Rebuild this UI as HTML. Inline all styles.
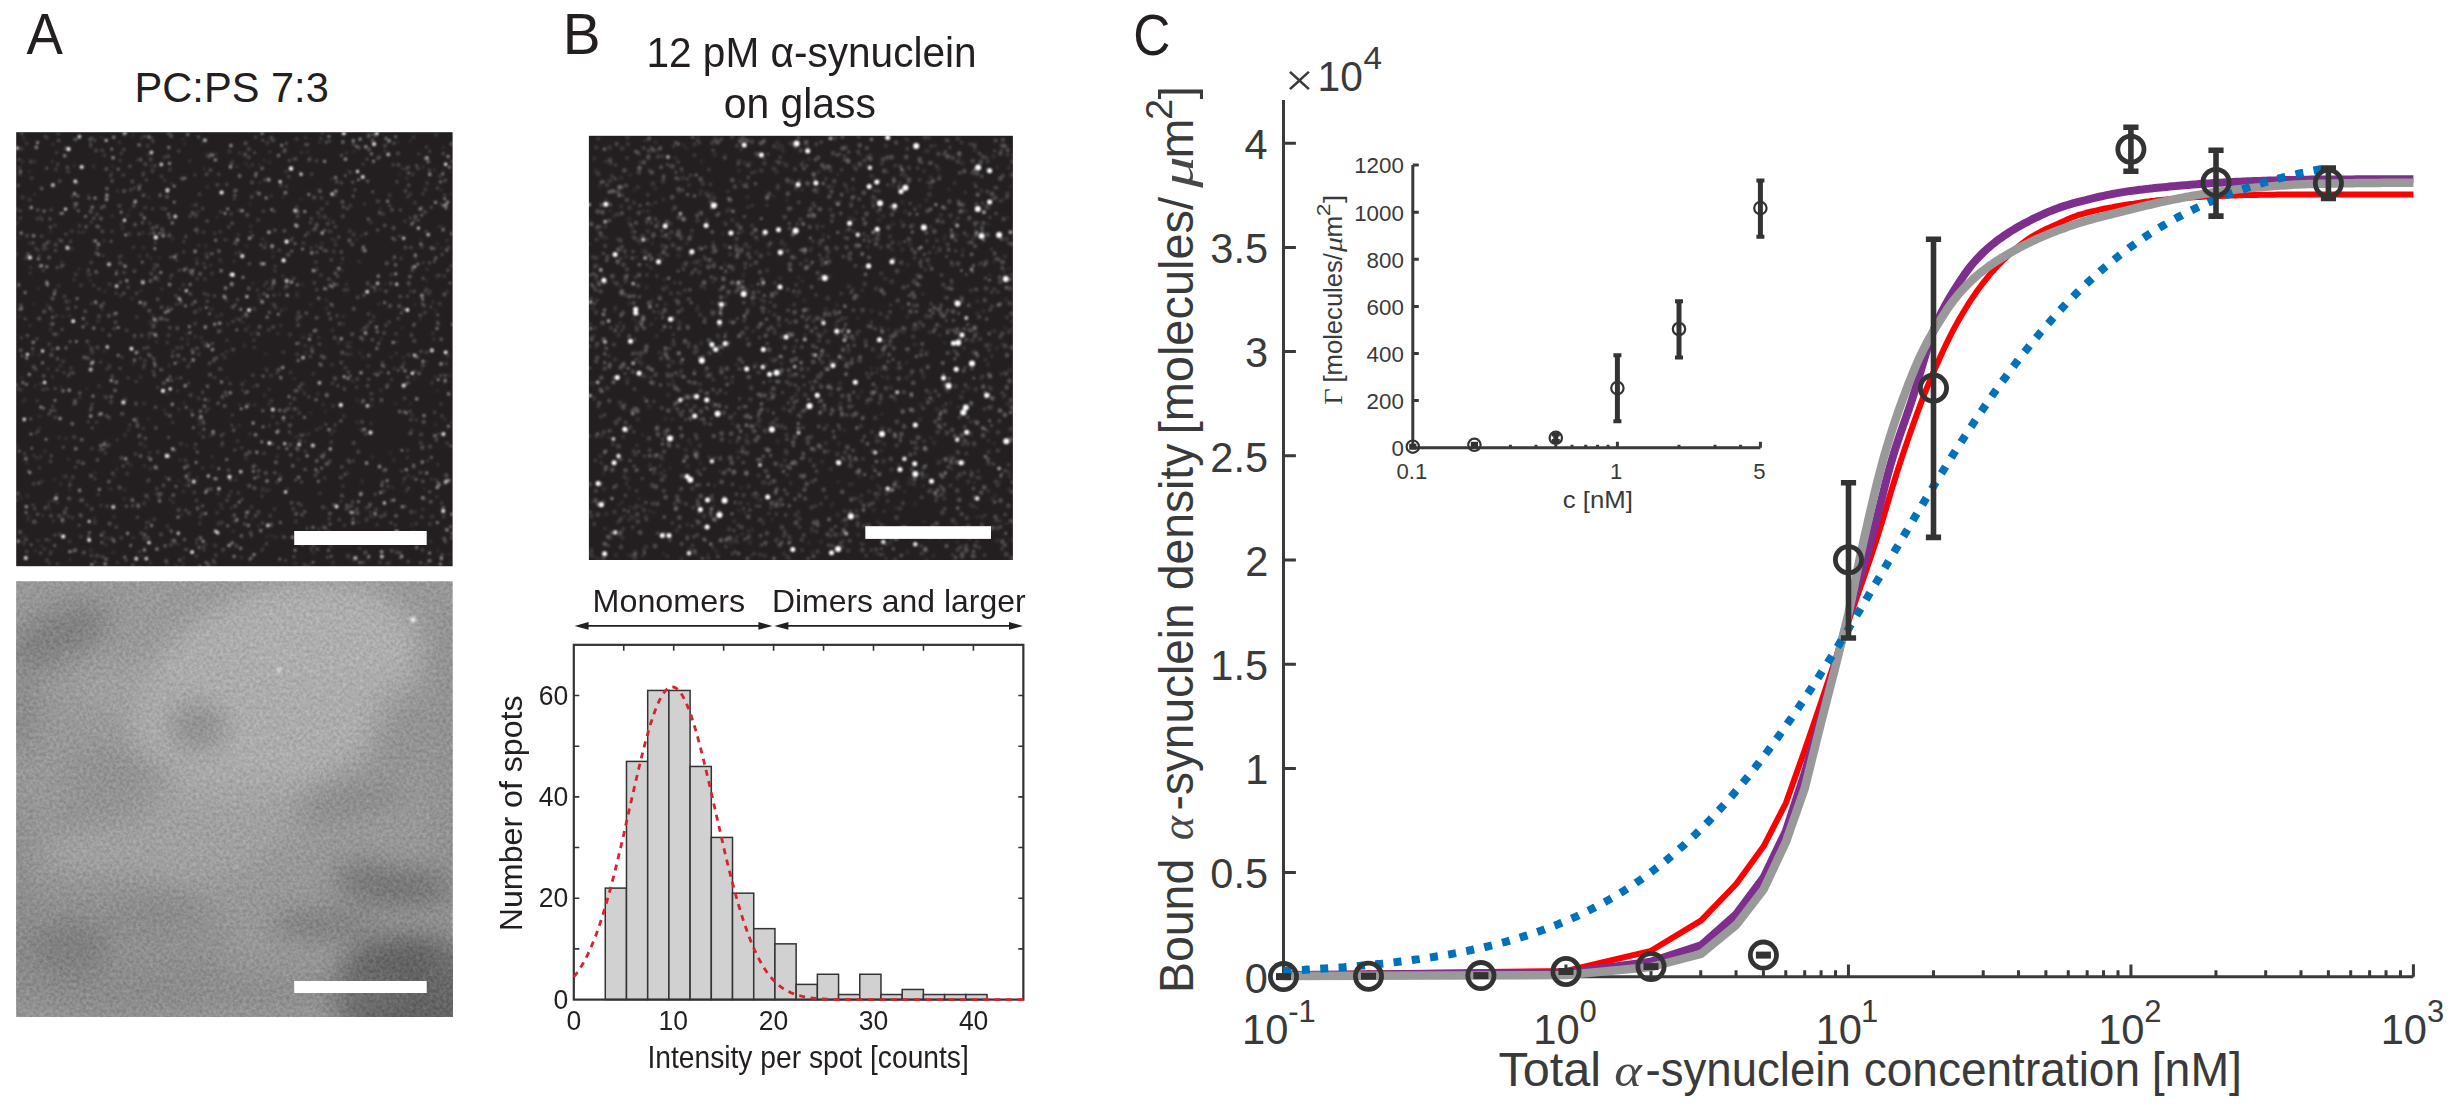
<!DOCTYPE html>
<html lang="en"><head><meta charset="utf-8"><title>Figure</title>
<style>
html,body{margin:0;padding:0;background:#fff;}
body{width:2460px;height:1113px;overflow:hidden;}
svg{display:block;}
text{white-space:pre;}
</style></head><body>
<svg width="2460" height="1113" viewBox="0 0 2460 1113">
<rect width="2460" height="1113" fill="#fff"/>
<defs>
<filter id="b1" x="-5%" y="-5%" width="110%" height="110%"><feGaussianBlur stdDeviation="1.0"/></filter>
<filter id="bb" x="-20%" y="-20%" width="140%" height="140%"><feGaussianBlur stdDeviation="13"/></filter>
<filter id="bs" x="-50%" y="-50%" width="200%" height="200%"><feGaussianBlur stdDeviation="1.6"/></filter>
<filter id="grain" x="0" y="0" width="100%" height="100%" color-interpolation-filters="sRGB">
<feTurbulence type="fractalNoise" baseFrequency="0.3" numOctaves="3" seed="7" result="n"/>
<feColorMatrix in="n" type="matrix" values="1.3 0 0 0 -0.11  1.3 0 0 0 -0.11  1.3 0 0 0 -0.11  0 0 0 0 1"/>
</filter>
<clipPath id="cA1"><rect x="16.2" y="132.2" width="436.4" height="434"/></clipPath>
<clipPath id="cA2"><rect x="16.2" y="581.3" width="436.4" height="435.7"/></clipPath>
<clipPath id="cB"><rect x="588.9" y="135.8" width="424" height="424.2"/></clipPath>
</defs>

<g id="panelA">
<text x="26.49" y="54.00" font-family='"Liberation Sans", sans-serif' font-size="58.24" fill="#231f20" textLength="36.42" lengthAdjust="spacingAndGlyphs">A</text>
<text x="134.59" y="101.60" font-family='"Liberation Sans", sans-serif' font-size="42.64" fill="#231f20" textLength="194.24" lengthAdjust="spacingAndGlyphs">PC:PS 7:3</text>
<rect x="16.2" y="132.2" width="436.4" height="434" fill="#231f20"/>
<g clip-path="url(#cA1)">
<g fill="none" stroke="#fff" stroke-linecap="round" filter="url(#b1)"><path d="M399.7 174.5h0M324.7 452.5h0M402.4 328.0h0M142.3 280.2h0M40.1 187.3h0M61.2 387.3h0M354.1 151.4h0M262.3 491.6h0M271.3 248.2h0M38.3 288.4h0M346.5 342.7h0M216.9 217.0h0M192.4 205.2h0M89.6 345.0h0M287.8 282.5h0M29.4 171.5h0M204.2 168.7h0M143.6 537.6h0M403.2 482.5h0M250.0 204.1h0M443.5 147.4h0M50.8 231.9h0M310.6 413.0h0M138.7 189.2h0M170.0 529.3h0M141.4 556.1h0M244.8 381.3h0M390.4 452.5h0M414.9 304.6h0M270.5 489.8h0M104.2 351.4h0M265.5 353.9h0M35.3 550.6h0M121.6 211.0h0M409.5 276.8h0M373.9 162.9h0M301.8 389.7h0M19.2 148.6h0M451.4 193.8h0M441.7 248.0h0M449.0 554.0h0M114.5 476.3h0M91.3 404.2h0M202.0 142.8h0M326.5 508.2h0M48.4 389.2h0M421.8 472.5h0M435.4 310.6h0M226.9 378.0h0M112.9 166.2h0M300.7 199.2h0M410.5 403.7h0M346.3 541.2h0M300.9 436.2h0M273.6 251.6h0M341.6 263.2h0M426.7 362.1h0M432.3 381.5h0M443.4 171.3h0M178.5 544.2h0M414.3 378.7h0M335.4 178.8h0M424.5 488.7h0M186.8 445.5h0M41.5 546.0h0M373.6 320.6h0M182.8 139.1h0M420.8 239.8h0M380.5 208.5h0M27.0 463.6h0M69.9 559.6h0M69.4 489.8h0M252.2 519.0h0M264.4 160.4h0M363.0 357.4h0M92.7 352.2h0M188.2 339.4h0M290.8 433.9h0M90.1 280.7h0M299.8 172.1h0M26.3 142.9h0M444.4 382.7h0M285.5 308.9h0M420.3 319.0h0M176.7 378.6h0M318.6 343.9h0M159.2 257.5h0M426.9 280.8h0M437.3 390.9h0M50.1 509.3h0M387.6 143.5h0M333.1 565.5h0M150.8 258.4h0M366.4 521.3h0M19.5 238.3h0M342.7 270.7h0M246.5 453.6h0M266.8 536.4h0M344.3 416.5h0M437.6 243.9h0M422.4 369.2h0M130.2 209.6h0M95.2 472.7h0M322.3 248.0h0M283.0 197.3h0M197.7 477.7h0M96.2 303.8h0M395.4 403.5h0M221.6 330.2h0M148.4 419.2h0M436.9 435.9h0M88.6 194.9h0M86.9 388.7h0M98.8 565.3h0M398.1 142.0h0M258.2 525.9h0M188.9 482.1h0M178.9 480.8h0M82.1 232.9h0M184.1 402.7h0M239.4 404.4h0M248.6 166.5h0M272.3 303.7h0M139.1 351.9h0M271.4 535.5h0M365.9 334.0h0M437.8 550.4h0M436.7 439.3h0M259.4 164.9h0M248.9 326.6h0M263.3 547.2h0M385.0 283.8h0M325.2 411.3h0M345.5 353.6h0M232.6 160.2h0M34.2 304.0h0M294.5 378.4h0M132.7 136.6h0M219.6 259.0h0M307.9 151.9h0M307.0 538.8h0M419.6 435.0h0" stroke-width="3.07" opacity="0.074"/><path d="M311.2 550.3h0M177.3 390.7h0M368.1 282.1h0M272.2 288.8h0M250.0 433.9h0M408.0 475.5h0M343.0 537.8h0M225.4 298.3h0M56.6 494.1h0M269.4 425.4h0M170.2 499.7h0M50.2 219.1h0M423.3 262.6h0M33.9 455.6h0M173.2 502.3h0M198.7 245.2h0M183.5 491.6h0M430.7 541.8h0M436.6 496.8h0M208.9 400.3h0M271.2 195.6h0M284.4 192.8h0M379.5 211.9h0M406.5 490.9h0M270.6 515.9h0M164.7 180.4h0M91.5 303.4h0M267.7 178.6h0M189.6 160.9h0M116.5 312.7h0M176.0 565.9h0M149.2 337.3h0M149.6 452.5h0M433.8 339.1h0M24.2 544.2h0M90.2 274.5h0M371.0 423.5h0M385.0 150.7h0M50.1 553.9h0M269.0 404.3h0M427.0 269.3h0M254.7 404.7h0M360.6 535.9h0M149.0 521.5h0M250.8 226.1h0M438.0 464.5h0M346.4 284.3h0M376.7 326.5h0M178.9 409.2h0M280.8 325.3h0M407.2 457.6h0M30.8 267.8h0M332.5 330.1h0M394.1 368.5h0M92.5 404.0h0M34.0 505.2h0M149.4 233.8h0M98.9 226.9h0M269.1 389.2h0M122.9 264.9h0M222.0 508.0h0M272.7 416.4h0M301.7 152.3h0M410.7 291.2h0M202.4 467.9h0M57.3 502.8h0M191.6 410.9h0M264.3 285.4h0M169.2 365.2h0M150.2 542.9h0M190.2 362.4h0M260.4 262.9h0M364.5 203.7h0M23.7 137.9h0M140.5 434.6h0M42.8 515.2h0M430.9 560.8h0M331.0 231.4h0M332.1 239.1h0M156.3 227.4h0M305.4 137.3h0M39.4 255.3h0M312.4 533.7h0M317.1 269.1h0M154.0 264.3h0M236.9 318.5h0M30.3 273.2h0M231.5 508.0h0M49.2 540.3h0M234.1 261.1h0M393.7 459.8h0M269.8 151.7h0M40.5 383.5h0M40.8 456.7h0M170.3 278.0h0M438.4 433.9h0M333.1 562.0h0M46.7 388.3h0M439.5 274.9h0M281.4 378.9h0M235.8 479.9h0M52.4 376.9h0M199.4 398.5h0M117.1 439.9h0M105.9 544.8h0M320.3 538.9h0M267.1 282.0h0M234.5 429.2h0M236.8 166.8h0M233.4 531.1h0M406.8 178.1h0M368.1 366.1h0M396.2 353.4h0M235.9 253.8h0M23.8 542.1h0M436.0 479.3h0M414.3 324.5h0M208.4 408.6h0M431.7 479.0h0M242.8 316.4h0M150.5 562.8h0M165.8 477.8h0M407.8 377.3h0M260.1 299.3h0M35.6 433.3h0M400.9 412.4h0M427.7 460.7h0M370.5 512.2h0M231.1 491.6h0M133.2 537.7h0M195.1 336.6h0M318.8 337.5h0M144.3 539.6h0M52.2 161.8h0M197.9 211.6h0M433.0 333.1h0M340.7 501.4h0M268.7 289.1h0M440.9 204.1h0M141.4 137.9h0M242.4 390.1h0M117.5 562.6h0M103.4 255.4h0M239.3 152.9h0M41.2 266.0h0M58.9 239.5h0M78.5 232.0h0M30.1 325.3h0M53.3 520.9h0M80.0 397.2h0M241.1 557.6h0M32.3 505.0h0M119.4 142.4h0M187.7 344.1h0M65.8 438.2h0" stroke-width="3.07" opacity="0.121"/><path d="M408.8 382.6h0M38.0 250.0h0M441.6 503.0h0M407.8 197.0h0M97.4 248.2h0M220.2 231.8h0M99.0 244.4h0M206.6 343.1h0M353.3 460.9h0M422.9 193.6h0M152.6 208.7h0M100.6 362.0h0M426.5 147.0h0M264.5 180.0h0M121.2 153.4h0M167.3 342.5h0M368.2 136.6h0M204.9 279.0h0M325.8 527.8h0M80.1 392.8h0M326.6 289.1h0M146.5 522.7h0M93.7 241.0h0M342.6 258.6h0M64.0 372.6h0M88.3 421.8h0M322.1 133.1h0M21.3 337.7h0M395.4 525.3h0M436.1 134.9h0M164.6 319.3h0M112.0 231.3h0M103.7 532.6h0M305.3 144.6h0M320.9 138.4h0M214.8 377.6h0M387.8 384.2h0M94.9 478.7h0M299.3 343.0h0M197.3 228.6h0M234.4 198.8h0M183.9 241.5h0M105.3 453.3h0M290.4 403.7h0M23.8 420.2h0M208.1 294.9h0M16.5 500.0h0M43.3 270.5h0M416.2 523.6h0M49.8 218.8h0M159.0 496.7h0M96.5 422.2h0M317.8 471.5h0M335.7 244.7h0M313.2 230.0h0M330.9 546.3h0M344.6 525.2h0M320.0 364.1h0M430.1 291.2h0M279.0 155.3h0M232.3 415.1h0M48.4 505.7h0M356.5 387.1h0M413.7 137.0h0M197.0 278.9h0M155.2 242.8h0M320.0 344.1h0M160.1 194.5h0M142.9 175.3h0M401.5 471.1h0M75.5 467.3h0M116.7 271.2h0M425.8 231.3h0M382.3 362.2h0M52.7 406.4h0M146.3 527.5h0M444.8 195.0h0M217.0 512.7h0M103.9 449.3h0M428.7 294.0h0M176.4 254.9h0M56.6 152.6h0M335.4 195.3h0M194.8 174.7h0M369.0 507.1h0M102.8 556.7h0M134.2 188.0h0M440.9 404.1h0M196.4 556.2h0M420.1 472.6h0M348.8 506.6h0M128.1 377.8h0M430.8 306.9h0M234.5 521.5h0M91.2 222.3h0M188.7 383.1h0M285.6 560.5h0M329.0 518.7h0M220.8 211.9h0M136.3 381.5h0M317.6 472.2h0M166.0 414.0h0M226.9 340.3h0M98.9 289.0h0M203.5 232.3h0M283.5 352.1h0M281.0 477.6h0M257.2 192.2h0M144.1 364.9h0M448.0 355.9h0M18.5 388.9h0M375.0 290.5h0M93.8 285.2h0M57.3 563.8h0M214.3 358.2h0M35.8 248.3h0M116.1 293.0h0M209.9 362.9h0M231.9 425.4h0M333.2 222.4h0M95.1 562.0h0M244.7 155.3h0M392.2 533.1h0M401.1 258.5h0M226.6 395.4h0M315.7 270.9h0M301.4 384.0h0M317.3 317.8h0M203.1 546.8h0M24.5 453.4h0M241.7 447.8h0M262.0 550.1h0M429.8 151.4h0M183.7 251.9h0M399.6 236.2h0M284.7 537.4h0M277.2 423.1h0M181.9 338.5h0M405.3 506.5h0M410.1 217.8h0M387.2 563.4h0M157.4 387.3h0M210.7 253.6h0" stroke-width="3.07" opacity="0.169"/><path d="M289.3 160.6h0M34.7 508.8h0M400.4 210.0h0M156.7 468.2h0M390.9 522.7h0M136.1 421.0h0M301.6 482.0h0M278.6 447.6h0M251.4 535.7h0M192.2 304.3h0M429.3 170.3h0M311.8 174.3h0M271.7 137.3h0M26.7 551.6h0M53.6 334.1h0M57.1 267.4h0M139.2 189.3h0M373.1 134.5h0M254.5 152.7h0M79.1 525.2h0M347.6 208.6h0M397.0 181.9h0M386.0 469.6h0M54.8 410.5h0M205.1 267.6h0M308.9 396.7h0M230.1 383.5h0M348.4 372.0h0M215.7 555.1h0M90.4 410.2h0M418.2 220.2h0M74.1 403.8h0M296.4 448.0h0M327.3 557.3h0M442.1 254.5h0M411.0 247.4h0M226.8 184.4h0M222.4 442.7h0M66.2 508.2h0M398.1 370.2h0M139.0 233.9h0M16.4 209.4h0M203.3 436.9h0M396.5 515.7h0M106.3 415.5h0M184.1 359.4h0M349.6 462.0h0M408.3 488.0h0M137.4 517.2h0M339.3 519.6h0M434.3 248.3h0M54.9 535.1h0M221.4 435.5h0M218.8 174.2h0M337.9 385.8h0M126.2 560.0h0M75.8 307.1h0M57.8 164.2h0M392.4 237.9h0M165.5 208.8h0M235.4 304.7h0M407.6 377.0h0M409.6 276.5h0M414.3 291.4h0M161.3 493.9h0M55.1 388.5h0M272.6 443.8h0M422.5 550.1h0M46.9 242.9h0M295.6 480.0h0M375.2 494.3h0M332.5 305.5h0M351.3 505.9h0M354.9 189.7h0M171.7 380.6h0M28.5 471.0h0M307.1 528.2h0M155.0 165.8h0M440.7 375.4h0M63.4 447.1h0M289.3 431.7h0M46.9 559.8h0M150.4 355.9h0M434.3 261.4h0M186.3 268.0h0M135.6 200.7h0M437.5 188.0h0M51.3 455.9h0M22.1 355.7h0M64.5 296.2h0M400.0 552.9h0M91.8 138.1h0M366.9 159.0h0M298.1 503.3h0M202.6 208.5h0M403.8 309.1h0M233.4 430.6h0M286.3 143.4h0M304.5 564.7h0M325.8 424.2h0M25.2 318.8h0M434.7 412.3h0M413.3 532.2h0M148.8 480.1h0M56.5 498.1h0M75.7 449.0h0M284.5 230.6h0M156.8 488.5h0M146.4 180.0h0M167.5 319.8h0M88.4 536.4h0M202.7 392.3h0M447.7 480.1h0M36.9 338.8h0M212.4 253.8h0M88.6 269.7h0M408.2 561.4h0M174.6 450.2h0M55.5 250.5h0M364.6 327.8h0M230.4 480.1h0M214.4 295.8h0M68.3 375.7h0M414.8 371.4h0M37.9 431.5h0M195.6 444.2h0M431.2 207.2h0M335.4 226.7h0M40.6 553.1h0M371.9 399.6h0M352.6 501.9h0M44.6 245.0h0M262.8 140.3h0M168.5 437.4h0M410.1 411.3h0M273.9 295.3h0M244.5 523.9h0M132.7 505.9h0M258.2 476.5h0M421.0 351.4h0M297.3 319.7h0M116.2 313.4h0M340.6 420.9h0M185.6 510.2h0M331.3 442.1h0M20.3 210.7h0M441.1 557.0h0M132.9 500.7h0M18.8 284.0h0M90.5 143.8h0M46.3 539.6h0M72.8 477.1h0M77.0 203.8h0M193.5 360.6h0M123.4 175.0h0M66.7 246.6h0M92.2 428.0h0M341.5 182.9h0M216.8 478.8h0M384.8 515.2h0M316.8 289.7h0M180.8 377.9h0M123.9 149.6h0M413.3 325.2h0M311.4 218.6h0M136.1 404.1h0M201.2 538.5h0M62.1 329.6h0M228.8 227.0h0M404.7 398.3h0M370.4 322.1h0M212.5 343.5h0M338.8 236.9h0M329.7 141.1h0M429.4 262.9h0M123.2 465.9h0M344.9 474.4h0M273.7 282.1h0M368.7 379.3h0M144.8 136.3h0M227.0 500.4h0M291.3 239.9h0M367.5 283.7h0" stroke-width="3.07" opacity="0.216"/><path d="M381.2 338.9h0M54.8 479.7h0M151.3 165.6h0M102.3 309.2h0M25.0 399.5h0M199.7 433.4h0M433.1 301.9h0M435.7 424.2h0M94.4 518.4h0M372.2 457.1h0M178.1 361.9h0M111.7 173.1h0M371.7 405.2h0M314.0 552.9h0M326.3 300.1h0M279.9 474.5h0M167.2 393.9h0M61.3 262.1h0M443.7 512.4h0M377.4 536.4h0M183.8 558.1h0M53.2 144.4h0M444.8 419.3h0M167.2 564.3h0M253.7 386.4h0M253.6 422.4h0M27.0 143.7h0M186.8 334.2h0M259.6 182.8h0M180.0 289.1h0M439.4 226.4h0M391.2 357.4h0M392.5 487.5h0M21.5 377.5h0M287.6 489.0h0M63.7 515.7h0M269.7 162.4h0M49.3 501.9h0M239.1 425.5h0M236.6 244.2h0M39.0 355.3h0M124.8 489.9h0M359.8 352.9h0M180.0 460.1h0M245.9 163.5h0M184.5 143.7h0M148.8 197.3h0M302.6 284.7h0M341.6 420.7h0M250.8 231.7h0M42.2 481.4h0M451.8 422.2h0M171.5 133.1h0M357.1 422.4h0M19.2 316.5h0M101.3 137.2h0M403.6 357.8h0M134.5 337.9h0M121.7 255.9h0M246.5 246.1h0M137.4 159.9h0M157.0 336.6h0M20.8 498.3h0M140.9 290.8h0M181.8 514.8h0M242.9 322.4h0M202.8 341.9h0M411.6 524.9h0M410.3 141.1h0M156.5 342.1h0M84.2 231.4h0M393.4 259.2h0M62.8 316.4h0M435.1 376.8h0M357.3 400.1h0M227.3 525.9h0M22.8 162.0h0M449.4 375.5h0M133.7 363.6h0M78.9 269.1h0M331.4 179.0h0M445.7 528.9h0M329.3 219.4h0M70.2 481.0h0M63.7 476.3h0M203.1 421.6h0M266.0 283.2h0M319.7 142.6h0M310.8 304.4h0M35.3 385.9h0M305.0 441.5h0M216.2 154.0h0M140.2 184.3h0M409.3 194.5h0M184.8 485.5h0M34.8 194.5h0M197.6 397.8h0M23.2 401.4h0M203.9 139.5h0M396.9 342.1h0M40.5 216.6h0M222.1 369.3h0M147.1 481.6h0M350.2 342.6h0M210.1 435.6h0M39.2 428.4h0M343.4 316.3h0M97.0 273.4h0M74.1 165.5h0M227.1 300.8h0M317.9 394.1h0M25.0 258.5h0M116.7 469.0h0M305.9 352.8h0M361.4 235.5h0M279.4 294.4h0M434.4 169.6h0M171.6 183.7h0M38.9 266.7h0M356.5 239.6h0M441.3 190.3h0M348.7 171.8h0M194.7 448.3h0M423.1 167.1h0M43.3 244.9h0M104.8 291.4h0M148.6 498.7h0M101.1 556.4h0M450.1 562.3h0M443.1 227.3h0M331.3 434.0h0M253.2 283.2h0M212.3 466.3h0M164.1 409.9h0M325.3 529.0h0M68.5 459.4h0M212.3 456.9h0M343.4 415.7h0" stroke-width="3.60" opacity="0.074"/><path d="M437.5 321.5h0M274.8 271.1h0M362.6 249.9h0M196.8 539.7h0M176.6 304.3h0M276.9 373.0h0M305.1 345.7h0M407.6 450.3h0M283.3 536.4h0M238.3 492.9h0M254.9 309.3h0M266.9 370.8h0M46.5 248.3h0M350.5 172.4h0M139.4 551.8h0M45.0 136.3h0M220.8 504.3h0M379.7 156.9h0M251.6 506.8h0M125.2 435.0h0M215.1 563.6h0M90.8 146.4h0M266.2 369.0h0M305.2 451.4h0M224.9 296.5h0M62.8 522.1h0M253.3 308.8h0M254.0 340.2h0M175.3 543.2h0M304.4 393.4h0M144.2 403.6h0M257.5 290.0h0M342.9 485.9h0M266.8 490.6h0M206.3 411.2h0M109.4 444.8h0M362.1 402.7h0M286.4 186.6h0M200.2 517.2h0M51.0 551.9h0M225.0 357.8h0M196.5 543.2h0M72.4 196.6h0M120.9 295.7h0M121.4 457.5h0M127.4 462.9h0M140.4 358.4h0M106.9 369.1h0M410.4 276.4h0M99.1 386.1h0M254.3 347.5h0M121.9 357.3h0M92.1 352.3h0M414.6 219.8h0M102.7 329.5h0M44.5 548.8h0M161.9 208.4h0M129.9 424.9h0M252.5 164.7h0M221.4 314.7h0M404.1 363.2h0M66.0 476.2h0M319.8 493.4h0M133.5 247.4h0M68.4 516.4h0M363.1 164.3h0M311.0 248.0h0M359.6 548.5h0M177.4 328.9h0M376.9 524.8h0M172.8 422.2h0M98.1 494.6h0M316.7 429.5h0M16.7 254.1h0M444.3 276.3h0M425.4 291.3h0M120.2 160.6h0M214.6 233.3h0M300.4 434.9h0M189.0 474.1h0M347.2 354.5h0M127.5 281.5h0M49.1 563.0h0M72.5 517.8h0M318.6 529.2h0M237.5 441.1h0M447.9 481.6h0M109.4 367.3h0M331.9 364.8h0M222.4 354.4h0M56.5 315.8h0M86.6 323.6h0M272.3 285.9h0M199.8 523.4h0M405.1 221.3h0M308.5 565.5h0M324.6 478.0h0M418.8 153.7h0M101.0 505.5h0M309.9 158.3h0M87.0 505.0h0M391.0 274.7h0M274.4 509.1h0M366.1 507.9h0M39.6 467.8h0M328.9 231.2h0M136.7 316.9h0M81.2 516.2h0M160.5 369.6h0M323.9 250.4h0M349.7 347.0h0M384.4 366.4h0M239.5 252.4h0M152.2 171.6h0M313.3 373.7h0M333.0 282.7h0M262.1 496.3h0M218.1 493.6h0M206.2 254.0h0M262.8 488.5h0M204.9 346.1h0M143.6 367.6h0M297.2 316.3h0M333.0 405.9h0M415.4 257.5h0M149.7 223.4h0M152.1 138.3h0M373.8 316.5h0M172.9 351.5h0M416.4 420.0h0M143.3 428.5h0M63.5 264.7h0M391.6 379.5h0M147.3 255.4h0M167.5 526.3h0M55.1 225.2h0M296.8 206.6h0M222.0 445.4h0M238.8 210.2h0M261.3 133.3h0M290.4 372.5h0M223.4 433.9h0M167.7 307.5h0M371.2 516.3h0M368.1 558.4h0M275.2 266.4h0M281.2 310.3h0M74.4 139.3h0M342.6 496.2h0M347.1 346.5h0M285.8 171.7h0M405.8 169.0h0M370.8 222.2h0M176.5 260.3h0M69.6 541.5h0M216.1 159.2h0M283.7 420.4h0M183.5 284.8h0M203.7 263.4h0M203.9 550.0h0M37.3 400.7h0" stroke-width="3.60" opacity="0.121"/><path d="M120.0 368.4h0M293.3 508.9h0M237.6 299.7h0M407.5 296.2h0M297.2 390.7h0M426.7 352.2h0M255.5 137.2h0M353.2 143.9h0M389.6 205.7h0M341.5 495.3h0M91.2 262.4h0M154.1 268.7h0M51.1 209.7h0M204.5 293.8h0M310.3 356.6h0M416.2 356.7h0M374.8 374.0h0M263.4 211.2h0M96.9 214.3h0M190.1 216.2h0M321.4 365.4h0M66.2 301.4h0M337.1 315.7h0M331.4 259.9h0M152.3 333.2h0M371.4 393.7h0M170.8 544.9h0M152.9 141.5h0M357.4 379.1h0M179.2 270.3h0M234.8 450.0h0M239.5 319.8h0M188.2 366.4h0M337.0 284.4h0M178.8 151.1h0M59.7 534.4h0M128.2 287.4h0M41.7 236.2h0M103.5 303.6h0M252.9 375.3h0M385.8 325.4h0M207.4 301.4h0M110.7 175.8h0M130.7 189.9h0M421.5 434.3h0M410.9 419.7h0M404.5 478.7h0M65.9 234.0h0M242.2 384.3h0M91.4 555.6h0M274.4 304.9h0M321.8 208.8h0M124.0 272.4h0M73.2 372.9h0M279.2 250.2h0M157.0 226.2h0M294.0 556.7h0M398.2 318.4h0M53.7 500.3h0M148.7 457.4h0M389.2 322.0h0M321.4 197.9h0M315.3 475.4h0M288.8 176.7h0M348.2 460.2h0M153.4 371.5h0M116.4 527.1h0M171.7 275.2h0M196.4 500.5h0M121.3 537.9h0M365.8 433.9h0M395.5 515.9h0M196.0 204.9h0M19.3 159.5h0M94.8 140.4h0M177.2 347.8h0M216.9 357.9h0M135.5 454.0h0M195.1 323.6h0M293.9 278.3h0M136.6 293.3h0M421.7 516.9h0M262.5 523.1h0M376.2 509.3h0M451.4 265.7h0M368.6 313.9h0M353.2 522.6h0M25.9 459.4h0M49.2 344.2h0M33.7 483.9h0M144.2 348.3h0M436.3 439.9h0M35.9 369.4h0M197.0 263.4h0M210.5 154.4h0M393.2 164.8h0M160.1 272.2h0M161.7 370.0h0M70.5 241.5h0M316.6 160.7h0M43.4 248.7h0M379.6 213.3h0M337.6 276.4h0M190.8 272.4h0M147.8 347.6h0M199.6 194.3h0M320.5 191.6h0M175.9 295.7h0M295.9 514.1h0M256.5 451.7h0M253.0 466.8h0M245.3 392.7h0M343.5 536.2h0M57.4 370.0h0M425.0 312.6h0M298.5 312.4h0M417.9 168.6h0M102.2 150.2h0M242.0 499.5h0M281.0 185.5h0M442.2 554.9h0M107.0 506.2h0M141.4 533.0h0M314.4 282.9h0M126.8 330.2h0M310.3 222.7h0M233.0 321.5h0M245.3 153.8h0M431.0 247.6h0M123.8 134.6h0M55.1 417.4h0M153.1 227.9h0M266.4 543.7h0M50.4 461.4h0M219.6 368.9h0M234.5 190.7h0M41.9 219.3h0M303.0 435.0h0M156.1 466.7h0M335.1 425.0h0M274.2 211.3h0M318.2 212.7h0" stroke-width="3.60" opacity="0.169"/><path d="M188.6 479.8h0M400.6 557.8h0M126.4 506.2h0M169.7 217.8h0M375.6 135.5h0M69.9 485.1h0M145.3 438.3h0M225.5 392.2h0M161.5 307.2h0M257.4 385.2h0M298.1 325.0h0M326.3 142.2h0M112.2 376.3h0M89.8 139.6h0M411.6 335.1h0M153.6 358.7h0M183.1 178.7h0M255.7 515.8h0M190.3 293.9h0M139.7 145.0h0M400.2 296.4h0M32.7 348.7h0M408.7 185.2h0M228.5 470.2h0M225.4 298.2h0M129.9 166.2h0M323.8 455.0h0M273.2 327.0h0M445.1 180.4h0M422.8 481.4h0M352.7 182.2h0M210.3 170.1h0M186.0 549.6h0M299.5 387.0h0M104.2 206.4h0M408.2 167.3h0M76.0 139.6h0M401.4 313.0h0M384.2 333.0h0M172.5 356.1h0M264.1 293.8h0M252.0 182.4h0M367.5 385.8h0M423.2 278.2h0M169.8 327.7h0M148.7 354.6h0M168.6 133.6h0M299.9 440.8h0M437.9 482.4h0M154.3 375.3h0M423.1 365.2h0M236.1 190.5h0M37.8 210.0h0M155.9 427.9h0M438.0 323.9h0M343.4 207.0h0M331.2 556.2h0M326.3 250.7h0M18.5 285.5h0M422.6 303.8h0M330.5 318.7h0M222.6 396.4h0M142.5 222.7h0M375.6 515.0h0M116.6 381.6h0M424.1 305.7h0M344.4 389.0h0M114.1 541.5h0M412.4 270.3h0M58.6 140.5h0M50.9 515.7h0M157.6 299.4h0M97.4 459.9h0M246.7 315.9h0M45.3 507.9h0M341.9 467.0h0M333.9 504.8h0M353.1 518.7h0M57.5 358.8h0M372.3 339.8h0M168.2 156.2h0M227.9 525.8h0M67.4 167.2h0M155.6 407.3h0M330.0 524.1h0M112.1 180.9h0M18.2 185.3h0M235.3 506.0h0M197.1 348.2h0M112.7 473.3h0M373.6 540.9h0M413.8 466.9h0M427.5 158.5h0M364.1 295.3h0M448.7 394.5h0M384.7 225.4h0M385.9 291.4h0M188.8 485.5h0M339.6 323.7h0M251.3 557.5h0M37.6 514.3h0M339.4 268.9h0M393.9 143.2h0M378.1 158.1h0M91.8 509.0h0M200.1 537.5h0M316.2 330.2h0M317.3 549.0h0M297.8 449.6h0M451.7 538.0h0M288.2 408.8h0M163.5 485.4h0M392.0 209.9h0M27.5 335.5h0M101.5 207.5h0M38.9 483.1h0M274.8 472.7h0M234.8 195.3h0M120.4 282.2h0M61.3 240.9h0M431.9 248.6h0M352.3 244.6h0M294.4 408.9h0M394.5 239.6h0M412.5 267.2h0M304.7 511.7h0M138.5 506.8h0M55.0 290.9h0M323.7 527.0h0M378.7 343.4h0M447.9 270.3h0M50.5 227.2h0M404.4 411.7h0M123.8 293.3h0M162.0 229.0h0M445.3 541.6h0M160.2 195.8h0M398.5 164.7h0M365.9 233.6h0M336.9 181.7h0M115.5 322.2h0M20.7 305.4h0M109.5 335.3h0M232.2 223.3h0M341.3 252.0h0M417.1 356.9h0M87.3 357.7h0M302.0 514.9h0M207.1 257.2h0M249.4 263.7h0M158.9 493.9h0M87.9 358.5h0M269.4 312.4h0M328.8 313.6h0M87.1 341.4h0M179.7 560.1h0M382.4 482.3h0M93.8 218.2h0M61.6 266.2h0M358.2 451.9h0M157.3 265.4h0M307.4 144.5h0M331.0 304.3h0M445.2 375.5h0M295.7 159.0h0M207.2 221.0h0M73.9 550.9h0M85.2 311.4h0" stroke-width="3.60" opacity="0.216"/><path d="M389.9 562.3h0M144.5 465.9h0M151.5 228.8h0M98.0 321.1h0M199.4 309.9h0M205.8 544.6h0M273.1 256.8h0M200.8 337.4h0M431.8 383.5h0M351.1 354.1h0M310.9 548.3h0M153.0 315.9h0M132.2 298.6h0M104.4 240.8h0M17.4 222.9h0M211.7 309.2h0M39.7 416.2h0M47.6 305.5h0M93.7 166.5h0M380.8 390.2h0M251.5 333.7h0M366.6 328.6h0M297.0 216.9h0M426.1 564.9h0M209.2 364.1h0M275.6 537.0h0M414.7 323.8h0M110.5 489.3h0M262.7 238.7h0M205.6 246.0h0M59.2 437.5h0M338.9 342.5h0M75.9 403.4h0M207.6 186.9h0M122.6 228.4h0M385.2 512.8h0M32.6 353.8h0M244.4 345.4h0M359.0 261.7h0M227.9 324.4h0M293.1 159.1h0M284.4 231.3h0M302.9 383.8h0M261.0 263.8h0M245.8 458.9h0M412.9 477.2h0M323.1 404.5h0M105.4 441.8h0M265.9 179.8h0M265.9 243.2h0M139.4 256.1h0M135.5 402.7h0M222.0 398.4h0M319.6 216.9h0M277.9 333.5h0M29.9 243.3h0M156.2 493.5h0M292.0 417.1h0M16.4 446.7h0M48.0 368.7h0M295.2 563.6h0M72.2 249.1h0M353.6 560.3h0M358.2 522.1h0M91.1 550.5h0M361.8 329.7h0M21.0 389.9h0M121.4 458.4h0M161.8 289.2h0M28.3 519.2h0M226.8 351.9h0M148.4 154.8h0M24.2 536.9h0M422.9 509.4h0M408.8 284.7h0M143.0 233.0h0M69.3 301.7h0M446.8 240.2h0M117.3 191.0h0M50.5 329.6h0M200.5 308.8h0M150.4 468.4h0M51.0 324.4h0M412.4 415.2h0M143.7 247.7h0M127.8 215.4h0M346.5 152.7h0M326.4 308.2h0M282.8 275.8h0M114.0 516.7h0M130.8 465.1h0M303.3 337.4h0M60.7 484.0h0M380.2 289.2h0M297.3 295.7h0M321.9 243.3h0M320.4 427.7h0M60.6 365.7h0M109.3 365.3h0M316.6 246.4h0M270.5 138.9h0M220.7 261.0h0M128.7 430.1h0M259.1 295.1h0M298.4 459.2h0M36.9 457.9h0M109.6 538.3h0M150.2 322.8h0M343.5 323.8h0M34.8 161.9h0M292.5 238.1h0M308.3 433.9h0M379.1 303.8h0M158.1 279.9h0M133.2 132.2h0M216.7 316.6h0M74.0 279.9h0M415.4 512.1h0M206.6 155.0h0M28.7 516.8h0M334.2 430.8h0M69.6 315.8h0M410.7 194.0h0M105.3 537.9h0M347.4 473.1h0M264.7 395.1h0M349.1 239.3h0M284.8 288.0h0M52.4 311.0h0M196.6 259.1h0M38.1 540.6h0M335.3 240.8h0M297.1 409.0h0M238.2 235.1h0M152.6 169.7h0M58.6 285.8h0M113.5 552.2h0M112.2 216.3h0M45.3 451.2h0M296.7 293.6h0M269.8 515.6h0M87.9 272.1h0M296.2 436.8h0M447.1 291.5h0M256.5 332.5h0M88.0 275.2h0M199.4 424.0h0M402.6 168.6h0M27.6 495.9h0M411.7 430.0h0M362.0 481.4h0M145.1 446.1h0M277.1 456.4h0M353.0 381.0h0M334.8 543.2h0M124.4 498.7h0M183.2 564.3h0M140.5 377.3h0M210.6 265.2h0M172.7 238.6h0M121.6 224.0h0" stroke-width="4.13" opacity="0.074"/><path d="M129.4 233.9h0M147.7 145.7h0M284.4 151.7h0M290.0 334.6h0M156.7 277.0h0M70.2 373.3h0M202.0 514.0h0M125.3 399.5h0M52.5 349.3h0M412.8 174.3h0M345.5 367.9h0M236.5 239.5h0M366.7 519.0h0M315.8 262.1h0M420.7 442.9h0M368.2 536.6h0M149.1 333.8h0M95.0 522.5h0M333.8 251.6h0M380.9 372.3h0M197.2 231.8h0M296.5 513.5h0M109.7 284.3h0M429.9 524.1h0M166.7 454.3h0M104.5 155.2h0M63.2 361.4h0M427.1 183.1h0M316.1 317.8h0M19.3 168.1h0M440.0 176.3h0M367.7 325.4h0M114.2 328.6h0M225.5 239.7h0M344.0 290.0h0M144.1 503.4h0M79.6 225.7h0M154.0 324.4h0M267.3 142.9h0M181.6 178.6h0M55.9 169.4h0M275.5 307.8h0M229.5 151.5h0M379.9 562.2h0M443.7 516.4h0M371.6 286.5h0M350.4 205.5h0M446.1 363.7h0M181.8 347.4h0M154.1 519.3h0M161.5 176.2h0M79.4 393.3h0M303.4 243.1h0M201.9 419.2h0M425.5 189.2h0M301.0 505.1h0M422.1 246.5h0M326.4 463.5h0M426.6 289.3h0M215.2 545.5h0M248.4 404.5h0M185.6 460.3h0M264.0 453.3h0M295.9 521.5h0M180.9 443.8h0M119.4 257.0h0M349.7 231.1h0M447.3 443.2h0M127.3 473.8h0M297.9 215.7h0M198.8 354.2h0M408.8 355.0h0M140.5 443.7h0M164.5 157.2h0M157.8 451.9h0M48.8 241.7h0M383.7 491.2h0M144.3 305.8h0M68.0 171.4h0M80.5 500.5h0M135.8 419.0h0M389.7 195.2h0M396.1 333.7h0M299.3 413.0h0M332.5 383.2h0M320.0 364.1h0M297.2 354.2h0M271.3 400.7h0M327.1 203.3h0M432.3 516.5h0M21.5 148.7h0M194.2 492.4h0M31.7 178.1h0M27.2 257.6h0M311.5 347.9h0M46.8 137.8h0M383.0 214.1h0M189.6 270.8h0M414.9 202.8h0M107.3 446.1h0M277.0 482.3h0M168.5 335.4h0M222.0 522.5h0M19.9 174.2h0M439.7 303.9h0M180.8 302.9h0M58.3 133.6h0M424.6 498.9h0M310.1 335.3h0M268.8 329.7h0M296.6 139.0h0M75.8 274.3h0M218.6 523.5h0M231.0 213.9h0M160.2 318.6h0M145.0 360.7h0M320.8 275.0h0M228.9 495.7h0M177.2 327.6h0M212.0 273.5h0M76.7 183.0h0M364.4 332.5h0M29.7 199.7h0M81.0 285.4h0M193.0 269.5h0M270.9 375.6h0M91.8 448.5h0M199.1 419.0h0M143.6 173.0h0M71.0 368.1h0M362.8 339.4h0M22.6 197.2h0M448.5 247.3h0M43.1 389.5h0M437.5 276.0h0M308.1 233.1h0M145.3 207.7h0M321.0 456.0h0M169.9 169.5h0M387.9 486.2h0M37.4 218.7h0M353.7 234.4h0M75.0 207.1h0M20.3 218.1h0M347.2 289.8h0M137.3 424.1h0M71.9 231.2h0M172.3 540.8h0M442.0 416.1h0M258.1 220.1h0M245.9 329.6h0M80.8 536.7h0" stroke-width="4.13" opacity="0.121"/><path d="M309.2 160.0h0M391.8 550.9h0M327.7 223.8h0M119.9 262.9h0M96.3 253.1h0M357.7 297.2h0M362.0 421.9h0M231.7 285.0h0M59.7 181.1h0M405.5 191.0h0M319.3 190.5h0M421.4 208.0h0M133.8 205.9h0M245.9 454.7h0M398.0 153.4h0M362.7 562.5h0M248.1 511.9h0M141.3 214.6h0M206.6 174.3h0M329.0 279.3h0M250.8 532.9h0M178.7 509.9h0M236.5 545.9h0M264.5 247.4h0M150.8 159.5h0M341.2 362.6h0M291.4 168.1h0M420.4 315.2h0M235.0 242.9h0M340.9 477.5h0M145.4 164.2h0M383.4 536.6h0M189.1 513.1h0M203.6 423.1h0M223.1 549.8h0M101.0 449.5h0M258.4 512.1h0M217.3 184.7h0M291.7 502.8h0M324.7 216.8h0M391.8 500.5h0M55.7 244.8h0M346.7 508.7h0M105.9 397.1h0M300.3 316.7h0M322.9 507.2h0M405.4 247.5h0M59.1 515.9h0M422.9 295.0h0M82.3 499.9h0M91.5 348.8h0M342.8 216.2h0M213.5 560.8h0M231.6 163.6h0M284.8 149.9h0M67.9 308.6h0M108.8 417.6h0M96.1 150.6h0M161.4 318.4h0M141.7 335.5h0M353.7 442.9h0M425.0 212.1h0M326.9 395.8h0M396.9 552.3h0M258.6 470.8h0M195.9 215.6h0M377.9 201.2h0M102.5 231.5h0M233.1 349.6h0M334.8 337.9h0M430.0 446.6h0M294.1 398.8h0M78.3 461.8h0M96.9 555.7h0M137.6 426.2h0M408.7 282.9h0M356.7 509.4h0M190.6 395.1h0M251.7 196.8h0M328.3 532.4h0M192.4 350.1h0M414.3 340.9h0M132.3 181.4h0M134.5 271.1h0M290.2 444.6h0M97.5 347.5h0M132.8 565.4h0M329.5 461.4h0M362.1 430.0h0M348.2 556.1h0M74.2 437.0h0M210.8 489.1h0M384.9 145.8h0M30.8 161.6h0M411.2 511.9h0M161.0 534.4h0M195.0 312.0h0M80.4 514.9h0M153.3 326.8h0M390.9 283.6h0M62.5 519.9h0M381.1 516.5h0M254.4 465.8h0M213.9 360.6h0M273.3 140.5h0M327.1 464.2h0M274.8 230.2h0M66.0 148.4h0M27.0 235.7h0M147.9 537.9h0M56.2 334.3h0M111.1 402.0h0M248.7 157.2h0M115.9 382.7h0M99.0 316.2h0M49.3 413.7h0M163.0 232.3h0M313.2 545.4h0M295.3 390.7h0M248.9 149.1h0M151.3 273.6h0M119.5 205.8h0" stroke-width="4.13" opacity="0.169"/><path d="M329.9 513.6h0M271.2 524.6h0M140.6 159.7h0M247.3 215.0h0M18.2 541.6h0M410.5 433.3h0M91.0 475.8h0M69.1 498.5h0M342.4 201.9h0M153.6 233.0h0M390.0 305.9h0M441.2 339.2h0M284.8 410.7h0M422.5 447.4h0M353.7 308.8h0M83.1 463.2h0M352.2 334.3h0M290.0 425.2h0M124.2 191.1h0M90.7 211.6h0M178.2 355.6h0M444.1 538.5h0M249.4 452.2h0M52.7 323.9h0M286.8 286.2h0M209.2 156.5h0M315.4 228.5h0M402.2 367.2h0M446.2 475.4h0M415.5 216.6h0M146.3 495.7h0M83.8 552.5h0M75.8 448.5h0M155.0 278.2h0M273.7 283.3h0M357.6 513.3h0M119.6 487.6h0M28.1 254.3h0M316.7 224.7h0M326.8 394.6h0M169.9 415.8h0M386.8 263.4h0M166.2 561.1h0M208.7 565.4h0M39.2 318.6h0M64.7 512.2h0M430.8 501.8h0M169.2 235.4h0M399.2 306.1h0M192.7 212.9h0M444.4 294.4h0M135.0 224.6h0M335.4 273.3h0M369.0 149.5h0M34.0 521.7h0M213.1 434.0h0M248.8 288.4h0M386.9 386.8h0M143.5 195.2h0M368.8 135.3h0M197.6 508.4h0M187.4 466.0h0M342.3 352.6h0M273.8 280.6h0M360.9 337.8h0M138.0 505.0h0M272.2 245.9h0M312.3 351.4h0M358.6 147.5h0M245.6 143.3h0M122.2 413.8h0M324.2 357.5h0M106.4 169.0h0M113.0 539.4h0M210.0 374.7h0M224.6 406.0h0M249.2 485.7h0M52.6 298.4h0M245.9 313.7h0M381.5 400.1h0M451.5 143.9h0M335.1 378.4h0M149.3 310.7h0M232.9 307.1h0M422.0 447.8h0M155.9 320.2h0M114.7 313.8h0M101.0 218.6h0M200.2 273.9h0M393.6 228.1h0M297.5 211.4h0M132.1 499.7h0M265.8 473.0h0M384.3 470.3h0M108.9 315.7h0M254.4 488.0h0M144.7 534.8h0M288.3 254.8h0M34.7 521.9h0M75.3 203.9h0M101.1 306.1h0M423.7 421.9h0M349.6 240.8h0M278.5 369.8h0M49.1 257.5h0M314.1 197.5h0M419.0 373.4h0M139.4 186.8h0M44.2 311.5h0M33.8 367.0h0M425.6 158.5h0M163.9 383.0h0M109.6 523.6h0M321.8 356.3h0M51.3 354.9h0M386.4 539.6h0M259.6 326.7h0M25.9 458.4h0M361.2 493.1h0M20.7 350.3h0M167.1 196.8h0M234.2 515.4h0M372.5 140.2h0M111.2 396.8h0M365.4 552.6h0M368.7 355.6h0M218.8 331.4h0M75.1 400.9h0M56.2 498.1h0M97.3 226.5h0M20.1 532.1h0M370.0 504.5h0M17.7 493.6h0" stroke-width="4.13" opacity="0.216"/></g>
<g fill="none" stroke="#fff" stroke-linecap="round" filter="url(#b1)"><path d="M260.9 244.8h0M21.8 133.7h0M305.3 235.4h0M170.8 257.2h0M171.6 308.9h0M62.4 519.7h0M202.6 506.0h0M26.3 539.6h0M70.1 341.7h0M346.6 505.2h0M429.7 492.0h0M198.6 137.0h0M195.2 229.9h0M192.3 274.3h0M413.6 465.0h0M252.4 235.9h0M134.6 335.5h0M350.2 376.0h0M91.4 407.8h0M138.5 144.8h0M377.7 230.1h0M353.2 196.2h0M416.5 165.6h0M33.1 243.1h0M451.9 161.4h0M341.5 155.4h0M51.2 410.5h0M420.7 562.8h0M30.7 418.8h0M111.1 241.4h0M372.8 191.8h0M413.2 222.7h0M16.8 384.9h0M185.8 236.6h0M246.0 516.9h0M31.2 544.9h0M46.7 168.2h0M449.9 283.1h0M316.8 252.4h0M170.1 376.7h0M450.9 446.1h0M437.7 314.9h0M320.5 247.9h0M443.1 153.6h0M374.6 287.5h0M345.3 175.7h0" stroke-width="2.80" opacity="0.295"/><path d="M359.4 562.4h0M78.3 210.8h0M366.4 291.9h0M159.5 233.3h0M280.4 522.5h0M52.6 317.4h0M218.0 403.3h0M77.9 196.1h0M399.3 411.3h0M142.2 262.2h0M236.7 329.9h0M89.5 532.7h0M41.9 188.7h0M43.6 408.4h0M60.7 213.5h0M321.7 468.2h0M334.3 284.7h0M168.9 456.2h0M247.5 391.8h0M176.0 486.4h0M161.1 272.7h0M368.3 219.2h0M199.9 566.2h0M31.8 448.3h0M324.5 230.3h0M209.5 313.8h0M66.0 348.0h0M356.1 146.2h0M255.6 176.0h0M381.8 485.5h0M333.4 535.8h0M193.4 427.7h0M416.0 479.4h0M199.0 547.5h0M431.4 457.4h0" stroke-width="2.80" opacity="0.365"/><path d="M26.1 512.6h0M190.0 332.7h0M263.0 426.8h0M332.2 286.9h0M174.2 202.2h0M443.3 205.6h0M257.0 452.6h0M280.7 377.5h0M239.2 502.2h0M55.0 400.5h0M318.4 481.4h0M452.3 324.4h0M83.3 318.6h0M262.0 264.1h0M358.4 179.8h0M449.2 480.3h0M83.3 318.3h0M286.8 448.7h0M386.0 138.5h0M388.4 373.0h0M230.3 274.8h0M124.7 557.1h0M62.6 213.3h0M406.3 413.0h0M133.9 419.8h0M116.3 273.9h0M31.0 434.1h0M315.7 469.7h0M121.1 212.3h0M85.5 216.4h0M401.9 450.3h0M254.8 478.2h0M185.4 306.0h0M111.8 149.2h0M218.8 468.7h0M442.8 174.0h0M395.6 136.8h0M428.2 161.9h0M100.7 445.7h0M262.5 133.4h0M417.9 264.2h0" stroke-width="2.80" opacity="0.435"/><path d="M302.5 249.1h0M26.7 358.2h0M175.0 363.3h0M54.4 293.9h0M227.7 208.9h0M193.1 359.7h0M174.2 186.1h0M371.5 153.9h0M444.7 198.8h0M180.4 300.2h0M376.4 327.3h0M192.4 415.0h0M373.5 161.2h0M212.1 349.9h0M196.1 462.4h0M125.7 235.0h0M422.7 299.2h0M25.1 292.6h0M295.1 550.3h0M271.7 209.6h0M437.4 522.7h0M212.9 349.3h0M289.0 396.6h0M126.7 280.5h0M368.9 556.4h0M241.2 408.8h0M189.3 326.7h0M154.9 248.7h0M302.7 544.1h0M394.0 500.1h0M225.0 213.5h0M308.8 194.5h0M261.8 441.9h0M278.3 314.3h0M375.0 513.2h0M172.3 223.0h0M240.8 309.4h0M438.2 379.7h0M118.2 355.3h0M76.4 341.6h0" stroke-width="2.80" opacity="0.505"/><path d="M263.1 376.1h0M290.7 454.8h0M139.1 436.2h0M197.4 452.0h0M43.7 375.9h0M328.3 550.4h0M171.4 531.3h0M450.7 526.6h0M278.3 155.7h0M118.2 169.2h0M18.3 540.8h0M203.9 429.3h0M19.2 451.0h0M305.1 469.5h0M279.7 559.1h0M171.2 136.2h0M306.3 313.0h0M408.5 172.9h0M448.5 393.3h0M394.7 256.9h0M262.8 410.7h0M291.7 251.0h0M249.9 559.3h0M313.0 562.3h0M96.0 271.7h0M155.1 365.7h0M186.2 407.3h0M50.1 308.2h0M421.7 215.2h0M207.2 489.7h0M322.6 457.0h0M54.8 545.5h0M101.9 542.5h0M185.1 178.0h0M258.5 334.1h0M75.7 549.9h0M89.0 198.1h0M406.4 383.6h0M295.1 243.6h0M192.5 271.1h0M86.1 226.7h0M367.6 181.1h0M184.5 539.5h0" stroke-width="3.20" opacity="0.295"/><path d="M106.9 188.6h0M397.7 537.1h0M184.6 467.7h0M279.7 410.2h0M20.1 309.3h0M253.4 471.2h0M167.2 191.3h0M46.1 439.3h0M313.0 527.4h0M226.7 459.5h0M384.6 302.6h0M22.9 382.7h0M314.3 330.8h0M20.5 171.6h0M134.5 360.1h0M330.0 285.5h0M445.1 482.9h0M246.7 512.7h0M26.5 384.3h0M83.0 326.8h0M215.7 240.2h0M440.6 181.8h0M190.2 284.4h0M205.2 399.6h0M21.7 308.3h0M42.6 362.8h0M338.5 268.3h0M169.0 479.2h0M296.8 343.5h0M77.1 298.6h0M130.7 545.3h0M304.4 417.3h0M44.1 211.1h0M452.3 533.2h0M358.4 501.6h0M292.8 465.8h0M352.9 523.1h0M267.1 317.2h0M206.3 307.5h0M446.0 208.1h0" stroke-width="3.20" opacity="0.365"/><path d="M429.6 553.0h0M437.0 328.5h0M93.0 396.0h0M243.0 277.3h0M363.4 247.2h0M237.8 240.0h0M151.6 525.4h0M168.8 147.4h0M95.6 240.9h0M420.9 244.0h0M178.1 517.0h0M184.3 269.8h0M99.3 489.4h0M387.6 201.2h0M387.1 480.6h0M63.0 390.8h0M165.3 312.3h0M364.6 429.3h0M439.2 484.7h0M348.0 378.4h0M205.6 513.5h0M321.5 540.0h0M353.1 512.6h0M187.7 134.5h0M215.2 160.0h0M240.7 548.3h0M234.1 556.4h0M118.1 327.5h0M93.8 328.1h0M46.8 282.2h0M221.5 381.9h0M221.1 270.7h0M281.6 145.3h0M212.7 155.0h0M272.1 246.2h0M405.0 370.8h0M443.1 229.8h0M380.6 492.6h0M324.7 288.6h0M144.3 217.9h0M232.1 542.9h0M328.8 136.5h0M449.5 167.1h0M266.1 197.9h0" stroke-width="3.20" opacity="0.435"/><path d="M205.8 492.2h0M29.9 472.5h0M95.0 198.0h0M213.1 431.6h0M95.6 302.1h0M167.8 379.9h0M254.1 554.5h0M353.3 140.7h0M295.6 224.9h0M21.2 233.0h0M401.8 556.2h0M421.6 295.6h0M360.1 139.2h0M91.8 564.5h0M452.0 514.2h0M92.9 361.9h0M447.0 529.9h0M253.1 423.1h0M37.5 142.6h0M267.4 296.1h0M309.4 339.4h0M378.3 276.1h0M415.3 255.0h0M324.6 161.3h0M69.9 551.6h0M127.6 533.3h0M169.5 163.4h0M395.7 273.8h0M203.1 541.3h0M424.0 415.6h0M423.0 361.3h0M448.1 156.4h0M125.2 266.2h0M307.1 455.8h0M174.6 256.9h0M40.9 407.0h0M447.6 202.2h0M105.1 563.9h0M304.8 211.6h0M441.4 558.6h0M365.7 332.9h0M29.3 374.4h0M435.5 202.3h0M393.2 342.4h0M335.8 191.2h0" stroke-width="3.20" opacity="0.505"/><path d="M195.0 301.9h0M298.2 360.6h0M98.6 254.6h0M416.6 547.4h0M446.8 250.1h0M395.6 264.9h0M165.1 545.8h0M150.4 280.9h0M256.1 173.5h0M218.9 251.1h0M451.7 233.6h0M115.0 390.4h0M206.4 562.8h0M382.6 365.6h0M99.4 414.6h0M173.3 495.1h0M145.1 303.2h0M101.3 535.3h0M108.9 481.6h0M241.4 535.9h0M318.7 298.2h0M443.2 507.8h0M278.1 430.9h0M376.8 348.4h0M84.2 357.3h0M435.8 258.0h0M200.4 411.3h0M276.0 462.4h0M377.5 374.8h0M207.5 386.2h0M204.5 406.3h0M316.7 460.9h0M81.7 439.8h0M411.7 224.2h0M154.5 363.1h0M168.5 214.3h0M262.2 168.4h0M297.4 284.7h0M155.1 467.2h0M316.0 399.8h0M140.6 456.1h0M363.3 400.8h0M377.2 331.7h0M174.4 540.5h0M106.0 559.1h0M192.9 352.8h0" stroke-width="3.60" opacity="0.295"/><path d="M420.1 209.1h0M46.7 266.7h0M440.4 564.1h0M72.3 423.7h0M323.1 539.0h0M285.6 192.7h0M150.6 459.4h0M98.2 244.3h0M186.2 476.4h0M259.2 193.8h0M239.6 175.9h0M224.1 296.4h0M342.9 142.1h0M429.1 560.7h0M248.3 525.4h0M426.7 473.0h0M448.4 426.3h0M159.6 500.9h0M335.6 177.5h0M434.8 435.7h0M260.7 530.6h0M298.6 477.3h0M38.5 258.8h0M92.2 207.3h0" stroke-width="3.60" opacity="0.365"/><path d="M225.6 288.0h0M33.6 235.7h0M195.1 251.4h0M279.6 479.8h0M292.5 537.3h0M422.3 462.1h0M55.9 498.3h0M156.9 549.0h0M287.3 295.2h0M236.8 519.9h0M360.6 494.5h0M104.2 444.3h0M33.3 342.2h0M406.3 469.7h0M36.3 147.4h0M230.3 392.8h0M422.6 497.7h0M47.4 284.6h0M64.7 155.7h0M255.6 434.8h0M101.2 413.7h0M364.9 250.8h0M168.3 311.0h0M154.2 319.2h0M144.4 549.9h0M267.0 481.1h0M215.1 478.8h0M416.7 398.9h0M231.8 283.7h0M214.7 324.2h0M169.6 284.6h0M445.2 380.6h0M79.6 490.4h0M172.3 404.4h0M277.0 432.3h0M311.8 252.9h0M149.0 137.0h0M329.0 429.8h0M402.4 506.7h0M426.9 157.7h0M113.7 137.3h0" stroke-width="3.60" opacity="0.435"/><path d="M366.6 463.1h0M345.5 159.2h0M113.1 157.7h0M429.8 174.4h0M379.5 466.6h0M246.6 406.7h0M341.3 338.8h0M140.3 302.5h0M106.9 195.4h0M90.7 416.1h0M365.8 146.8h0M361.0 372.8h0M414.7 266.8h0M208.3 345.7h0M282.7 367.5h0M91.7 363.5h0M283.5 417.7h0M230.9 145.6h0M232.9 275.3h0M205.3 327.1h0M106.6 199.5h0M74.6 193.7h0M41.2 265.8h0M441.0 363.9h0M229.1 545.4h0M155.3 334.9h0M26.3 506.8h0M389.1 140.8h0M135.1 201.9h0M179.1 298.5h0M351.1 512.4h0M163.2 235.8h0M69.2 390.2h0M249.6 238.2h0M344.2 376.8h0M185.2 385.8h0M262.2 301.9h0M381.7 551.9h0M437.3 487.4h0M296.9 226.1h0M230.5 166.9h0M31.2 207.6h0M136.3 352.6h0M125.6 458.8h0M57.8 348.2h0M268.8 179.9h0M263.9 263.8h0M445.8 205.1h0M200.9 416.8h0M291.5 282.1h0M111.3 380.5h0M313.4 270.6h0M60.1 418.6h0M219.7 323.3h0M242.1 210.7h0" stroke-width="3.60" opacity="0.505"/></g>
<g fill="none" stroke="#fff" stroke-linecap="round" filter="url(#b1)"><path d="M322.2 233.0h0M268.9 232.3h0M400.7 535.8h0M208.3 476.0h0M106.2 140.4h0M330.3 448.9h0M172.7 448.9h0" stroke-width="3.40" opacity="0.650"/><path d="M178.3 533.2h0M403.7 238.2h0M414.5 355.2h0M418.4 228.1h0M215.6 531.2h0M89.2 521.4h0M284.7 443.6h0M186.3 290.7h0M384.4 503.0h0M396.7 284.3h0M218.9 488.7h0M246.9 296.6h0" stroke-width="3.40" opacity="0.750"/><path d="M217.7 532.8h0M124.5 220.3h0M65.5 209.1h0M42.6 351.0h0M280.2 181.7h0M17.1 148.1h0M27.4 354.4h0M285.6 492.0h0M107.3 347.0h0M357.5 171.5h0M24.3 419.2h0M367.4 291.7h0M301.1 174.2h0" stroke-width="3.40" opacity="0.850"/><path d="M170.2 388.9h0M44.6 382.5h0M445.7 164.2h0M148.9 542.6h0M412.4 373.3h0" stroke-width="3.40" opacity="0.950"/><path d="M205.0 140.3h0M446.1 481.3h0M124.9 132.9h0M388.3 154.4h0M377.6 283.3h0M319.5 382.8h0M240.7 471.7h0M428.2 234.6h0M303.1 357.6h0" stroke-width="3.80" opacity="0.650"/><path d="M299.1 444.5h0M267.9 525.4h0M161.3 164.4h0M381.9 556.6h0M116.6 286.1h0M151.4 152.5h0M146.3 558.6h0M318.3 534.4h0M175.3 216.5h0M79.4 136.7h0M367.5 405.8h0M332.2 194.1h0" stroke-width="3.80" opacity="0.750"/><path d="M25.8 558.0h0M136.2 558.7h0M75.3 181.3h0M376.8 133.2h0M336.5 506.5h0M362.8 177.0h0" stroke-width="3.80" opacity="0.850"/><path d="M407.4 309.9h0M443.2 510.9h0M73.2 321.2h0M131.5 348.7h0M89.1 540.0h0M445.7 352.3h0M249.0 310.1h0M192.1 552.1h0M269.4 443.1h0" stroke-width="3.80" opacity="0.950"/><path d="M142.9 282.4h0M109.0 264.3h0M396.7 531.8h0M90.7 369.6h0M52.9 185.2h0M286.7 280.9h0M355.4 558.0h0M295.2 210.7h0" stroke-width="4.20" opacity="0.650"/><path d="M67.6 248.0h0M431.9 350.4h0M167.5 190.1h0M193.8 481.7h0M113.3 507.0h0M312.9 445.5h0M272.8 409.6h0" stroke-width="4.20" opacity="0.750"/><path d="M123.4 402.4h0M81.7 167.0h0M30.0 257.6h0M374.1 144.1h0M370.5 432.6h0M343.8 133.3h0M242.3 256.2h0M229.5 476.9h0M443.4 434.1h0M403.7 385.6h0" stroke-width="4.20" opacity="0.850"/><path d="M63.2 536.5h0M283.6 260.4h0M68.5 149.1h0M291.0 168.7h0M155.8 237.4h0M340.8 405.1h0M221.6 192.5h0M163.0 390.8h0M286.6 241.7h0M166.9 456.0h0M232.4 274.5h0M347.1 535.1h0" stroke-width="4.20" opacity="0.950"/></g>
</g>
<rect x="294.2" y="531" width="132.5" height="14" fill="#fff"/>
<rect x="16.2" y="581.3" width="436.4" height="435.7" fill="#9b9b9b"/>
<g clip-path="url(#cA2)">
<g filter="url(#bb)">
<ellipse cx="275" cy="690" rx="150" ry="100" fill="#b6b6b6" opacity="0.85" transform="rotate(-25 275 690)"/>
<ellipse cx="330" cy="640" rx="90" ry="45" fill="#b6b6b6" opacity="0.6" transform="rotate(0 330 640)"/>
<ellipse cx="180" cy="830" rx="130" ry="55" fill="#ababab" opacity="0.65" transform="rotate(-15 180 830)"/>
<ellipse cx="130" cy="690" rx="60" ry="30" fill="#ababab" opacity="0.5" transform="rotate(0 130 690)"/>
<ellipse cx="58" cy="636" rx="55" ry="25" fill="#787878" opacity="0.8" transform="rotate(-25 58 636)"/>
<ellipse cx="198" cy="727" rx="30" ry="25" fill="#848484" opacity="0.7" transform="rotate(0 198 727)"/>
<ellipse cx="20" cy="712" rx="16" ry="45" fill="#828282" opacity="0.7" transform="rotate(0 20 712)"/>
<ellipse cx="70" cy="948" rx="40" ry="28" fill="#707070" opacity="0.8" transform="rotate(0 70 948)"/>
<ellipse cx="412" cy="992" rx="80" ry="58" fill="#585858" opacity="0.92" transform="rotate(0 412 992)"/>
<ellipse cx="405" cy="888" rx="52" ry="20" fill="#686868" opacity="0.8" transform="rotate(0 405 888)"/>
<ellipse cx="325" cy="925" rx="55" ry="14" fill="#6e6e6e" opacity="0.7" transform="rotate(0 325 925)"/>
<ellipse cx="362" cy="880" rx="30" ry="20" fill="#707070" opacity="0.7" transform="rotate(0 362 880)"/>
<ellipse cx="351" cy="801" rx="60" ry="13" fill="#828282" opacity="0.65" transform="rotate(-10 351 801)"/>
<ellipse cx="400" cy="730" rx="30" ry="45" fill="#8c8c8c" opacity="0.45" transform="rotate(0 400 730)"/>
<ellipse cx="200" cy="992" rx="200" ry="24" fill="#868686" opacity="0.5" transform="rotate(0 200 992)"/>
<ellipse cx="448" cy="800" rx="12" ry="200" fill="#868686" opacity="0.5" transform="rotate(0 448 800)"/>
<ellipse cx="120" cy="772" rx="60" ry="20" fill="#8c8c8c" opacity="0.5" transform="rotate(0 120 772)"/>
<ellipse cx="16" cy="900" rx="12" ry="110" fill="#808080" opacity="0.55" transform="rotate(0 16 900)"/>
<ellipse cx="110" cy="945" rx="120" ry="75" fill="#858585" opacity="0.4" transform="rotate(0 110 945)"/>
<ellipse cx="105" cy="812" rx="55" ry="16" fill="#888888" opacity="0.5" transform="rotate(-10 105 812)"/>
<ellipse cx="150" cy="915" rx="45" ry="18" fill="#848484" opacity="0.5" transform="rotate(-10 150 915)"/>
</g>
<rect x="16.2" y="581.3" width="436.4" height="435.7" filter="url(#grain)" opacity="0.14"/>
<g fill="#fff" filter="url(#bs)"><circle cx="413" cy="619.6" r="2.6" opacity="0.95"/><circle cx="279" cy="670.5" r="2" opacity="0.8"/><circle cx="66" cy="654" r="1.5" opacity="0.5"/><circle cx="170" cy="667" r="1.4" opacity="0.4"/><circle cx="236" cy="866" r="1.5" opacity="0.4"/></g>
</g>
<rect x="294.2" y="981" width="132.5" height="12" fill="#fff"/>
</g>
<g id="panelB">
<text x="562.65" y="54.00" font-family='"Liberation Sans", sans-serif' font-size="58.24" fill="#231f20" textLength="37.86" lengthAdjust="spacingAndGlyphs">B</text>
<text x="646.42" y="66.80" font-family='"Liberation Sans", sans-serif' font-size="42.64" fill="#231f20" textLength="330.23" lengthAdjust="spacingAndGlyphs">12 pM α-synuclein</text>
<text x="723.68" y="117.80" font-family='"Liberation Sans", sans-serif' font-size="42.64" fill="#231f20" textLength="152.27" lengthAdjust="spacingAndGlyphs">on glass</text>
<rect x="588.9" y="135.8" width="424" height="424.2" fill="#231f20"/>
<g clip-path="url(#cB)">
<g fill="none" stroke="#fff" stroke-linecap="round" filter="url(#b1)"><path d="M722.6 233.2h0M995.1 495.2h0M638.9 240.3h0M916.5 275.3h0M832.5 503.4h0M974.1 482.7h0M663.3 441.4h0M890.5 538.8h0M1005.3 327.7h0M719.9 471.6h0M730.9 470.0h0M641.0 352.3h0M690.4 444.0h0M759.7 426.5h0M669.0 165.7h0M902.4 307.7h0M697.7 306.1h0M714.4 141.7h0M904.7 491.5h0M630.0 507.1h0M604.3 181.9h0M939.5 174.9h0M943.8 387.2h0M854.8 219.7h0M772.2 519.4h0M718.8 303.6h0M692.3 262.7h0M831.7 506.1h0M882.0 289.7h0M712.7 282.1h0M728.0 346.7h0M1003.1 199.4h0M906.5 362.3h0M872.7 233.8h0M1010.2 186.8h0M795.9 186.9h0M896.3 210.4h0M720.3 353.9h0M877.3 211.0h0M844.6 430.6h0M883.1 333.7h0M641.7 376.7h0M871.4 368.3h0M809.1 542.8h0M957.4 541.8h0M910.0 478.5h0M622.2 459.7h0M990.5 170.4h0M802.2 281.1h0M751.9 285.7h0M691.2 274.7h0M608.6 437.2h0M958.9 531.8h0M819.2 383.2h0M683.9 145.2h0M926.6 399.0h0M603.4 474.3h0M622.0 502.6h0M651.5 204.7h0M960.7 297.4h0M636.6 257.4h0M673.9 407.4h0M824.9 279.8h0M686.1 148.4h0M744.9 512.6h0M964.5 340.7h0M970.8 471.2h0M694.4 369.9h0M859.7 476.2h0M923.4 485.9h0M944.7 297.7h0M733.3 232.3h0M797.3 296.0h0M714.6 262.2h0M777.0 358.8h0M719.1 510.5h0M973.6 487.4h0M1009.4 268.3h0M877.5 368.3h0M757.6 239.7h0M671.8 361.0h0M618.6 419.6h0M994.1 261.4h0M988.2 224.3h0M637.5 408.3h0M783.3 162.5h0M988.9 386.6h0M863.2 267.5h0M664.5 470.6h0M707.1 222.0h0M795.6 258.0h0M628.1 554.9h0M935.9 252.7h0M798.9 493.7h0M838.0 174.6h0M624.9 409.6h0M881.5 370.1h0M652.2 243.2h0M610.2 211.0h0M712.1 302.3h0M770.4 359.0h0M805.5 310.5h0M702.1 214.8h0M950.4 402.9h0M714.8 485.3h0M810.6 265.0h0M732.4 423.4h0M782.3 543.7h0M820.8 407.3h0M823.4 235.0h0M994.4 443.6h0M672.9 380.3h0M636.6 322.3h0M700.4 463.6h0M857.9 318.2h0M763.0 520.3h0M1006.5 523.4h0M949.7 456.9h0M928.8 150.9h0M939.7 424.6h0M702.9 526.7h0M847.8 352.6h0M751.2 556.0h0M738.9 510.4h0M847.8 286.8h0M741.3 487.8h0M803.4 161.3h0M643.2 210.4h0M878.4 475.1h0M801.3 149.5h0M851.7 201.2h0M942.9 406.7h0M858.9 498.8h0M810.3 250.9h0M881.9 414.3h0M663.8 553.6h0M670.1 468.0h0M819.6 245.2h0M634.7 190.3h0M700.4 265.6h0M852.0 484.0h0M984.6 488.2h0M817.5 229.1h0M715.5 311.7h0M599.5 186.4h0M692.5 135.9h0M708.0 554.1h0M1006.2 146.7h0M934.8 420.6h0M977.3 516.8h0M962.8 438.4h0M923.9 521.8h0M725.1 264.6h0M819.4 244.2h0M748.5 291.6h0M775.6 161.4h0M737.6 542.5h0M944.2 240.2h0M1009.4 491.1h0M1007.8 218.0h0M613.4 216.8h0M798.6 277.6h0M896.2 507.9h0M836.0 322.7h0M737.5 451.8h0M791.8 207.9h0M887.6 172.1h0M645.4 253.5h0M638.7 498.9h0M973.9 147.4h0M649.7 510.8h0M743.2 248.6h0M867.9 528.7h0M877.0 341.8h0M861.8 391.6h0M944.8 343.0h0M656.3 318.2h0M674.0 439.3h0M792.1 235.9h0M989.9 274.7h0M781.8 240.6h0M910.1 239.6h0M958.4 475.2h0M882.5 376.7h0M694.0 449.6h0M905.6 138.3h0M897.3 481.0h0M664.1 279.4h0M609.8 364.0h0M1009.2 488.4h0M868.6 525.5h0M618.9 505.1h0M592.1 501.7h0M713.8 505.7h0M620.4 286.1h0M930.8 438.0h0M701.9 410.0h0M713.8 406.8h0M798.2 391.0h0M806.7 182.5h0M671.2 361.0h0M620.1 322.5h0M672.5 210.4h0M682.2 310.8h0M719.8 340.9h0M613.0 281.8h0M615.6 214.1h0M728.9 537.6h0M705.7 371.3h0M740.2 181.0h0M712.3 193.9h0M786.9 200.2h0M915.1 503.9h0M687.6 299.3h0M653.9 512.4h0M990.2 376.6h0M642.7 435.0h0M845.5 231.0h0M949.0 189.3h0M624.6 516.2h0M744.4 367.5h0M600.7 377.2h0M758.3 494.9h0M623.8 325.7h0M774.1 196.4h0M901.2 220.9h0M701.4 161.3h0M626.7 270.3h0M812.2 552.0h0M789.9 559.2h0M644.6 140.5h0M997.2 167.3h0M997.2 188.2h0M779.8 162.1h0M734.8 283.4h0M940.6 325.8h0M791.0 412.7h0M838.0 482.1h0M603.2 275.2h0M939.9 251.3h0M976.5 507.5h0" stroke-width="3.53" opacity="0.071"/><path d="M856.0 472.2h0M669.5 238.4h0M638.3 314.3h0M631.4 555.5h0M977.9 222.3h0M777.9 161.4h0M780.0 252.5h0M951.8 283.6h0M994.6 527.5h0M784.8 460.2h0M886.1 493.9h0M656.7 335.9h0M605.7 161.6h0M747.1 338.8h0M929.4 265.1h0M985.2 515.3h0M748.1 206.9h0M712.7 547.2h0M867.7 236.6h0M655.6 202.4h0M720.9 267.6h0M940.7 413.2h0M876.2 436.3h0M673.5 334.3h0M650.9 267.7h0M626.4 483.9h0M1004.9 394.9h0M658.4 222.2h0M973.5 144.5h0M770.2 302.3h0M615.6 307.3h0M837.3 334.7h0M699.9 419.2h0M646.5 350.9h0M941.2 475.7h0M928.3 491.6h0M972.7 272.2h0M631.1 516.1h0M886.1 559.0h0M677.7 292.7h0M898.8 465.0h0M764.4 158.8h0M861.6 495.4h0M611.4 175.2h0M778.7 321.1h0M674.6 282.7h0M713.1 243.1h0M1001.3 374.0h0M663.4 199.4h0M667.1 234.3h0M790.7 482.9h0M595.3 264.9h0M856.8 331.9h0M883.3 354.6h0M764.6 308.4h0M789.7 142.9h0M738.4 457.7h0M747.7 414.6h0M977.0 423.0h0M739.8 288.5h0M839.9 382.9h0M970.6 421.8h0M616.8 214.9h0M885.5 528.1h0M725.8 393.2h0M952.4 554.4h0M613.6 177.5h0M857.2 334.5h0M1008.9 472.1h0M876.3 199.7h0M738.5 336.6h0M974.7 336.8h0M829.2 197.3h0M741.2 149.6h0M988.4 491.1h0M924.2 171.2h0M914.9 448.4h0M930.1 187.2h0M955.8 352.1h0M842.6 521.1h0M985.3 359.7h0M929.2 331.9h0M716.8 515.7h0M700.2 484.7h0M647.1 264.8h0M650.7 377.3h0M956.5 370.6h0M649.1 456.0h0M859.3 330.9h0M594.3 158.5h0M974.9 421.4h0M624.6 365.9h0M921.2 369.6h0M846.3 317.9h0M884.3 511.5h0M743.3 140.3h0M711.5 418.5h0M734.5 413.6h0M852.6 405.9h0M899.7 183.0h0M907.2 140.0h0M871.6 321.8h0M922.3 162.6h0M617.4 239.1h0M992.8 199.0h0M976.6 541.2h0M813.8 175.4h0M781.4 243.1h0M965.3 192.2h0M756.1 497.4h0M770.0 381.1h0M856.7 510.7h0M925.6 269.5h0M787.2 474.8h0M948.4 141.1h0M974.7 184.1h0M935.0 145.7h0M876.3 387.2h0M636.9 445.6h0M863.6 206.7h0M706.7 219.9h0M629.2 519.8h0M605.4 226.8h0M763.4 523.6h0M853.8 231.3h0M985.5 206.1h0M816.6 192.2h0M831.0 170.9h0M881.8 291.6h0M608.8 355.9h0M665.5 348.4h0M902.9 412.5h0M726.5 224.5h0M785.8 450.3h0M766.8 205.2h0M879.3 180.6h0M827.6 165.5h0M1011.7 321.6h0M677.6 143.9h0M653.0 237.1h0M621.6 330.8h0M769.2 311.7h0M937.8 463.3h0M734.1 521.0h0M822.8 226.5h0M601.1 463.1h0M975.4 144.9h0M667.5 556.5h0M602.9 391.4h0M727.9 191.5h0M687.1 404.8h0M690.5 235.7h0M794.8 461.2h0M755.1 229.6h0M724.1 501.7h0M938.0 310.1h0M846.5 186.9h0M737.0 536.8h0M981.8 517.1h0M946.2 389.9h0M687.4 524.5h0M813.1 241.5h0M976.6 477.5h0M827.8 355.4h0M858.3 534.8h0M696.5 520.5h0M922.7 477.4h0M933.7 247.0h0M709.2 456.9h0M777.9 185.2h0M622.6 538.1h0M942.4 487.3h0M650.9 382.8h0M743.5 286.6h0M869.1 491.5h0M959.6 205.3h0M909.9 178.6h0M831.5 408.8h0M768.9 513.4h0M651.3 324.3h0M973.3 506.3h0M887.5 157.0h0M991.8 356.3h0M981.2 262.9h0M978.2 471.2h0M895.6 330.6h0M839.9 201.9h0M879.1 493.9h0M783.5 536.4h0M987.9 430.7h0M770.7 507.7h0M762.6 285.0h0M749.3 417.1h0M696.8 451.4h0M948.8 156.2h0M662.2 236.1h0M810.0 382.3h0M597.8 558.8h0M632.4 228.1h0M632.3 232.3h0M638.9 362.1h0M963.9 348.1h0M860.3 356.6h0M672.7 436.7h0M798.5 512.1h0M594.6 524.5h0M828.7 451.3h0M955.9 369.1h0M605.2 528.6h0M861.2 543.8h0M991.4 249.2h0M1005.1 256.3h0M765.3 449.1h0M752.2 205.6h0M588.9 243.9h0M954.6 183.0h0M755.4 171.5h0M841.6 534.6h0M890.6 304.9h0M876.1 391.3h0" stroke-width="3.53" opacity="0.114"/><path d="M804.2 385.0h0M669.8 446.3h0M627.1 383.0h0M605.3 544.2h0M886.1 544.2h0M697.4 140.6h0M776.3 514.1h0M682.8 359.2h0M790.9 270.4h0M739.6 398.7h0M813.3 203.6h0M866.7 373.6h0M866.1 555.4h0M917.7 168.1h0M962.4 255.2h0M624.8 404.8h0M711.3 516.3h0M767.6 477.4h0M688.9 343.3h0M852.3 358.7h0M680.2 283.2h0M651.3 222.7h0M759.5 337.4h0M877.3 235.3h0M997.6 485.5h0M615.7 164.9h0M984.7 555.3h0M639.1 153.8h0M931.1 303.8h0M737.4 318.5h0M707.5 408.9h0M720.5 309.0h0M775.8 540.7h0M969.6 538.6h0M903.4 171.2h0M636.1 470.6h0M900.3 438.1h0M633.5 450.7h0M704.5 256.7h0M921.2 277.0h0M733.9 530.6h0M989.8 217.5h0M719.1 213.4h0M610.9 204.9h0M589.6 346.4h0M692.4 525.9h0M984.3 409.1h0M904.6 241.8h0M652.6 369.7h0M672.3 523.0h0M897.0 538.9h0M812.9 345.9h0M936.1 500.4h0M684.9 290.3h0M615.5 179.0h0M725.6 334.1h0M699.5 142.7h0M828.5 237.1h0M816.0 295.1h0M920.8 545.9h0M966.4 453.6h0M991.2 398.0h0M972.0 473.0h0M1002.1 392.7h0M642.3 478.5h0M745.2 267.8h0M595.3 460.5h0M936.4 166.0h0M748.1 538.1h0M641.5 324.8h0M944.1 154.3h0M718.4 303.4h0M1008.4 464.7h0M717.2 393.3h0M696.2 485.3h0M814.7 179.4h0M673.3 340.2h0M754.1 553.4h0M963.1 527.6h0M958.3 201.0h0M785.6 427.9h0M752.0 172.7h0M871.7 373.4h0M775.9 504.8h0M821.0 503.7h0M803.2 427.5h0M914.1 325.1h0M919.7 179.8h0M997.9 291.9h0M667.3 164.6h0M938.2 489.4h0M959.3 212.1h0M945.9 404.0h0M987.7 169.6h0M710.5 184.3h0M910.2 203.5h0M925.8 354.6h0M994.6 150.9h0M780.2 157.2h0M845.2 365.8h0M706.0 393.4h0M632.7 527.3h0M806.9 165.4h0M845.1 237.4h0M662.3 313.6h0M669.5 348.4h0M858.6 136.7h0M881.3 548.8h0M987.7 161.8h0M857.8 525.7h0M625.1 373.5h0M714.4 458.0h0M852.9 179.2h0M848.1 332.5h0M955.8 251.1h0M687.3 179.1h0M627.4 275.5h0M705.4 259.3h0M961.6 142.4h0M985.0 456.6h0M895.7 538.7h0M879.2 403.0h0M814.8 206.2h0M1000.5 201.0h0M633.8 431.7h0M678.3 500.9h0M621.5 290.7h0M940.4 486.0h0M1008.6 243.3h0M776.9 539.2h0M982.5 376.2h0M946.3 320.6h0M653.7 311.4h0M653.9 401.6h0M681.6 488.7h0M644.4 456.1h0M608.3 545.4h0M694.5 155.3h0M716.1 204.5h0M819.2 401.4h0M646.6 222.7h0M740.7 431.9h0M754.5 297.2h0M930.9 145.9h0M758.8 291.8h0M979.4 547.4h0M1003.4 219.3h0M683.2 411.0h0M607.5 256.1h0M788.4 402.7h0M949.8 147.2h0M689.2 298.9h0M620.5 258.6h0M681.1 371.0h0M627.1 157.9h0M797.5 400.4h0M704.3 468.7h0M819.6 254.9h0M668.0 376.7h0M871.9 431.9h0M994.2 289.1h0M739.4 335.2h0M796.2 284.8h0M839.7 428.8h0M708.9 169.7h0M1000.6 410.8h0M771.0 393.0h0M821.8 275.8h0M815.0 215.5h0M678.1 162.0h0M704.9 318.6h0M991.8 292.2h0M598.3 406.4h0M676.7 235.0h0M705.3 540.2h0M722.7 287.8h0M636.0 359.5h0M838.5 320.8h0M684.6 377.1h0M688.5 346.4h0M712.1 495.5h0M795.9 373.8h0M735.7 292.1h0M623.2 528.8h0M691.9 230.4h0M732.5 553.8h0M816.6 531.4h0M637.3 353.5h0M786.5 434.8h0M617.4 326.2h0M594.7 266.9h0M670.5 327.3h0M880.5 554.7h0M926.9 240.9h0M844.3 159.9h0M725.9 546.5h0M755.0 431.2h0M685.7 419.4h0M841.6 169.7h0M744.8 416.3h0M735.2 551.8h0M977.9 194.9h0M647.4 239.7h0M921.2 266.6h0M683.5 269.4h0M907.9 285.9h0M890.4 206.7h0M644.0 549.9h0M663.5 253.0h0M732.6 377.0h0M610.8 328.1h0M842.5 546.9h0M931.1 183.1h0M887.7 184.8h0M598.3 138.8h0M767.9 154.1h0M746.1 289.6h0M596.6 239.6h0M970.3 144.1h0M957.9 218.2h0M950.5 485.4h0M646.9 275.0h0M600.6 416.8h0M971.7 330.7h0M597.1 300.3h0M929.4 252.6h0M756.4 506.0h0M673.8 146.0h0" stroke-width="3.53" opacity="0.156"/><path d="M1000.6 476.6h0M902.4 534.7h0M648.4 150.7h0M793.4 445.7h0M775.7 491.4h0M854.2 345.3h0M816.6 471.3h0M971.6 269.8h0M981.9 176.2h0M748.2 177.6h0M842.3 457.9h0M943.5 374.5h0M864.1 239.9h0M667.3 255.0h0M812.6 354.6h0M701.9 362.6h0M819.3 358.8h0M938.8 395.2h0M892.2 490.2h0M833.3 431.5h0M742.0 332.2h0M935.5 391.0h0M829.2 519.0h0M837.2 155.3h0M789.3 223.4h0M674.6 404.1h0M706.3 407.3h0M843.2 256.5h0M707.2 368.3h0M700.4 474.5h0M624.2 510.1h0M763.1 312.1h0M867.4 400.1h0M675.7 509.3h0M803.0 376.6h0M957.8 437.7h0M922.6 344.0h0M850.5 518.3h0M688.6 381.5h0M759.0 414.1h0M853.1 450.6h0M764.2 140.3h0M601.0 182.6h0M622.1 246.4h0M771.4 327.0h0M710.1 424.2h0M941.5 275.0h0M923.1 408.3h0M900.4 166.1h0M908.2 179.2h0M687.3 538.7h0M731.2 282.9h0M875.1 328.8h0M699.2 357.6h0M746.8 186.8h0M947.6 333.1h0M678.6 144.1h0M940.4 474.3h0M796.6 340.4h0M795.2 385.1h0M639.7 264.8h0M853.4 310.2h0M773.4 413.0h0M967.7 417.2h0M683.3 398.7h0M608.9 430.9h0M911.6 442.2h0M950.5 460.5h0M589.7 275.0h0M876.0 549.3h0M985.6 278.0h0M844.7 335.3h0M677.3 408.7h0M695.4 269.6h0M696.9 457.8h0M589.4 368.1h0M640.0 205.6h0M944.7 424.6h0M726.4 407.0h0M853.6 392.3h0M893.0 359.4h0M894.6 433.4h0M744.4 216.5h0M744.9 539.3h0M617.3 261.1h0M675.7 142.5h0M707.6 393.1h0M847.7 238.4h0M900.4 440.9h0M808.1 558.6h0M697.4 500.7h0M667.2 373.9h0M682.8 189.9h0M924.3 254.4h0M989.3 334.1h0M846.9 415.1h0M736.4 494.3h0M657.0 305.6h0M779.3 251.1h0M606.7 260.5h0M941.1 412.0h0M862.6 418.5h0M638.5 451.5h0M912.1 249.5h0M724.8 158.0h0M789.6 410.4h0M613.3 382.3h0M815.6 479.7h0M702.8 356.4h0M591.6 284.4h0M678.1 271.0h0M1012.2 482.3h0M848.6 152.0h0M697.3 454.0h0M681.4 168.7h0M867.8 400.1h0M973.5 489.1h0M742.5 281.4h0M776.4 381.2h0M902.7 328.0h0M728.9 266.5h0M979.5 153.5h0M909.3 181.3h0M594.5 303.6h0M965.1 440.4h0M789.6 228.4h0M749.8 510.0h0M784.6 489.9h0M976.4 204.0h0M604.4 414.9h0M935.3 422.0h0M873.5 206.3h0M663.4 177.4h0M940.9 495.0h0M862.4 440.8h0M774.0 146.3h0M738.4 233.1h0M784.9 348.0h0M728.9 469.5h0M631.0 225.1h0M644.4 553.1h0M847.9 345.8h0M967.7 324.5h0M639.4 296.8h0M904.8 528.7h0M758.2 416.1h0M822.8 240.1h0M1005.2 514.4h0M917.4 305.4h0M845.5 324.4h0M935.3 493.4h0M817.9 272.5h0M736.8 145.9h0M786.7 382.0h0M724.3 497.8h0M953.4 320.6h0M625.5 495.5h0M720.4 289.7h0M947.8 310.3h0M921.7 497.2h0M947.0 297.8h0M817.1 273.1h0M763.7 382.6h0M945.4 151.8h0M675.7 372.8h0M909.2 295.4h0M981.9 524.7h0M649.4 137.7h0M628.3 511.5h0M864.4 436.5h0M732.2 137.1h0M604.1 341.2h0M675.8 172.3h0M670.0 540.3h0M679.0 353.0h0M685.9 504.0h0M898.9 362.9h0M803.0 411.1h0M679.7 526.6h0M761.4 544.9h0M831.2 388.6h0M961.8 301.6h0M798.7 202.2h0M743.4 462.6h0M944.8 508.7h0M996.0 213.4h0M798.5 137.4h0M952.1 288.9h0M961.1 210.8h0M926.4 390.4h0M632.5 353.7h0M739.0 407.9h0M951.4 280.6h0M678.7 401.5h0M944.1 316.2h0M661.8 230.7h0M890.8 396.3h0M801.5 458.5h0M990.1 309.9h0M770.6 243.1h0M873.6 392.5h0M983.0 527.9h0M855.5 265.7h0M692.5 272.3h0M964.4 473.1h0M945.0 208.3h0M888.0 361.7h0M682.3 359.4h0M771.9 293.4h0M1000.6 526.7h0M645.9 502.6h0M785.6 515.0h0M956.1 333.0h0M1002.0 267.8h0M971.0 402.7h0M821.3 142.0h0M694.6 453.4h0M915.0 209.3h0M964.3 233.0h0M662.7 317.6h0" stroke-width="3.53" opacity="0.199"/><path d="M655.7 142.2h0M962.9 391.8h0M601.5 390.9h0M879.1 220.4h0M989.3 332.5h0M822.2 461.7h0M822.8 354.2h0M807.4 318.2h0M675.3 157.9h0M853.2 179.3h0M688.7 440.1h0M821.0 541.8h0M655.5 188.4h0M941.1 214.5h0M829.7 276.7h0M907.7 265.1h0M610.9 430.6h0M884.0 533.6h0M775.6 359.9h0M752.0 530.0h0M919.5 205.9h0M614.8 310.0h0M755.5 262.2h0M686.4 243.2h0M954.7 222.6h0M892.1 249.7h0M809.1 159.1h0M606.2 199.8h0M721.3 315.7h0M957.1 235.3h0M726.7 211.2h0M974.6 145.8h0M858.0 296.2h0M642.6 555.8h0M926.7 200.2h0M672.5 419.3h0M987.9 394.6h0M873.9 239.6h0M641.2 506.4h0M974.6 329.1h0M673.4 362.7h0M958.7 161.9h0M951.6 468.7h0M975.2 556.0h0M619.3 214.2h0M800.6 412.7h0M888.2 329.5h0M704.9 287.8h0M651.8 301.0h0M596.5 229.1h0M804.3 300.4h0M849.7 217.8h0M649.8 307.0h0M657.6 150.8h0M746.7 183.7h0M1012.7 155.5h0M679.6 325.0h0M884.2 444.4h0M862.2 290.4h0M979.5 264.2h0M630.1 175.1h0M871.7 311.0h0M849.1 286.1h0M933.4 555.8h0M811.1 248.7h0M907.6 552.3h0M738.8 170.7h0M772.6 397.1h0M626.9 430.2h0M930.6 227.4h0M950.8 329.8h0M923.5 377.5h0M726.2 296.7h0M876.4 372.4h0M659.4 352.7h0M1011.4 328.9h0M914.8 344.6h0M591.7 340.1h0M899.3 243.4h0M902.2 202.0h0M983.4 311.0h0M743.4 274.9h0M633.8 319.1h0M666.1 351.4h0M1000.3 521.2h0M741.0 248.9h0M920.7 404.8h0M836.9 305.1h0M852.2 219.4h0M662.2 259.2h0M975.7 229.6h0M756.9 424.2h0M923.4 375.0h0M892.6 185.6h0M1003.3 545.3h0M926.3 449.9h0M724.9 155.8h0M999.6 482.6h0M633.5 518.2h0M805.3 143.2h0M831.9 530.2h0M802.2 189.6h0M644.1 397.6h0M939.7 335.3h0M847.2 191.2h0M699.7 261.0h0M716.3 551.1h0M867.9 246.8h0M677.7 446.2h0M748.5 531.2h0M921.3 259.6h0M629.2 488.0h0M822.9 334.0h0M665.5 419.0h0M706.0 368.1h0M911.3 374.2h0M997.2 540.5h0M988.4 440.6h0M658.7 312.4h0M863.3 544.6h0M807.3 146.4h0M977.4 301.4h0M695.9 554.0h0M701.2 191.3h0M926.7 559.6h0M712.3 207.1h0M1011.1 402.2h0M965.2 548.5h0M736.5 364.5h0M893.1 223.8h0M880.0 441.2h0M923.0 225.1h0M784.6 346.1h0M999.8 410.0h0M859.9 154.5h0M699.9 194.5h0M880.9 450.8h0M665.6 304.1h0M629.4 303.5h0M678.9 189.3h0M919.8 264.1h0M730.2 441.7h0M905.3 211.4h0M940.6 215.8h0M648.2 211.3h0M753.4 331.3h0M839.0 443.7h0M980.8 378.6h0M821.5 448.3h0M680.1 293.8h0M846.2 525.0h0M662.3 330.1h0M907.6 316.5h0M832.8 187.0h0M873.0 466.8h0M679.1 191.9h0M762.7 323.9h0M977.2 313.3h0M1006.3 299.7h0M639.8 162.6h0M1007.3 403.9h0M963.0 250.2h0M742.3 231.7h0M629.2 218.5h0M660.1 466.2h0M1002.5 344.0h0M913.9 225.0h0M854.7 196.2h0M1003.5 396.8h0M921.2 344.0h0M873.9 509.9h0M768.1 399.4h0M927.1 535.7h0M922.8 294.0h0M996.5 348.4h0M812.3 530.9h0M646.7 287.4h0M682.1 171.4h0M680.8 501.9h0M849.6 484.5h0M895.4 399.7h0M733.4 267.3h0M698.4 136.9h0M877.9 485.7h0M968.2 527.2h0M805.1 335.2h0M595.8 279.4h0M649.1 219.0h0M830.4 195.5h0M701.3 213.5h0M944.8 236.7h0M910.7 374.7h0M742.3 533.9h0M958.5 406.9h0M746.0 439.9h0M747.4 197.2h0M856.0 212.1h0M597.8 266.2h0M907.5 183.3h0M777.6 441.4h0M593.7 523.4h0M748.3 504.0h0" stroke-width="4.20" opacity="0.071"/><path d="M800.8 416.8h0M926.8 211.2h0M697.9 485.2h0M826.1 497.4h0M962.1 298.9h0M648.6 155.7h0M758.7 475.6h0M881.9 163.8h0M813.8 321.1h0M887.7 500.9h0M895.3 165.7h0M687.3 536.5h0M868.6 377.4h0M812.2 389.4h0M620.1 519.9h0M844.8 184.6h0M776.7 419.1h0M905.2 526.4h0M743.9 289.9h0M810.0 460.2h0M889.9 236.5h0M914.0 484.1h0M830.4 209.5h0M944.3 498.5h0M641.7 325.4h0M968.4 481.7h0M596.4 346.2h0M784.6 531.3h0M690.6 175.3h0M885.8 145.6h0M796.9 375.0h0M880.4 313.7h0M818.9 340.7h0M828.9 196.7h0M685.4 340.3h0M674.6 503.7h0M743.5 406.5h0M881.4 328.1h0M807.4 149.5h0M732.9 269.6h0M769.0 483.7h0M779.0 163.0h0M968.5 242.6h0M787.8 289.3h0M744.9 317.9h0M615.1 359.7h0M683.3 177.9h0M946.0 287.8h0M699.7 445.6h0M694.6 144.4h0M989.0 350.3h0M812.3 214.1h0M700.1 384.2h0M764.6 555.7h0M656.9 276.0h0M765.7 364.9h0M799.7 527.2h0M830.2 536.0h0M730.2 254.3h0M603.9 501.7h0M744.0 321.1h0M767.0 197.4h0M764.1 301.2h0M825.8 178.8h0M919.9 162.2h0M767.4 270.6h0M794.1 304.6h0M844.2 459.7h0M635.2 151.6h0M904.2 457.9h0M595.3 328.1h0M872.7 202.8h0M775.0 333.2h0M774.2 329.6h0M921.9 371.9h0M635.5 277.3h0M783.8 408.7h0M834.3 311.2h0M651.3 147.9h0M624.3 476.7h0M735.5 540.6h0M713.2 379.6h0M853.8 339.6h0M914.6 258.1h0M726.0 540.8h0M774.4 314.8h0M689.5 550.2h0M779.1 325.3h0M855.3 498.3h0M752.3 296.4h0M908.7 167.4h0M622.6 195.2h0M921.7 350.5h0M819.7 446.7h0M868.6 530.2h0M802.1 550.1h0M742.7 447.5h0M663.9 175.9h0M979.6 477.9h0M649.5 170.4h0M817.0 226.1h0M591.3 298.4h0M662.3 245.7h0M917.2 448.1h0M627.3 269.2h0M596.3 147.4h0M924.1 441.3h0M901.5 174.4h0M988.5 407.6h0M884.1 341.0h0M637.9 187.0h0M618.7 335.1h0M807.6 309.6h0M1001.3 145.3h0M928.1 366.3h0M871.8 176.2h0M863.0 458.9h0M995.7 258.5h0M750.7 265.1h0M638.9 264.6h0M636.9 330.4h0M800.8 264.1h0M963.5 462.1h0M809.7 317.1h0M965.2 367.5h0M988.4 374.5h0M782.9 250.4h0M880.8 247.6h0M878.9 191.2h0M822.0 264.3h0M915.1 281.2h0M737.2 441.3h0M666.0 435.2h0M625.6 294.9h0M687.6 326.4h0M738.0 525.0h0M646.1 546.7h0M618.2 522.2h0M607.3 258.1h0M713.2 252.2h0M701.4 286.2h0M868.4 265.4h0M619.7 535.0h0M790.1 322.5h0M775.7 506.3h0M863.8 234.2h0M871.3 550.0h0M957.2 161.7h0M592.9 257.1h0M798.6 388.4h0M928.4 182.5h0M970.9 290.6h0M793.6 257.3h0M899.2 330.8h0M732.7 322.4h0M708.2 558.1h0M700.2 314.8h0M808.1 369.1h0M671.1 293.4h0M753.4 426.6h0M1002.1 548.8h0M723.7 279.7h0M852.7 289.6h0M678.8 179.1h0M942.5 316.4h0M983.1 387.2h0M725.9 377.6h0M891.5 469.7h0M899.1 487.2h0M795.8 188.4h0M619.5 419.2h0M668.8 384.6h0M930.3 537.4h0M986.8 157.9h0M988.6 451.9h0M909.1 168.3h0M799.8 518.7h0M913.9 329.1h0M694.2 352.7h0M775.0 283.0h0M677.6 300.8h0M594.2 398.4h0M654.0 472.9h0M625.1 251.8h0M868.0 326.2h0M627.9 144.1h0M691.2 382.7h0M740.4 503.2h0M840.3 357.7h0M634.8 339.6h0M692.5 545.7h0M841.1 293.5h0M622.2 365.1h0M636.7 505.9h0M913.7 280.7h0M647.9 194.7h0M797.2 224.0h0M928.9 137.6h0M848.9 349.5h0M776.7 502.2h0M1006.8 317.3h0M815.7 506.0h0M732.4 220.0h0M860.9 426.0h0M759.9 554.6h0M844.7 510.9h0M881.2 273.6h0M634.0 202.7h0M878.8 233.8h0M645.7 349.1h0M1007.6 154.7h0M831.1 530.1h0M813.3 173.5h0M875.0 190.6h0M905.4 175.8h0M946.0 313.3h0M662.5 156.3h0M631.2 296.0h0M650.8 382.2h0M719.4 512.1h0M937.0 240.7h0M752.0 225.7h0M751.4 388.7h0M844.3 156.1h0M908.5 238.6h0M848.4 256.8h0M1001.3 150.7h0M647.8 231.4h0M683.7 220.1h0M748.6 486.3h0M827.3 256.9h0M613.1 444.2h0M677.3 500.2h0M627.5 137.3h0" stroke-width="4.20" opacity="0.114"/><path d="M1005.4 545.1h0M775.7 493.2h0M853.9 298.0h0M895.0 482.9h0M831.8 221.1h0M803.3 457.4h0M593.4 286.7h0M1004.5 145.5h0M625.6 422.7h0M708.9 196.4h0M999.4 421.0h0M787.0 439.2h0M850.1 259.0h0M715.3 278.9h0M979.2 316.9h0M763.6 142.3h0M1005.2 470.8h0M596.8 276.2h0M971.8 368.4h0M646.4 519.3h0M788.1 310.3h0M828.9 519.8h0M824.6 409.4h0M800.5 150.8h0M1007.0 197.1h0M864.4 160.6h0M849.8 540.8h0M988.5 463.1h0M755.9 237.3h0M752.0 233.4h0M803.7 535.2h0M936.8 496.5h0M599.2 284.7h0M840.5 543.4h0M745.3 263.6h0M839.7 356.4h0M616.1 485.7h0M603.8 432.1h0M687.9 327.9h0M794.9 169.2h0M597.5 343.5h0M940.7 427.9h0M749.8 257.6h0M925.0 548.4h0M851.3 292.5h0M630.0 427.4h0M995.5 187.5h0M643.1 316.3h0M895.9 538.7h0M817.5 551.5h0M937.1 491.0h0M695.6 435.0h0M904.6 328.7h0M819.4 278.7h0M613.9 344.5h0M787.2 493.8h0M965.3 385.1h0M987.4 191.8h0M902.9 503.1h0M700.6 391.0h0M613.8 191.6h0M960.5 547.1h0M747.6 310.0h0M875.6 493.7h0M647.2 219.6h0M763.7 367.5h0M650.1 455.6h0M804.9 250.9h0M597.7 503.8h0M658.1 156.7h0M924.9 137.3h0M944.9 383.9h0M844.8 532.5h0M820.8 355.5h0M810.9 208.7h0M837.1 549.3h0M903.5 392.0h0M696.8 438.2h0M774.8 305.9h0M1010.7 399.7h0M804.4 475.3h0M841.6 331.1h0M869.2 241.1h0M940.6 313.0h0M613.7 382.2h0M788.4 333.6h0M736.6 238.8h0M661.8 408.1h0M773.9 395.0h0M787.6 251.0h0M793.8 291.4h0M720.3 390.3h0M881.7 525.5h0M849.0 395.7h0M1003.0 175.6h0M743.6 495.1h0M774.6 480.9h0M880.7 395.4h0M824.4 428.8h0M998.0 432.3h0M801.7 539.8h0M997.9 450.6h0M966.5 339.5h0M846.7 363.4h0M605.1 245.9h0M666.5 355.6h0M952.9 458.1h0M858.1 151.8h0M822.2 350.5h0M804.4 252.4h0M947.7 244.5h0M813.9 465.7h0M873.1 503.1h0M915.4 442.9h0M995.8 481.5h0M801.8 347.0h0M816.4 144.1h0M953.8 330.5h0M809.8 210.4h0M758.6 372.5h0M870.9 399.2h0M793.1 375.1h0M964.7 427.0h0M966.1 545.7h0M927.5 367.6h0M890.1 312.0h0M890.3 531.1h0M915.5 324.4h0M874.3 452.5h0M940.9 305.3h0M904.3 392.2h0M763.3 142.2h0M920.5 262.3h0M957.7 549.8h0M752.2 298.7h0M856.0 169.1h0M697.1 535.1h0M923.3 325.6h0M668.7 365.8h0M948.6 383.3h0M590.1 512.1h0M986.3 345.4h0M678.0 248.7h0M713.1 389.7h0M717.9 556.5h0M595.9 289.9h0M811.6 507.4h0M1005.3 415.4h0M648.4 139.3h0M880.9 398.8h0M1000.2 337.0h0M993.4 464.0h0M902.5 527.0h0M661.0 358.5h0M777.5 425.7h0M742.1 286.7h0M856.2 459.6h0M943.1 284.6h0M930.4 316.3h0M959.5 153.6h0M948.3 466.9h0M955.4 301.3h0M896.6 445.5h0M942.7 222.0h0M610.0 364.3h0M935.1 328.9h0M807.6 406.4h0M801.7 164.6h0M863.9 526.1h0M946.5 140.1h0M937.7 432.2h0M803.5 310.6h0M971.3 475.7h0M652.7 503.6h0M872.7 451.1h0M637.0 469.8h0M966.7 517.9h0M721.2 139.3h0M649.7 450.1h0M859.2 199.2h0M663.9 490.9h0M815.9 328.1h0M711.3 277.0h0M739.5 369.1h0M805.2 409.8h0M602.6 181.5h0M832.4 545.8h0M643.7 148.0h0M760.0 519.9h0M950.4 215.5h0M945.3 459.2h0M743.9 302.6h0" stroke-width="4.20" opacity="0.156"/><path d="M831.5 191.6h0M885.0 346.7h0M849.4 456.6h0M644.0 328.2h0M655.3 455.9h0M1001.5 239.2h0M929.9 163.0h0M615.3 330.4h0M957.5 354.7h0M633.7 303.0h0M634.0 296.0h0M910.3 454.7h0M975.3 545.8h0M665.7 235.7h0M1007.7 150.1h0M920.9 355.0h0M1000.4 153.7h0M755.5 493.4h0M666.1 247.1h0M599.3 403.2h0M680.6 428.2h0M821.3 400.7h0M999.7 277.3h0M622.1 213.2h0M955.5 557.6h0M639.3 167.5h0M995.6 140.5h0M924.8 447.8h0M753.6 292.5h0M759.9 272.2h0M634.8 554.7h0M901.3 555.5h0M951.4 462.8h0M638.7 212.9h0M728.3 343.2h0M990.2 376.7h0M722.5 346.9h0M609.2 400.8h0M720.4 540.4h0M678.4 311.8h0M798.2 428.3h0M772.4 397.8h0M611.9 533.1h0M923.7 467.7h0M962.9 204.8h0M802.6 316.6h0M734.4 471.7h0M926.3 232.8h0M912.2 371.3h0M971.6 242.3h0M804.6 309.9h0M849.0 229.5h0M813.5 556.2h0M789.8 268.9h0M733.6 322.5h0M738.6 553.5h0M827.4 534.3h0M619.8 459.0h0M601.6 205.2h0M892.1 214.4h0M728.8 198.7h0M665.4 348.0h0M995.4 516.7h0M1012.5 491.8h0M938.5 425.9h0M814.3 190.1h0M963.7 370.9h0M803.3 476.9h0M603.7 314.4h0M910.3 409.7h0M932.5 526.1h0M815.1 381.4h0M593.7 274.0h0M768.2 476.0h0M710.7 512.9h0M818.3 157.6h0M815.5 159.6h0M609.3 220.5h0M600.7 291.5h0M811.6 287.0h0M778.8 317.9h0M629.0 296.5h0M811.6 448.7h0M738.9 437.9h0M688.6 397.6h0M600.6 484.0h0M892.3 206.3h0M859.1 470.2h0M601.0 390.9h0M883.9 293.6h0M621.1 315.4h0M800.7 475.9h0M1008.4 505.7h0M998.4 259.4h0M661.1 167.2h0M678.7 217.3h0M609.5 366.8h0M824.9 451.7h0M895.3 435.8h0M623.6 363.6h0M962.8 463.0h0M948.6 249.7h0M676.2 178.1h0M866.8 148.1h0M626.1 185.5h0M704.0 539.3h0M758.5 327.1h0M694.9 382.9h0M832.7 410.7h0M776.7 489.2h0M883.1 349.9h0M726.7 539.2h0M616.6 143.8h0M710.9 201.9h0M597.3 357.6h0M817.8 525.3h0M949.6 288.3h0M928.0 402.4h0M636.0 222.9h0M597.5 226.8h0M971.7 268.8h0M704.5 321.8h0M681.9 435.6h0M976.1 289.5h0M909.7 214.0h0M884.6 366.9h0M821.2 386.7h0M803.9 168.5h0M605.6 451.0h0M930.6 209.2h0M697.1 215.7h0M834.3 437.1h0M961.7 514.0h0M1002.9 139.8h0M827.8 386.9h0M703.3 419.2h0M681.6 544.0h0M823.7 489.7h0M994.6 253.4h0M1000.4 304.1h0M983.4 223.2h0M803.3 453.5h0M629.2 336.1h0M732.7 282.3h0M977.5 194.5h0M911.0 226.4h0M983.3 386.3h0M849.5 400.1h0M988.0 459.4h0M632.9 371.8h0M600.3 232.9h0M838.4 389.2h0M863.9 505.5h0M632.2 411.2h0M842.5 136.9h0M740.0 141.7h0M682.8 376.4h0M933.5 331.6h0M981.8 227.6h0M654.5 468.8h0M893.9 348.2h0M977.4 355.9h0M943.5 489.7h0M982.2 231.1h0M765.1 395.3h0M632.3 258.1h0M898.9 187.1h0M805.2 498.6h0M939.2 178.5h0M952.2 429.9h0M911.5 395.7h0M649.4 255.2h0M893.8 179.1h0M762.1 279.4h0M889.1 354.6h0M667.9 358.4h0M637.0 152.1h0M809.8 226.9h0M651.4 369.7h0M811.7 331.0h0M778.7 381.9h0M931.7 268.9h0M957.2 329.1h0M975.1 246.2h0M606.2 348.3h0M846.5 247.3h0M717.2 215.0h0M758.3 394.3h0M720.4 312.9h0M934.9 493.0h0M975.3 327.9h0M678.9 328.5h0M1011.6 313.7h0M968.8 305.3h0M896.1 142.7h0M866.0 345.4h0M600.3 389.4h0M947.7 353.0h0M748.0 165.5h0M914.9 252.7h0M845.7 519.7h0M918.9 249.0h0M723.8 473.2h0" stroke-width="4.20" opacity="0.199"/><path d="M627.3 479.3h0M781.7 146.3h0M593.5 336.1h0M932.0 163.0h0M989.9 344.8h0M981.2 190.7h0M681.4 559.3h0M941.7 314.7h0M878.2 522.4h0M1010.8 406.4h0M1011.9 539.9h0M839.8 404.4h0M932.0 400.4h0M637.6 410.7h0M623.8 250.3h0M977.6 174.4h0M593.3 556.4h0M750.7 386.9h0M641.4 363.8h0M970.6 504.7h0M683.6 266.1h0M625.9 256.8h0M879.0 356.6h0M830.1 366.2h0M605.5 237.9h0M760.8 299.8h0M961.9 297.8h0M657.8 503.3h0M837.2 535.0h0M883.2 367.4h0M939.8 461.5h0M682.0 309.0h0M666.7 287.3h0M840.5 388.0h0M927.1 352.8h0M781.4 363.3h0M806.1 260.5h0M825.5 330.7h0M592.7 308.3h0M877.1 553.1h0M1004.7 274.9h0M930.5 177.2h0M867.5 166.3h0M848.7 395.9h0M750.2 163.4h0M711.3 208.3h0M776.6 171.7h0M853.0 188.9h0M812.7 216.1h0M790.2 540.8h0M701.0 343.3h0M885.4 278.8h0M830.6 394.3h0M1008.8 167.8h0M934.2 443.0h0M725.1 245.8h0M858.2 396.8h0M947.8 391.0h0M746.7 435.6h0M883.1 216.3h0M859.3 163.5h0M903.4 332.2h0M649.2 406.5h0M768.9 253.8h0M784.9 244.9h0M656.2 486.1h0M909.5 482.8h0M986.6 208.4h0M623.2 436.7h0M677.7 445.8h0M756.3 252.3h0M620.9 177.9h0M778.1 147.6h0M812.0 528.3h0M959.6 157.1h0M880.2 489.2h0M892.0 537.9h0M825.8 309.3h0M861.1 502.3h0M965.6 211.0h0M886.9 491.4h0M869.9 155.1h0M687.7 466.1h0M843.0 541.1h0M878.5 211.5h0M798.9 429.0h0M987.9 364.6h0M753.3 303.6h0M954.0 350.8h0M943.7 493.2h0M825.6 443.0h0M917.4 328.0h0M993.5 156.5h0M957.1 477.8h0M871.9 477.4h0M837.7 514.8h0M673.4 384.2h0M739.6 139.1h0M697.2 309.4h0M617.8 377.6h0M729.9 321.7h0M866.8 402.9h0M920.2 419.5h0M876.9 497.8h0M601.6 435.7h0M680.3 489.3h0M975.2 150.4h0M752.8 494.9h0M770.5 424.3h0M962.4 163.4h0M623.5 327.8h0M989.3 345.5h0M967.2 235.5h0M678.6 374.8h0M634.5 508.2h0M638.0 240.0h0M889.9 336.7h0M639.9 357.6h0M992.7 499.1h0M724.7 223.3h0M645.8 251.3h0M827.2 425.8h0M933.8 181.2h0M1009.7 370.3h0M883.3 554.4h0M637.9 419.3h0M741.5 141.1h0M1003.8 219.0h0M887.5 377.7h0M685.7 450.0h0M898.5 367.7h0M729.3 209.7h0M668.3 395.2h0M629.2 223.4h0M835.8 361.6h0M854.1 166.3h0M744.7 162.8h0M908.6 240.2h0M649.7 307.0h0M846.7 159.0h0M595.9 171.3h0M968.3 387.9h0M639.7 242.6h0M926.3 476.0h0M767.8 410.3h0M643.4 251.4h0M789.3 376.1h0M725.7 471.3h0M919.4 437.2h0M714.8 154.7h0M676.7 530.7h0M896.3 530.0h0M760.6 500.3h0M659.4 255.6h0M906.6 378.0h0M830.7 469.0h0M670.8 223.9h0M678.5 255.4h0M681.4 437.1h0M592.0 383.5h0M929.2 392.8h0M890.9 387.8h0M817.3 189.2h0M936.8 409.3h0M750.1 542.8h0M615.9 555.0h0M660.7 473.5h0M743.8 333.7h0M956.8 451.8h0M621.2 206.4h0M600.3 456.3h0M813.1 345.7h0M634.7 352.9h0M679.0 411.9h0M910.4 244.8h0M679.1 322.0h0M913.5 283.1h0M606.3 513.7h0M938.4 169.3h0M731.1 542.4h0M675.6 300.0h0M755.8 364.8h0M973.6 238.0h0M777.3 142.8h0M645.6 516.4h0M621.1 518.5h0M731.8 382.0h0M1009.7 476.3h0M890.1 542.7h0M902.2 249.5h0M780.1 278.1h0M783.1 150.7h0M840.4 403.5h0M956.1 523.9h0M976.4 333.4h0M627.4 379.5h0M818.6 171.9h0M784.0 553.7h0M749.1 247.5h0M662.4 459.2h0M649.7 465.1h0M795.6 395.2h0M604.2 488.7h0M926.3 151.0h0M836.2 326.5h0M794.8 347.1h0M843.4 358.8h0M712.0 311.4h0M994.4 331.2h0M1003.6 269.7h0M712.6 403.1h0M689.0 185.2h0" stroke-width="4.87" opacity="0.071"/><path d="M780.7 373.3h0M913.8 305.6h0M974.9 335.2h0M619.9 402.8h0M746.5 328.1h0M671.2 232.2h0M883.5 461.3h0M848.0 160.6h0M768.8 245.3h0M828.1 341.5h0M978.4 534.5h0M894.6 436.2h0M811.0 437.0h0M721.1 368.4h0M699.3 512.2h0M610.0 537.7h0M952.4 264.6h0M697.6 220.6h0M989.6 374.5h0M969.1 218.7h0M610.1 180.8h0M955.4 386.4h0M636.7 327.4h0M696.6 351.1h0M892.5 242.6h0M850.8 460.5h0M663.1 181.2h0M610.6 163.1h0M991.9 306.4h0M704.8 423.1h0M787.6 557.0h0M1010.7 429.2h0M710.4 498.3h0M747.7 442.5h0M756.1 262.8h0M794.1 233.5h0M926.3 316.3h0M834.7 138.2h0M920.2 322.7h0M712.2 499.6h0M868.7 525.8h0M828.6 186.6h0M800.5 219.6h0M925.6 549.6h0M963.1 444.0h0M1003.5 146.2h0M836.4 202.7h0M793.2 407.8h0M928.6 210.6h0M635.3 552.4h0M729.1 529.1h0M619.0 250.1h0M698.0 471.5h0M781.9 336.7h0M759.1 420.5h0M596.0 312.3h0M1007.4 193.7h0M882.3 428.6h0M702.8 183.7h0M827.7 298.2h0M855.1 298.3h0M609.6 147.6h0M629.5 207.7h0M608.9 203.9h0M590.2 554.5h0M781.9 426.5h0M739.5 335.9h0M712.2 142.9h0M792.7 144.1h0M967.9 443.7h0M899.9 508.6h0M795.8 514.9h0M875.3 417.9h0M1009.0 331.9h0M805.3 249.8h0M614.6 511.9h0M913.0 336.6h0M893.6 397.0h0M887.3 317.3h0M591.4 550.4h0M792.3 182.4h0M673.8 344.3h0M837.4 454.3h0M772.6 481.8h0M868.1 526.8h0M842.2 318.5h0M696.2 262.2h0M786.4 452.7h0M704.0 516.1h0M715.3 139.3h0M886.8 158.0h0M918.7 285.1h0M822.1 362.3h0M641.2 353.7h0M819.8 413.2h0M737.3 224.6h0M1010.6 438.8h0M644.0 510.1h0M891.8 281.5h0M997.8 528.4h0M912.0 469.5h0M778.6 505.3h0M957.7 138.6h0M886.1 369.0h0M763.6 234.7h0M764.4 163.5h0M745.7 244.5h0M876.0 288.6h0M601.3 235.9h0M753.7 431.2h0M831.1 361.8h0M975.7 389.3h0M972.4 340.5h0M821.9 259.5h0M864.6 284.0h0M777.8 187.9h0M845.0 452.6h0M876.8 441.1h0M883.9 348.6h0M664.6 533.9h0M988.4 206.8h0M785.0 534.1h0M939.4 248.9h0M663.3 289.0h0M596.3 257.9h0M607.2 388.1h0M798.9 291.9h0M656.9 504.3h0M980.1 339.1h0M789.3 537.1h0M681.1 362.2h0M848.1 550.6h0M717.9 336.0h0M930.4 490.7h0M622.9 293.7h0M761.3 170.4h0M990.9 407.3h0M961.5 211.5h0M622.4 291.1h0M817.9 334.1h0M773.4 422.5h0M872.8 349.5h0M738.9 161.5h0M622.1 148.5h0M660.8 456.5h0M865.6 340.9h0M773.9 168.8h0M862.9 417.5h0M960.1 474.5h0M635.2 454.2h0M589.1 323.9h0M721.5 540.1h0M707.9 399.6h0M990.6 388.7h0M857.7 522.7h0M889.6 344.8h0M748.9 536.3h0M706.6 193.8h0M645.0 351.8h0M895.2 559.6h0M786.2 165.3h0M818.0 396.5h0M921.7 553.6h0M665.0 431.8h0M692.2 488.6h0M693.4 507.6h0M867.8 157.6h0M588.9 436.2h0M805.3 395.0h0M710.3 374.8h0M714.1 198.3h0M773.8 360.6h0M958.9 332.5h0M694.7 406.6h0M947.6 330.8h0M900.1 367.6h0M699.2 272.5h0M598.4 174.0h0M731.0 266.7h0M970.4 433.5h0M1012.1 274.6h0M790.0 384.2h0M820.1 241.8h0M680.6 248.5h0M703.7 282.8h0M644.5 375.9h0M657.7 427.3h0M1006.5 239.1h0M961.1 397.1h0M812.4 481.6h0M929.4 194.5h0M684.4 219.0h0M781.4 465.6h0M736.2 246.0h0M591.2 516.3h0M763.6 482.5h0M634.7 558.1h0M590.8 223.3h0M812.6 387.3h0M973.7 352.5h0M664.6 476.3h0M750.6 399.4h0M996.6 520.2h0M607.1 185.0h0M834.6 534.5h0M596.3 435.9h0M826.3 263.3h0M652.7 183.6h0M968.3 525.8h0M699.7 248.3h0M828.3 251.7h0M625.6 281.0h0" stroke-width="4.87" opacity="0.114"/><path d="M1011.9 558.2h0M678.2 303.1h0M1004.6 414.5h0M765.8 471.1h0M897.7 300.6h0M674.8 207.7h0M959.0 153.4h0M704.4 282.5h0M973.1 172.8h0M807.9 442.7h0M859.8 357.6h0M677.2 496.7h0M845.5 147.6h0M859.6 360.5h0M822.1 351.2h0M835.8 313.8h0M637.2 514.5h0M741.2 251.0h0M623.5 264.7h0M744.3 185.6h0M671.6 375.0h0M819.6 376.5h0M942.4 512.8h0M746.4 473.8h0M792.5 334.6h0M649.0 438.4h0M868.1 266.3h0M873.4 197.2h0M896.5 517.6h0M746.8 416.6h0M686.0 263.5h0M603.4 558.4h0M719.7 325.5h0M986.0 288.4h0M888.5 246.3h0M652.8 383.0h0M598.9 283.0h0M721.8 439.5h0M829.5 314.2h0M903.4 225.4h0M850.2 512.3h0M676.6 402.7h0M984.8 300.2h0M1009.8 303.4h0M949.3 201.5h0M881.2 290.2h0M847.3 366.5h0M601.5 378.0h0M896.9 421.8h0M818.0 376.6h0M720.1 458.5h0M723.4 287.1h0M739.6 359.3h0M897.1 271.2h0M759.8 411.4h0M890.8 458.9h0M638.8 172.2h0M663.7 251.5h0M852.9 415.5h0M957.2 490.5h0M620.4 240.5h0M807.2 267.2h0M690.6 254.1h0M947.0 433.0h0M734.9 186.8h0M842.4 395.9h0M639.7 168.6h0M741.4 527.1h0M807.5 438.3h0M618.3 249.2h0M712.9 313.5h0M952.7 157.9h0M860.1 164.6h0M765.2 430.7h0M849.4 406.6h0M743.0 137.8h0M886.0 388.2h0M615.9 422.8h0M622.9 312.9h0M769.1 194.0h0M693.4 396.5h0M1005.3 346.0h0M788.8 370.3h0M821.2 373.6h0M999.6 410.8h0M862.6 310.2h0M617.9 262.3h0M766.9 533.2h0M792.0 257.2h0M604.5 543.8h0M768.4 329.4h0M618.5 446.4h0M813.9 174.5h0M995.5 197.9h0M695.6 346.9h0M974.2 443.7h0M684.9 341.7h0M700.7 212.6h0M986.1 262.2h0M597.8 514.8h0M974.9 497.6h0M927.6 260.1h0M748.0 254.0h0M681.2 414.8h0M813.8 449.5h0M903.6 287.4h0M836.5 248.1h0M775.8 292.9h0M707.8 375.7h0M850.4 465.6h0M822.1 319.8h0M634.2 237.8h0M971.2 403.8h0M762.0 308.0h0M813.5 215.8h0M700.8 411.8h0M974.1 327.4h0M1012.0 174.7h0M737.8 289.9h0M1010.7 440.3h0M638.0 521.6h0M618.1 191.8h0M664.0 451.6h0M832.6 215.8h0M652.2 485.3h0M862.4 550.0h0M682.0 476.3h0M591.5 338.8h0M665.0 354.0h0M801.5 369.0h0M983.1 156.9h0M1005.7 373.5h0M781.9 527.3h0M977.0 172.9h0M889.5 490.5h0M681.0 237.9h0M882.9 159.5h0M662.0 479.9h0M824.9 168.1h0M969.3 330.1h0M1000.2 281.9h0M1002.2 333.7h0M604.7 368.6h0M834.2 181.2h0M626.9 200.0h0M655.6 374.8h0M616.4 283.5h0M829.6 386.4h0M938.5 154.0h0M794.8 436.9h0M1012.4 161.7h0M925.5 550.3h0M917.7 437.8h0M746.8 453.0h0M655.7 487.1h0M648.2 157.7h0M843.7 530.0h0M643.6 318.8h0M678.6 189.3h0M784.6 216.9h0M945.9 459.5h0M829.1 261.6h0M787.6 466.5h0M723.7 412.8h0M851.1 205.2h0M733.4 472.7h0M780.8 499.7h0M850.2 253.4h0M730.6 417.2h0M768.8 450.6h0M725.1 304.1h0M620.9 547.0h0M952.9 520.5h0M901.3 262.6h0M794.5 402.2h0M877.5 239.1h0M870.7 326.4h0M869.4 504.7h0M958.1 263.8h0M1006.3 554.2h0M751.9 141.7h0M642.7 236.7h0M638.0 285.6h0M678.4 390.1h0M952.6 237.4h0M893.7 259.4h0M760.8 256.0h0M795.4 146.2h0M760.3 459.9h0M1010.1 288.5h0M672.9 245.1h0M709.7 353.1h0M939.7 309.2h0M609.9 159.9h0M972.8 160.9h0M889.3 430.5h0M833.2 153.3h0" stroke-width="4.87" opacity="0.156"/><path d="M625.8 276.9h0M620.8 367.5h0M901.4 434.3h0M738.1 426.4h0M622.9 407.0h0M673.1 318.6h0M646.6 346.4h0M856.0 413.7h0M748.7 377.1h0M679.3 517.6h0M721.1 297.5h0M642.7 319.8h0M952.2 234.5h0M667.1 222.3h0M806.2 142.3h0M843.1 349.7h0M698.4 522.4h0M934.3 307.9h0M1012.9 408.2h0M906.2 157.1h0M895.3 334.5h0M694.5 551.4h0M624.5 170.4h0M939.2 418.6h0M767.2 197.8h0M589.5 484.2h0M826.5 247.9h0M602.5 212.2h0M719.4 347.2h0M789.2 208.7h0M775.6 463.7h0M656.7 428.8h0M1002.6 262.3h0M730.4 457.9h0M945.2 411.2h0M604.5 282.5h0M873.3 392.7h0M595.6 500.5h0M761.2 395.5h0M859.7 145.3h0M772.0 295.9h0M730.1 200.1h0M913.2 382.9h0M959.4 203.7h0M731.2 433.6h0M991.7 528.3h0M676.1 508.3h0M976.3 234.8h0M942.6 476.6h0M879.4 474.1h0M667.7 430.3h0M956.8 461.9h0M668.3 410.6h0M992.6 398.5h0M787.6 180.6h0M748.3 516.7h0M888.4 227.5h0M805.9 268.1h0M813.2 361.9h0M962.2 556.3h0M709.5 260.0h0M793.1 442.3h0M898.7 378.6h0M648.2 367.6h0M738.4 285.1h0M1009.5 381.0h0M919.1 276.5h0M691.1 410.8h0M907.4 349.2h0M732.3 180.1h0M773.4 388.6h0M689.4 238.6h0M700.6 179.2h0M892.7 336.3h0M678.5 231.8h0M981.2 492.6h0M829.2 167.3h0M870.5 158.7h0M872.1 393.0h0M1006.7 387.5h0M737.0 256.5h0M612.3 191.1h0M972.8 556.1h0M655.1 546.1h0M640.1 532.5h0M840.7 408.8h0M600.9 503.8h0M796.0 522.7h0M771.7 503.3h0M698.4 504.6h0M984.3 487.3h0M641.3 322.3h0M851.8 336.6h0M962.2 554.0h0M914.4 479.0h0M992.2 194.0h0M961.8 435.1h0M620.4 532.6h0M847.4 447.2h0M902.7 411.3h0M612.3 469.8h0M675.4 387.9h0M814.0 522.7h0M625.6 470.4h0M793.1 234.1h0M678.9 234.3h0M713.5 265.8h0M651.9 172.6h0M804.5 489.6h0M795.9 359.0h0M819.9 209.3h0M721.6 481.9h0M712.8 347.2h0M899.9 533.1h0M925.1 448.9h0M779.7 545.0h0M817.0 522.0h0M865.1 223.5h0M818.9 445.6h0M807.8 183.6h0M769.0 349.7h0M863.8 192.8h0M959.5 339.5h0M894.5 485.3h0M848.2 161.4h0M728.6 292.0h0M708.4 267.0h0M730.0 538.1h0M826.5 369.0h0M686.9 396.8h0M966.4 550.2h0M856.4 245.5h0M715.4 250.6h0M822.3 165.2h0M736.8 249.9h0M621.2 187.3h0M690.4 418.5h0M884.3 171.0h0M781.6 370.1h0M791.8 360.8h0M817.3 318.1h0M934.4 231.5h0M1012.0 347.8h0M717.7 142.3h0M653.5 234.8h0M657.9 434.4h0M651.5 258.9h0M765.7 335.6h0M842.5 148.4h0M659.9 298.2h0M937.7 220.7h0M953.1 311.5h0M637.2 411.2h0M795.3 463.3h0M912.4 410.2h0M1007.0 355.2h0M858.4 472.2h0M621.3 293.1h0M715.1 519.7h0M959.2 499.9h0M678.7 353.5h0M686.4 457.0h0M606.0 467.2h0M856.8 516.3h0M987.5 234.8h0M910.4 311.6h0M672.2 197.2h0M639.1 275.1h0M721.5 433.5h0M975.1 223.7h0M721.5 372.2h0M653.2 150.0h0M787.8 193.7h0M964.2 171.2h0M977.1 422.7h0M597.7 211.5h0M983.1 435.5h0M643.8 162.4h0M904.2 426.5h0M804.4 249.7h0M731.8 462.7h0M713.6 246.9h0M760.7 143.2h0M755.5 230.3h0M806.6 484.0h0M726.9 368.6h0M713.8 436.1h0M756.9 154.1h0M665.6 497.3h0M891.5 157.2h0M747.0 140.6h0M700.6 496.2h0M1011.2 521.1h0M758.1 437.2h0M842.2 491.9h0M851.3 499.6h0M912.6 293.5h0M876.1 244.1h0M794.6 312.3h0M851.5 362.8h0M668.6 444.3h0M846.3 337.3h0M634.9 409.0h0M723.3 278.6h0M825.0 314.2h0M842.1 414.8h0M980.6 162.2h0M866.5 213.9h0M751.3 426.2h0M936.6 523.6h0M719.1 405.7h0M746.3 472.8h0M672.4 166.4h0M767.5 449.8h0M612.4 276.2h0M914.2 296.7h0M649.1 303.1h0M1002.4 541.6h0M603.7 339.1h0M787.3 180.2h0M602.6 322.9h0M682.9 218.7h0M740.3 227.8h0M664.7 310.3h0M1000.4 178.5h0M748.7 344.4h0M656.4 226.1h0M765.4 543.1h0M947.4 156.5h0M795.7 321.6h0M755.7 440.2h0M742.5 451.6h0M921.9 473.7h0M790.9 335.0h0M789.8 264.4h0M708.9 340.4h0M919.6 159.3h0M806.9 326.8h0M1000.5 500.5h0" stroke-width="4.87" opacity="0.199"/></g>
<g fill="none" stroke="#fff" stroke-linecap="round" filter="url(#b1)"><path d="M946.5 256.6h0M600.2 226.5h0M969.4 217.2h0M982.4 202.9h0M738.0 164.0h0M844.0 530.9h0M636.5 490.7h0M842.0 412.7h0M806.5 320.0h0M958.4 452.5h0M786.4 320.0h0M782.7 392.5h0M951.2 262.0h0M743.6 508.6h0M839.6 154.0h0M966.2 274.6h0M613.8 377.4h0M662.7 438.9h0" stroke-width="3.00" opacity="0.201"/><path d="M915.1 453.3h0M798.4 415.3h0M816.5 347.4h0M791.6 463.9h0M735.2 502.4h0M740.3 430.6h0M991.6 425.4h0M828.6 544.9h0M955.8 240.2h0M635.0 231.8h0M721.6 267.9h0M939.4 537.3h0M799.4 180.4h0M657.5 533.0h0M692.8 137.4h0M634.4 389.0h0M835.6 526.6h0M958.8 313.4h0" stroke-width="3.00" opacity="0.244"/><path d="M691.1 302.8h0M603.2 314.3h0M986.7 319.1h0M793.7 351.4h0M973.8 378.1h0M613.9 487.3h0M770.8 455.4h0M945.4 534.2h0M713.7 519.4h0M831.0 414.1h0" stroke-width="3.00" opacity="0.286"/><path d="M929.9 310.3h0M880.1 209.1h0M810.4 237.9h0M989.7 420.7h0M701.8 248.7h0M940.0 414.5h0M808.4 399.2h0M917.1 283.9h0M628.1 368.3h0M925.5 465.7h0M720.4 312.7h0M732.0 513.7h0M864.7 474.5h0M949.1 378.6h0M789.3 505.7h0M930.4 397.9h0M973.5 265.4h0M604.7 362.5h0M724.9 336.7h0M872.9 232.2h0M951.3 230.1h0M886.7 529.9h0M973.5 551.5h0M961.4 270.6h0M820.3 411.9h0M1005.7 533.2h0M758.2 283.9h0M1010.3 279.5h0M875.0 470.6h0M662.3 444.3h0M917.0 214.3h0M761.3 218.6h0M893.4 548.8h0M801.1 250.1h0M989.4 280.1h0M597.6 433.7h0" stroke-width="3.00" opacity="0.329"/><path d="M767.3 343.6h0M907.3 148.7h0M791.8 398.3h0M633.0 251.5h0M713.0 150.2h0M855.4 458.0h0M976.0 186.4h0M959.3 417.2h0M705.6 247.0h0M971.6 269.9h0M603.4 253.4h0M844.4 328.7h0M841.8 331.2h0M605.3 469.9h0M693.8 536.8h0M655.5 219.0h0M759.8 506.1h0M742.7 288.0h0M985.1 392.3h0M634.2 466.2h0M732.5 484.3h0M781.7 542.0h0M742.5 361.9h0" stroke-width="3.40" opacity="0.201"/><path d="M591.6 224.6h0M647.7 203.8h0M1001.4 474.4h0M657.1 454.7h0M951.9 236.4h0M738.0 253.9h0M932.7 180.7h0M708.2 484.5h0M781.7 356.9h0M855.7 295.2h0M954.8 359.0h0M933.0 312.9h0M959.7 172.9h0M873.8 231.8h0M890.2 340.9h0M630.0 460.6h0M755.5 183.8h0M660.6 385.0h0M747.0 312.9h0" stroke-width="3.40" opacity="0.244"/><path d="M766.5 319.1h0M687.6 194.6h0M828.1 369.4h0M694.4 196.0h0M839.3 356.6h0M825.7 262.5h0M912.3 232.0h0M782.5 504.6h0M873.4 384.3h0M604.7 452.4h0M783.5 471.5h0M936.9 324.8h0M696.1 174.9h0M664.2 517.0h0M916.3 356.5h0M715.5 404.8h0M650.7 469.5h0M812.3 262.2h0M994.8 502.1h0M764.3 295.6h0M626.4 430.8h0M986.2 396.4h0" stroke-width="3.40" opacity="0.286"/><path d="M893.9 209.5h0M839.6 312.1h0M824.3 405.4h0M604.6 309.9h0M780.1 356.3h0M876.4 461.5h0M721.2 308.6h0M650.0 306.7h0M1010.7 412.5h0M823.2 183.4h0M983.7 240.1h0M668.6 278.3h0M974.8 169.6h0M798.2 423.6h0M789.1 542.9h0M609.1 192.0h0M837.3 461.8h0" stroke-width="3.40" opacity="0.329"/><path d="M754.4 366.8h0M689.8 289.8h0M916.2 311.7h0M757.8 459.6h0M750.8 417.5h0M745.9 406.6h0M989.0 395.1h0M760.6 535.7h0M790.2 468.2h0M838.3 425.3h0M596.1 361.5h0M595.9 490.8h0M964.1 329.0h0M702.4 558.3h0M799.8 496.0h0M818.7 426.4h0M840.8 213.3h0M984.7 264.9h0M763.3 456.3h0M820.0 336.3h0M795.0 499.0h0M725.8 271.5h0M985.6 456.6h0M863.5 218.8h0" stroke-width="3.80" opacity="0.201"/><path d="M747.4 558.6h0M984.9 429.1h0M727.1 384.5h0M598.8 504.8h0M604.8 353.8h0M649.4 218.1h0M744.3 315.7h0M837.8 232.3h0M954.6 435.8h0M607.8 536.7h0M869.0 257.4h0M892.6 489.7h0M761.8 409.1h0M841.6 194.7h0M712.2 231.9h0M1011.7 244.0h0M894.0 181.6h0M792.4 462.3h0" stroke-width="3.80" opacity="0.244"/><path d="M1006.4 287.6h0M865.5 274.3h0M646.6 401.0h0M664.6 326.6h0M774.0 558.4h0M957.7 508.1h0M908.6 304.0h0M998.3 304.9h0M859.3 245.6h0M856.9 427.9h0M761.5 403.8h0M982.6 427.9h0M694.3 373.5h0M911.4 393.9h0M942.8 362.9h0M760.5 323.9h0M808.8 215.7h0M852.5 197.4h0M660.2 148.2h0M946.5 545.9h0M867.5 443.8h0M976.3 353.2h0M604.5 149.2h0M863.5 510.0h0M971.6 254.3h0" stroke-width="3.80" opacity="0.286"/><path d="M846.0 374.2h0M871.5 139.4h0M619.2 195.3h0M695.7 455.6h0M711.4 509.0h0M801.1 362.6h0M733.0 211.3h0M684.0 461.0h0M942.9 207.2h0M862.2 254.0h0M710.8 544.1h0M976.6 232.6h0M945.2 473.0h0M882.1 331.3h0M590.7 328.6h0M803.2 223.9h0M844.9 306.2h0M746.5 425.2h0M901.7 169.1h0M619.1 187.1h0" stroke-width="3.80" opacity="0.329"/></g>
<g fill="#fff" filter="url(#b1)"><circle cx="744.2" cy="145.1" r="2.5" opacity="1.0"/><circle cx="796.6" cy="143.6" r="3.0" opacity="1.0"/><circle cx="761.4" cy="155.0" r="2.5" opacity="1.0"/><circle cx="668.0" cy="157.0" r="1.9" opacity="0.6"/><circle cx="798.1" cy="184.6" r="2.5" opacity="1.0"/><circle cx="605.8" cy="204.2" r="2.5" opacity="1.0"/><circle cx="713.8" cy="205.5" r="3.0" opacity="1.0"/><circle cx="680.4" cy="213.7" r="1.9" opacity="0.6"/><circle cx="605.2" cy="221.7" r="1.9" opacity="0.6"/><circle cx="665.2" cy="225.9" r="2.5" opacity="1.0"/><circle cx="706.1" cy="225.5" r="2.5" opacity="1.0"/><circle cx="730.9" cy="233.1" r="2.5" opacity="1.0"/><circle cx="765.2" cy="232.2" r="2.5" opacity="1.0"/><circle cx="778.5" cy="229.7" r="2.5" opacity="1.0"/><circle cx="795.7" cy="230.7" r="3.0" opacity="1.0"/><circle cx="643.3" cy="239.8" r="2.0" opacity="0.75"/><circle cx="691.9" cy="251.8" r="2.5" opacity="1.0"/><circle cx="730.0" cy="247.4" r="1.7" opacity="0.45"/><circle cx="780.4" cy="252.6" r="2.5" opacity="1.0"/><circle cx="615.1" cy="254.5" r="2.5" opacity="1.0"/><circle cx="658.5" cy="261.7" r="2.5" opacity="1.0"/><circle cx="645.2" cy="257.9" r="1.9" opacity="0.6"/><circle cx="600.8" cy="269.9" r="1.9" opacity="0.6"/><circle cx="603.9" cy="280.2" r="2.5" opacity="1.0"/><circle cx="633.2" cy="283.6" r="1.9" opacity="0.6"/><circle cx="738.5" cy="282.3" r="1.9" opacity="0.6"/><circle cx="763.3" cy="282.7" r="1.9" opacity="0.6"/><circle cx="780.0" cy="287.0" r="2.5" opacity="1.0"/><circle cx="743.7" cy="294.1" r="3.0" opacity="1.0"/><circle cx="721.4" cy="304.6" r="2.5" opacity="1.0"/><circle cx="635.7" cy="309.3" r="2.5" opacity="1.0"/><circle cx="635.7" cy="313.1" r="2.5" opacity="1.0"/><circle cx="590.5" cy="302.1" r="1.9" opacity="0.6"/><circle cx="670.5" cy="319.2" r="2.5" opacity="1.0"/><circle cx="608.6" cy="320.8" r="1.9" opacity="0.6"/><circle cx="719.5" cy="322.3" r="2.5" opacity="1.0"/><circle cx="786.1" cy="337.0" r="2.5" opacity="1.0"/><circle cx="630.5" cy="341.3" r="2.5" opacity="1.0"/><circle cx="605.2" cy="342.1" r="1.9" opacity="0.6"/><circle cx="725.2" cy="343.6" r="2.5" opacity="1.0"/><circle cx="711.9" cy="344.6" r="2.5" opacity="1.0"/><circle cx="589.0" cy="204.6" r="1.9" opacity="0.6"/><circle cx="807.7" cy="150.9" r="2.5" opacity="1.0"/><circle cx="887.7" cy="137.5" r="2.5" opacity="1.0"/><circle cx="830.5" cy="138.3" r="1.9" opacity="0.6"/><circle cx="916.2" cy="145.9" r="3.0" opacity="1.0"/><circle cx="870.0" cy="167.8" r="2.2" opacity="0.9"/><circle cx="978.1" cy="167.4" r="3.0" opacity="1.0"/><circle cx="989.6" cy="170.7" r="2.5" opacity="1.0"/><circle cx="815.9" cy="183.0" r="2.5" opacity="1.0"/><circle cx="876.8" cy="182.1" r="2.5" opacity="1.0"/><circle cx="869.2" cy="186.5" r="2.5" opacity="1.0"/><circle cx="905.4" cy="187.8" r="3.0" opacity="1.0"/><circle cx="901.0" cy="191.6" r="2.5" opacity="1.0"/><circle cx="880.0" cy="203.2" r="3.0" opacity="1.0"/><circle cx="894.7" cy="206.1" r="2.5" opacity="1.0"/><circle cx="989.6" cy="202.1" r="2.5" opacity="1.0"/><circle cx="977.8" cy="209.0" r="3.0" opacity="1.0"/><circle cx="983.9" cy="212.2" r="1.9" opacity="0.6"/><circle cx="935.9" cy="204.6" r="1.7" opacity="0.45"/><circle cx="838.1" cy="204.2" r="1.7" opacity="0.45"/><circle cx="849.6" cy="223.2" r="2.5" opacity="1.0"/><circle cx="877.2" cy="229.3" r="2.5" opacity="1.0"/><circle cx="857.8" cy="234.7" r="2.2" opacity="0.9"/><circle cx="923.9" cy="227.4" r="3.0" opacity="1.0"/><circle cx="957.2" cy="225.5" r="1.9" opacity="0.6"/><circle cx="981.6" cy="236.0" r="3.0" opacity="1.0"/><circle cx="999.1" cy="235.0" r="3.0" opacity="1.0"/><circle cx="1010.5" cy="232.2" r="1.9" opacity="0.6"/><circle cx="921.0" cy="247.4" r="1.7" opacity="0.45"/><circle cx="892.0" cy="261.7" r="2.5" opacity="1.0"/><circle cx="868.6" cy="265.9" r="2.5" opacity="1.0"/><circle cx="824.8" cy="277.9" r="3.0" opacity="1.0"/><circle cx="1005.8" cy="278.9" r="3.0" opacity="1.0"/><circle cx="957.6" cy="303.6" r="3.0" opacity="1.0"/><circle cx="966.3" cy="317.9" r="2.0" opacity="0.75"/><circle cx="823.5" cy="323.0" r="2.2" opacity="0.9"/><circle cx="836.8" cy="331.2" r="2.5" opacity="1.0"/><circle cx="848.6" cy="331.2" r="1.9" opacity="0.6"/><circle cx="962.0" cy="335.0" r="2.5" opacity="1.0"/><circle cx="879.5" cy="339.8" r="2.5" opacity="1.0"/><circle cx="844.4" cy="340.2" r="1.9" opacity="0.6"/><circle cx="958.1" cy="342.7" r="3.0" opacity="1.0"/><circle cx="953.4" cy="343.2" r="2.5" opacity="1.0"/><circle cx="804.8" cy="339.4" r="1.9" opacity="0.6"/><circle cx="715.7" cy="349.5" r="2.5" opacity="1.0"/><circle cx="763.3" cy="349.5" r="2.5" opacity="1.0"/><circle cx="701.8" cy="360.4" r="3.0" opacity="1.0"/><circle cx="633.2" cy="363.2" r="1.9" opacity="0.6"/><circle cx="746.7" cy="369.0" r="2.5" opacity="1.0"/><circle cx="762.7" cy="367.0" r="2.2" opacity="0.9"/><circle cx="794.7" cy="366.7" r="1.9" opacity="0.6"/><circle cx="639.1" cy="373.3" r="2.5" opacity="1.0"/><circle cx="617.2" cy="377.5" r="2.5" opacity="1.0"/><circle cx="769.6" cy="374.3" r="2.5" opacity="1.0"/><circle cx="776.6" cy="372.8" r="3.0" opacity="1.0"/><circle cx="597.6" cy="382.3" r="1.9" opacity="0.6"/><circle cx="696.6" cy="396.6" r="2.5" opacity="1.0"/><circle cx="680.4" cy="400.0" r="2.2" opacity="0.9"/><circle cx="706.7" cy="400.0" r="2.5" opacity="1.0"/><circle cx="590.0" cy="395.6" r="1.9" opacity="0.6"/><circle cx="632.8" cy="413.7" r="1.7" opacity="0.45"/><circle cx="717.6" cy="413.7" r="3.0" opacity="1.0"/><circle cx="694.7" cy="416.0" r="2.5" opacity="1.0"/><circle cx="624.8" cy="429.3" r="2.5" opacity="1.0"/><circle cx="771.9" cy="429.5" r="3.0" opacity="1.0"/><circle cx="798.5" cy="432.8" r="2.0" opacity="0.75"/><circle cx="613.4" cy="439.0" r="2.0" opacity="0.75"/><circle cx="670.0" cy="438.5" r="3.0" opacity="1.0"/><circle cx="618.5" cy="456.0" r="2.2" opacity="0.9"/><circle cx="614.1" cy="462.7" r="2.5" opacity="1.0"/><circle cx="711.9" cy="461.3" r="2.2" opacity="0.9"/><circle cx="760.0" cy="465.1" r="2.0" opacity="0.75"/><circle cx="687.1" cy="476.6" r="2.5" opacity="1.0"/><circle cx="690.3" cy="479.8" r="3.0" opacity="1.0"/><circle cx="598.1" cy="483.6" r="2.5" opacity="1.0"/><circle cx="767.7" cy="497.0" r="2.5" opacity="1.0"/><circle cx="707.5" cy="500.0" r="2.5" opacity="1.0"/><circle cx="724.6" cy="500.4" r="3.0" opacity="1.0"/><circle cx="601.4" cy="504.8" r="2.5" opacity="1.0"/><circle cx="700.4" cy="509.5" r="2.5" opacity="1.0"/><circle cx="719.5" cy="515.0" r="3.0" opacity="1.0"/><circle cx="707.1" cy="527.0" r="2.5" opacity="1.0"/><circle cx="615.3" cy="532.4" r="2.2" opacity="0.9"/><circle cx="662.3" cy="535.6" r="2.5" opacity="1.0"/><circle cx="669.0" cy="535.6" r="2.5" opacity="1.0"/><circle cx="792.8" cy="549.5" r="2.5" opacity="1.0"/><circle cx="604.6" cy="553.7" r="2.5" opacity="1.0"/><circle cx="689.0" cy="553.3" r="2.2" opacity="0.9"/><circle cx="611.9" cy="498.5" r="1.7" opacity="0.45"/><circle cx="815.3" cy="355.2" r="1.9" opacity="0.6"/><circle cx="833.0" cy="365.5" r="2.5" opacity="1.0"/><circle cx="972.0" cy="363.6" r="3.0" opacity="1.0"/><circle cx="956.2" cy="369.3" r="2.5" opacity="1.0"/><circle cx="943.5" cy="378.1" r="2.5" opacity="1.0"/><circle cx="855.3" cy="382.3" r="2.5" opacity="1.0"/><circle cx="948.6" cy="386.1" r="3.0" opacity="1.0"/><circle cx="897.2" cy="392.2" r="2.0" opacity="0.75"/><circle cx="817.2" cy="395.2" r="2.5" opacity="1.0"/><circle cx="986.7" cy="395.2" r="2.5" opacity="1.0"/><circle cx="809.6" cy="406.1" r="3.0" opacity="1.0"/><circle cx="965.8" cy="407.4" r="3.0" opacity="1.0"/><circle cx="963.3" cy="412.4" r="3.0" opacity="1.0"/><circle cx="915.3" cy="425.1" r="2.5" opacity="1.0"/><circle cx="882.0" cy="434.1" r="3.0" opacity="1.0"/><circle cx="966.7" cy="432.2" r="2.5" opacity="1.0"/><circle cx="957.2" cy="439.8" r="2.2" opacity="0.9"/><circle cx="1006.3" cy="441.3" r="3.0" opacity="1.0"/><circle cx="875.3" cy="452.4" r="2.0" opacity="0.75"/><circle cx="904.4" cy="458.9" r="2.2" opacity="0.9"/><circle cx="838.7" cy="462.7" r="2.5" opacity="1.0"/><circle cx="914.7" cy="463.8" r="2.5" opacity="1.0"/><circle cx="961.0" cy="462.7" r="2.5" opacity="1.0"/><circle cx="900.0" cy="469.5" r="2.5" opacity="1.0"/><circle cx="999.1" cy="468.4" r="1.9" opacity="0.6"/><circle cx="915.3" cy="474.1" r="3.0" opacity="1.0"/><circle cx="931.5" cy="481.3" r="2.5" opacity="1.0"/><circle cx="887.7" cy="488.6" r="2.2" opacity="0.9"/><circle cx="977.2" cy="498.5" r="2.2" opacity="0.9"/><circle cx="850.9" cy="516.2" r="3.0" opacity="1.0"/><circle cx="846.3" cy="533.7" r="1.9" opacity="0.6"/><circle cx="883.3" cy="541.9" r="2.2" opacity="0.9"/><circle cx="915.3" cy="544.2" r="2.2" opacity="0.9"/><circle cx="838.1" cy="549.0" r="3.0" opacity="1.0"/><circle cx="831.5" cy="552.8" r="2.5" opacity="1.0"/></g>
</g>
<rect x="865.3" y="526.2" width="125.7" height="12.7" fill="#fff"/>
<text x="592.55" y="612.10" font-family='"Liberation Sans", sans-serif' font-size="31.72" fill="#231f20" textLength="152.50" lengthAdjust="spacingAndGlyphs">Monomers</text>
<text x="771.98" y="612.10" font-family='"Liberation Sans", sans-serif' font-size="31.72" fill="#231f20" textLength="253.54" lengthAdjust="spacingAndGlyphs">Dimers and larger</text>
<line x1="582.6" y1="625.9" x2="764.4" y2="625.9" stroke="#231f20" stroke-width="1.6"/>
<path d="M574.6 625.9 l14 -3.8 v7.6 z M772.4 625.9 l-14 -3.8 v7.6 z" fill="#231f20"/>
<line x1="782.4" y1="625.9" x2="1015.0" y2="625.9" stroke="#231f20" stroke-width="1.6"/>
<path d="M774.4 625.9 l14 -3.8 v7.6 z M1023.0 625.9 l-14 -3.8 v7.6 z" fill="#231f20"/>
<g fill="#d1d1d1" stroke="#333" stroke-width="1.5"><rect x="605.27" y="888.10" width="21.21" height="111.50"/><rect x="626.48" y="761.40" width="21.21" height="238.20"/><rect x="647.69" y="690.45" width="21.21" height="309.15"/><rect x="668.89" y="690.45" width="21.21" height="309.15"/><rect x="690.10" y="766.47" width="21.21" height="233.13"/><rect x="711.31" y="837.42" width="21.21" height="162.18"/><rect x="732.52" y="893.17" width="21.21" height="106.43"/><rect x="753.73" y="928.65" width="21.21" height="70.95"/><rect x="774.94" y="943.85" width="21.21" height="55.75"/><rect x="796.15" y="984.40" width="21.21" height="15.20"/><rect x="817.36" y="974.26" width="21.21" height="25.34"/><rect x="838.56" y="994.53" width="21.21" height="5.07"/><rect x="859.77" y="974.26" width="21.21" height="25.34"/><rect x="880.98" y="994.53" width="21.21" height="5.07"/><rect x="902.19" y="989.46" width="21.21" height="10.14"/><rect x="923.40" y="994.53" width="21.21" height="5.07"/><rect x="944.61" y="994.53" width="21.21" height="5.07"/><rect x="965.82" y="994.53" width="21.21" height="5.07"/></g>
<rect x="573.8" y="644.84" width="449.55" height="354.76" fill="none" stroke="#333" stroke-width="2.2"/>
<path d="M573.8 948.92 h5.5 M1023.35 948.92 h-5 M573.8 898.24 h5.5 M1023.35 898.24 h-5 M573.8 847.56 h5.5 M1023.35 847.56 h-5 M573.8 796.88 h5.5 M1023.35 796.88 h-5 M573.8 746.20 h5.5 M1023.35 746.20 h-5 M573.8 695.52 h5.5 M1023.35 695.52 h-5 M623.75 644.84 v6 M673.70 644.84 v6 M723.65 644.84 v6 M773.60 644.84 v6 M823.55 644.84 v6 M873.50 644.84 v6 M923.45 644.84 v6 M973.40 644.84 v6" stroke="#333" stroke-width="1.6" fill="none"/>
<polyline points="573.8,976.9 574.8,975.7 575.8,974.4 576.8,973.1 577.8,971.7 578.8,970.2 579.8,968.7 580.8,967.1 581.8,965.5 582.8,963.8 583.8,962.0 584.8,960.2 585.8,958.3 586.8,956.3 587.8,954.3 588.8,952.1 589.8,950.0 590.8,947.7 591.8,945.4 592.8,943.0 593.8,940.5 594.8,938.0 595.8,935.4 596.8,932.7 597.8,929.9 598.8,927.0 599.8,924.1 600.8,921.1 601.8,918.1 602.8,914.9 603.8,911.7 604.8,908.4 605.8,905.0 606.8,901.6 607.8,898.1 608.8,894.5 609.8,890.9 610.8,887.2 611.8,883.4 612.8,879.6 613.8,875.7 614.8,871.7 615.8,867.7 616.8,863.7 617.8,859.5 618.8,855.4 619.8,851.2 620.8,847.0 621.8,842.7 622.8,838.4 623.8,834.1 624.7,829.7 625.7,825.3 626.7,821.0 627.7,816.6 628.7,812.1 629.7,807.7 630.7,803.3 631.7,798.9 632.7,794.5 633.7,790.2 634.7,785.8 635.7,781.5 636.7,777.2 637.7,773.0 638.7,768.8 639.7,764.6 640.7,760.5 641.7,756.5 642.7,752.5 643.7,748.6 644.7,744.7 645.7,741.0 646.7,737.3 647.7,733.8 648.7,730.3 649.7,726.9 650.7,723.6 651.7,720.5 652.7,717.5 653.7,714.5 654.7,711.8 655.7,709.1 656.7,706.6 657.7,704.2 658.7,701.9 659.7,699.8 660.7,697.9 661.7,696.1 662.7,694.4 663.7,693.0 664.7,691.6 665.7,690.5 666.7,689.5 667.7,688.6 668.7,687.9 669.7,687.4 670.7,687.1 671.7,686.9 672.7,686.9 673.7,687.1 674.7,687.4 675.7,687.9 676.7,688.6 677.7,689.5 678.7,690.5 679.7,691.6 680.7,693.0 681.7,694.4 682.7,696.1 683.7,697.9 684.7,699.8 685.7,701.9 686.7,704.2 687.7,706.6 688.7,709.1 689.7,711.8 690.7,714.5 691.7,717.5 692.7,720.5 693.7,723.6 694.7,726.9 695.7,730.3 696.7,733.8 697.7,737.3 698.7,741.0 699.7,744.7 700.7,748.6 701.7,752.5 702.7,756.5 703.7,760.5 704.7,764.6 705.7,768.8 706.7,773.0 707.7,777.2 708.7,781.5 709.7,785.8 710.7,790.2 711.7,794.5 712.7,798.9 713.7,803.3 714.7,807.7 715.7,812.1 716.7,816.6 717.7,821.0 718.7,825.3 719.7,829.7 720.7,834.1 721.7,838.4 722.7,842.7 723.6,847.0 724.6,851.2 725.6,855.4 726.6,859.5 727.6,863.7 728.6,867.7 729.6,871.7 730.6,875.7 731.6,879.6 732.6,883.4 733.6,887.2 734.6,890.9 735.6,894.5 736.6,898.1 737.6,901.6 738.6,905.0 739.6,908.4 740.6,911.7 741.6,914.9 742.6,918.1 743.6,921.1 744.6,924.1 745.6,927.0 746.6,929.9 747.6,932.7 748.6,935.4 749.6,938.0 750.6,940.5 751.6,943.0 752.6,945.4 753.6,947.7 754.6,950.0 755.6,952.1 756.6,954.3 757.6,956.3 758.6,958.3 759.6,960.2 760.6,962.0 761.6,963.8 762.6,965.5 763.6,967.1 764.6,968.7 765.6,970.2 766.6,971.7 767.6,973.1 768.6,974.4 769.6,975.7 770.6,976.9 771.6,978.1 772.6,979.2 773.6,980.3 774.6,981.3 775.6,982.3 776.6,983.3 777.6,984.2 778.6,985.0 779.6,985.9 780.6,986.6 781.6,987.4 782.6,988.1 783.6,988.8 784.6,989.4 785.6,990.0 786.6,990.6 787.6,991.1 788.6,991.6 789.6,992.1 790.6,992.6 791.6,993.0 792.6,993.4 793.6,993.8 794.6,994.2 795.6,994.5 796.6,994.9 797.6,995.2 798.6,995.5 799.6,995.7 800.6,996.0 801.6,996.2 802.6,996.5 803.6,996.7 804.6,996.9 805.6,997.1 806.6,997.3 807.6,997.4 808.6,997.6 809.6,997.7 810.6,997.9 811.6,998.0 812.6,998.1 813.6,998.2 814.6,998.3 815.6,998.4 816.6,998.5 817.6,998.6 818.6,998.7 819.6,998.7 820.6,998.8 821.6,998.9 822.6,998.9 823.5,999.0 824.5,999.0 825.5,999.1 826.5,999.1 827.5,999.1 828.5,999.2 829.5,999.2 830.5,999.2 831.5,999.3 832.5,999.3 833.5,999.3 834.5,999.4 835.5,999.4 836.5,999.4 837.5,999.4 838.5,999.4 839.5,999.4 840.5,999.5 841.5,999.5 842.5,999.5 843.5,999.5 844.5,999.5 845.5,999.5 846.5,999.5 847.5,999.5 848.5,999.5 849.5,999.5 850.5,999.5 851.5,999.5 852.5,999.6 853.5,999.6 854.5,999.6 855.5,999.6 856.5,999.6 857.5,999.6 858.5,999.6 859.5,999.6 860.5,999.6 861.5,999.6 862.5,999.6 863.5,999.6 864.5,999.6 865.5,999.6 866.5,999.6 867.5,999.6 868.5,999.6 869.5,999.6 870.5,999.6 871.5,999.6 872.5,999.6 873.5,999.6 874.5,999.6 875.5,999.6 876.5,999.6 877.5,999.6 878.5,999.6 879.5,999.6 880.5,999.6 881.5,999.6 882.5,999.6 883.5,999.6 884.5,999.6 885.5,999.6 886.5,999.6 887.5,999.6 888.5,999.6 889.5,999.6 890.5,999.6 891.5,999.6 892.5,999.6 893.5,999.6 894.5,999.6 895.5,999.6 896.5,999.6 897.5,999.6 898.5,999.6 899.5,999.6 900.5,999.6 901.5,999.6 902.5,999.6 903.5,999.6 904.5,999.6 905.5,999.6 906.5,999.6 907.5,999.6 908.5,999.6 909.5,999.6 910.5,999.6 911.5,999.6 912.5,999.6 913.5,999.6 914.5,999.6 915.5,999.6 916.5,999.6 917.5,999.6 918.5,999.6 919.5,999.6 920.5,999.6 921.5,999.6 922.5,999.6 923.5,999.6 924.4,999.6 925.4,999.6 926.4,999.6 927.4,999.6 928.4,999.6 929.4,999.6 930.4,999.6 931.4,999.6 932.4,999.6 933.4,999.6 934.4,999.6 935.4,999.6 936.4,999.6 937.4,999.6 938.4,999.6 939.4,999.6 940.4,999.6 941.4,999.6 942.4,999.6 943.4,999.6 944.4,999.6 945.4,999.6 946.4,999.6 947.4,999.6 948.4,999.6 949.4,999.6 950.4,999.6 951.4,999.6 952.4,999.6 953.4,999.6 954.4,999.6 955.4,999.6 956.4,999.6 957.4,999.6 958.4,999.6 959.4,999.6 960.4,999.6 961.4,999.6 962.4,999.6 963.4,999.6 964.4,999.6 965.4,999.6 966.4,999.6 967.4,999.6 968.4,999.6 969.4,999.6 970.4,999.6 971.4,999.6 972.4,999.6 973.4,999.6 974.4,999.6 975.4,999.6 976.4,999.6 977.4,999.6 978.4,999.6 979.4,999.6 980.4,999.6 981.4,999.6 982.4,999.6 983.4,999.6 984.4,999.6 985.4,999.6 986.4,999.6 987.4,999.6 988.4,999.6 989.4,999.6 990.4,999.6 991.4,999.6 992.4,999.6 993.4,999.6 994.4,999.6 995.4,999.6 996.4,999.6 997.4,999.6 998.4,999.6 999.4,999.6 1000.4,999.6 1001.4,999.6 1002.4,999.6 1003.4,999.6 1004.4,999.6 1005.4,999.6 1006.4,999.6 1007.4,999.6 1008.4,999.6 1009.4,999.6 1010.4,999.6 1011.4,999.6 1012.4,999.6 1013.4,999.6 1014.4,999.6 1015.4,999.6 1016.4,999.6 1017.4,999.6 1018.4,999.6 1019.4,999.6 1020.4,999.6 1021.4,999.6 1022.4,999.6 1023.3,999.6" fill="none" stroke="#d7232e" stroke-width="2.8" stroke-dasharray="6 5.5"/>
<text x="553.60" y="1008.60" font-family='"Liberation Sans", sans-serif' font-size="27.56" fill="#231f20" textLength="14.74" lengthAdjust="spacingAndGlyphs">0</text>
<text x="538.87" y="907.24" font-family='"Liberation Sans", sans-serif' font-size="27.56" fill="#231f20" textLength="29.48" lengthAdjust="spacingAndGlyphs">20</text>
<text x="538.87" y="805.88" font-family='"Liberation Sans", sans-serif' font-size="27.56" fill="#231f20" textLength="29.48" lengthAdjust="spacingAndGlyphs">40</text>
<text x="538.87" y="704.52" font-family='"Liberation Sans", sans-serif' font-size="27.56" fill="#231f20" textLength="29.48" lengthAdjust="spacingAndGlyphs">60</text>
<text x="566.43" y="1030.20" font-family='"Liberation Sans", sans-serif' font-size="27.56" fill="#231f20" textLength="14.74" lengthAdjust="spacingAndGlyphs">0</text>
<text x="658.48" y="1030.20" font-family='"Liberation Sans", sans-serif' font-size="27.56" fill="#231f20" textLength="29.48" lengthAdjust="spacingAndGlyphs">10</text>
<text x="758.72" y="1030.20" font-family='"Liberation Sans", sans-serif' font-size="27.56" fill="#231f20" textLength="29.48" lengthAdjust="spacingAndGlyphs">20</text>
<text x="858.78" y="1030.20" font-family='"Liberation Sans", sans-serif' font-size="27.56" fill="#231f20" textLength="29.48" lengthAdjust="spacingAndGlyphs">30</text>
<text x="958.88" y="1030.20" font-family='"Liberation Sans", sans-serif' font-size="27.56" fill="#231f20" textLength="29.48" lengthAdjust="spacingAndGlyphs">40</text>
<text x="647.41" y="1067.50" font-family='"Liberation Sans", sans-serif' font-size="30.68" fill="#231f20" textLength="321.40" lengthAdjust="spacingAndGlyphs">Intensity per spot [counts]</text>
<text x="-2.64" y="0.00" font-family='"Liberation Sans", sans-serif' font-size="31.20" fill="#231f20" textLength="235.81" lengthAdjust="spacingAndGlyphs" transform="translate(521.50 928.60) rotate(-90)">Number of spots</text>
</g>
<g id="panelC">
<text x="1133.27" y="54.50" font-family='"Liberation Sans", sans-serif' font-size="58.24" fill="#231f20" textLength="37.19" lengthAdjust="spacingAndGlyphs">C</text>
<path d="M1283.5 100.1 V976.8 H2413.4 M1283.5 976.80 h12.4 M1283.5 872.60 h12.4 M1283.5 768.40 h12.4 M1283.5 664.20 h12.4 M1283.5 560.00 h12.4 M1283.5 455.80 h12.4 M1283.5 351.60 h12.4 M1283.5 247.40 h12.4 M1283.5 143.20 h12.4 M1283.50 976.8 v-12.4 M1368.53 976.8 v-6.6 M1418.27 976.8 v-6.6 M1453.57 976.8 v-6.6 M1480.94 976.8 v-6.6 M1503.31 976.8 v-6.6 M1522.22 976.8 v-6.6 M1538.60 976.8 v-6.6 M1553.05 976.8 v-6.6 M1565.97 976.8 v-12.4 M1651.01 976.8 v-6.6 M1700.75 976.8 v-6.6 M1736.04 976.8 v-6.6 M1763.42 976.8 v-6.6 M1785.78 976.8 v-6.6 M1804.69 976.8 v-6.6 M1821.08 976.8 v-6.6 M1835.52 976.8 v-6.6 M1848.45 976.8 v-12.4 M1933.48 976.8 v-6.6 M1983.22 976.8 v-6.6 M2018.52 976.8 v-6.6 M2045.89 976.8 v-6.6 M2068.26 976.8 v-6.6 M2087.17 976.8 v-6.6 M2103.55 976.8 v-6.6 M2118.00 976.8 v-6.6 M2130.93 976.8 v-12.4 M2215.96 976.8 v-6.6 M2265.70 976.8 v-6.6 M2300.99 976.8 v-6.6 M2328.37 976.8 v-6.6 M2350.73 976.8 v-6.6 M2369.64 976.8 v-6.6 M2386.03 976.8 v-6.6 M2400.47 976.8 v-6.6 M2413.40 976.8 v-12.4 M2413.4 976.8 v-12.5" stroke="#3a3a3a" stroke-width="3" fill="none" stroke-linecap="butt"/>
<polyline points="1283.8,974.5 1566.2,971.0 1651.0,950.8 1700.9,920.6 1736.2,884.0 1763.6,846.3 1785.9,803.0 1804.8,750.0 1821.2,702.0 1835.6,659.0 1848.6,621.0 1851.6,612.3 1854.6,603.7 1857.6,595.1 1860.6,586.5 1863.6,577.9 1866.6,569.3 1869.6,560.5 1872.6,551.6 1875.6,542.5 1878.6,533.1 1881.6,523.3 1884.6,513.4 1887.6,503.3 1890.6,493.2 1893.6,483.3 1896.6,473.6 1899.6,464.4 1902.6,455.3 1905.6,446.4 1908.6,437.6 1911.6,428.9 1914.6,420.5 1917.6,412.2 1920.6,404.1 1923.6,396.2 1926.6,388.6 1929.6,381.3 1932.6,374.2 1935.6,367.4 1938.6,360.7 1941.6,354.1 1944.6,347.6 1947.6,341.3 1950.6,335.2 1953.6,329.4 1956.6,323.9 1959.6,318.6 1962.6,313.5 1965.6,308.5 1968.6,303.7 1971.6,299.0 1974.6,294.6 1977.6,290.3 1980.6,286.3 1983.6,282.4 1986.6,278.6 1989.6,274.9 1992.6,271.4 1995.6,268.1 1998.6,264.8 2001.6,261.7 2004.6,258.8 2007.6,256.0 2010.6,253.2 2013.6,250.5 2016.6,248.0 2019.6,245.5 2022.6,243.1 2025.6,240.9 2028.6,238.8 2031.6,236.9 2034.6,235.1 2037.6,233.4 2040.6,231.8 2043.6,230.3 2046.6,228.8 2049.6,227.4 2052.6,226.1 2055.6,224.7 2058.6,223.4 2061.6,222.0 2064.6,220.7 2067.6,219.3 2070.6,218.0 2073.6,216.8 2076.6,215.7 2079.6,214.7 2082.6,213.9 2085.6,213.0 2088.6,212.2 2091.6,211.5 2094.6,210.8 2097.6,210.1 2100.6,209.4 2103.6,208.8 2106.6,208.2 2109.6,207.6 2112.6,207.1 2115.6,206.5 2118.6,206.0 2121.6,205.5 2124.6,205.0 2127.6,204.5 2130.6,204.0 2133.6,203.6 2136.6,203.1 2139.6,202.7 2142.6,202.2 2145.6,201.8 2148.6,201.4 2151.6,201.0 2154.6,200.7 2157.6,200.3 2160.6,200.0 2163.6,199.7 2166.6,199.4 2169.6,199.1 2172.6,198.9 2175.6,198.6 2178.6,198.4 2181.6,198.1 2184.6,197.9 2187.6,197.7 2190.6,197.5 2193.6,197.3 2196.6,197.1 2199.6,196.9 2202.6,196.7 2205.6,196.6 2208.6,196.4 2211.6,196.3 2214.6,196.2 2217.6,196.0 2220.6,195.9 2223.6,195.8 2226.6,195.7 2229.6,195.6 2232.6,195.5 2235.6,195.4 2238.6,195.3 2241.6,195.2 2244.6,195.1 2247.6,195.0 2250.6,195.0 2253.6,194.9 2256.6,194.9 2259.6,194.8 2262.6,194.8 2265.6,194.8 2268.6,194.7 2271.6,194.7 2274.6,194.7 2277.6,194.6 2280.6,194.6 2283.6,194.6 2286.6,194.5 2289.6,194.5 2292.6,194.5 2295.6,194.5 2298.6,194.4 2301.6,194.4 2304.6,194.4 2307.6,194.4 2310.6,194.4 2313.6,194.4 2316.6,194.4 2319.6,194.4 2322.6,194.4 2325.6,194.4 2328.6,194.4 2331.6,194.4 2334.6,194.4 2337.6,194.4 2340.6,194.4 2343.6,194.4 2346.6,194.4 2349.6,194.4 2352.6,194.4 2355.6,194.4 2358.6,194.4 2361.6,194.4 2364.6,194.4 2367.6,194.4 2370.6,194.4 2373.6,194.4 2376.6,194.4 2379.6,194.4 2382.6,194.4 2385.6,194.4 2388.6,194.4 2391.6,194.4 2394.6,194.4 2397.6,194.4 2400.6,194.4 2403.6,194.4 2406.6,194.4 2409.6,194.4 2412.6,194.4 2413.4,194.4" fill="none" stroke="#ff0000" stroke-width="6" stroke-linejoin="round"/>
<polyline points="1283.8,975.0 1566.2,973.0 1651.0,961.6 1700.9,945.4 1736.2,914.2 1763.6,877.5 1785.9,831.0 1804.8,773.0 1821.2,716.0 1835.6,664.0 1848.6,615.0 1851.6,604.6 1854.6,594.6 1857.6,584.9 1860.6,575.4 1863.6,565.7 1866.6,555.9 1869.6,545.6 1872.6,534.9 1875.6,523.4 1878.6,511.3 1881.6,499.1 1884.6,487.0 1887.6,475.3 1890.6,464.3 1893.6,454.2 1896.6,444.8 1899.6,435.8 1902.6,427.1 1905.6,418.5 1908.6,409.9 1911.6,400.9 1914.6,391.5 1917.6,381.6 1920.6,371.3 1923.6,361.1 1926.6,351.0 1929.6,341.5 1932.6,332.8 1935.6,325.1 1938.6,318.4 1941.6,312.2 1944.6,306.5 1947.6,301.1 1950.6,296.0 1953.6,291.2 1956.6,286.4 1959.6,281.7 1962.6,277.2 1965.6,272.9 1968.6,268.8 1971.6,265.0 1974.6,261.5 1977.6,258.2 1980.6,255.1 1983.6,252.2 1986.6,249.4 1989.6,246.7 1992.6,244.2 1995.6,241.8 1998.6,239.6 2001.6,237.4 2004.6,235.3 2007.6,233.3 2010.6,231.4 2013.6,229.6 2016.6,227.8 2019.6,226.1 2022.6,224.4 2025.6,222.8 2028.6,221.3 2031.6,219.7 2034.6,218.2 2037.6,216.8 2040.6,215.4 2043.6,214.0 2046.6,212.7 2049.6,211.4 2052.6,210.2 2055.6,209.0 2058.6,207.9 2061.6,206.9 2064.6,205.9 2067.6,205.0 2070.6,204.1 2073.6,203.2 2076.6,202.4 2079.6,201.6 2082.6,200.8 2085.6,200.1 2088.6,199.3 2091.6,198.6 2094.6,197.9 2097.6,197.2 2100.6,196.5 2103.6,195.8 2106.6,195.2 2109.6,194.6 2112.6,194.0 2115.6,193.4 2118.6,192.9 2121.6,192.4 2124.6,191.9 2127.6,191.4 2130.6,191.0 2133.6,190.6 2136.6,190.2 2139.6,189.8 2142.6,189.5 2145.6,189.1 2148.6,188.8 2151.6,188.4 2154.6,188.1 2157.6,187.8 2160.6,187.5 2163.6,187.2 2166.6,186.9 2169.6,186.6 2172.6,186.3 2175.6,186.1 2178.6,185.8 2181.6,185.5 2184.6,185.2 2187.6,185.0 2190.6,184.7 2193.6,184.5 2196.6,184.3 2199.6,184.0 2202.6,183.8 2205.6,183.6 2208.6,183.4 2211.6,183.2 2214.6,183.0 2217.6,182.8 2220.6,182.7 2223.6,182.5 2226.6,182.3 2229.6,182.2 2232.6,182.0 2235.6,181.8 2238.6,181.7 2241.6,181.6 2244.6,181.4 2247.6,181.3 2250.6,181.2 2253.6,181.1 2256.6,181.0 2259.6,180.9 2262.6,180.8 2265.6,180.7 2268.6,180.6 2271.6,180.5 2274.6,180.4 2277.6,180.3 2280.6,180.2 2283.6,180.1 2286.6,180.1 2289.6,180.0 2292.6,179.9 2295.6,179.9 2298.6,179.8 2301.6,179.8 2304.6,179.7 2307.6,179.7 2310.6,179.6 2313.6,179.6 2316.6,179.6 2319.6,179.6 2322.6,179.5 2325.6,179.5 2328.6,179.5 2331.6,179.5 2334.6,179.5 2337.6,179.4 2340.6,179.4 2343.6,179.4 2346.6,179.4 2349.6,179.4 2352.6,179.4 2355.6,179.3 2358.6,179.3 2361.6,179.3 2364.6,179.3 2367.6,179.3 2370.6,179.3 2373.6,179.3 2376.6,179.3 2379.6,179.3 2382.6,179.2 2385.6,179.2 2388.6,179.2 2391.6,179.2 2394.6,179.2 2397.6,179.2 2400.6,179.2 2403.6,179.2 2406.6,179.2 2409.6,179.2 2412.6,179.2 2413.4,179.2" fill="none" stroke="#7e2f8e" stroke-width="8" stroke-linejoin="round"/>
<polyline points="1283.8,976.0 1566.2,975.0 1651.0,967.0 1700.9,954.0 1736.2,925.0 1763.6,889.4 1785.9,842.0 1804.8,788.0 1821.2,722.0 1835.6,666.0 1848.6,613.0 1851.6,599.1 1854.6,584.4 1857.6,569.3 1860.6,554.7 1863.6,541.0 1866.6,527.7 1869.6,514.5 1872.6,501.6 1875.6,489.1 1878.6,477.1 1881.6,465.6 1884.6,454.7 1887.6,444.6 1890.6,434.8 1893.6,425.5 1896.6,416.6 1899.6,408.0 1902.6,399.7 1905.6,391.7 1908.6,383.8 1911.6,376.2 1914.6,368.9 1917.6,361.9 1920.6,355.3 1923.6,349.1 1926.6,343.3 1929.6,337.8 1932.6,332.6 1935.6,327.6 1938.6,322.7 1941.6,317.9 1944.6,313.2 1947.6,308.7 1950.6,304.4 1953.6,300.4 1956.6,296.6 1959.6,293.1 1962.6,289.7 1965.6,286.5 1968.6,283.4 1971.6,280.5 1974.6,277.7 1977.6,275.1 1980.6,272.6 1983.6,270.3 1986.6,268.0 1989.6,265.8 1992.6,263.8 1995.6,261.7 1998.6,259.8 2001.6,257.9 2004.6,256.1 2007.6,254.3 2010.6,252.6 2013.6,250.9 2016.6,249.2 2019.6,247.6 2022.6,246.0 2025.6,244.5 2028.6,243.0 2031.6,241.5 2034.6,240.1 2037.6,238.7 2040.6,237.4 2043.6,236.1 2046.6,234.9 2049.6,233.6 2052.6,232.4 2055.6,231.2 2058.6,230.1 2061.6,229.0 2064.6,227.9 2067.6,226.8 2070.6,225.8 2073.6,224.8 2076.6,223.8 2079.6,222.8 2082.6,221.9 2085.6,221.0 2088.6,220.1 2091.6,219.3 2094.6,218.5 2097.6,217.7 2100.6,216.9 2103.6,216.1 2106.6,215.3 2109.6,214.6 2112.6,213.8 2115.6,213.1 2118.6,212.3 2121.6,211.6 2124.6,210.8 2127.6,210.1 2130.6,209.3 2133.6,208.6 2136.6,207.8 2139.6,207.1 2142.6,206.4 2145.6,205.7 2148.6,205.0 2151.6,204.3 2154.6,203.6 2157.6,202.9 2160.6,202.2 2163.6,201.6 2166.6,200.9 2169.6,200.3 2172.6,199.7 2175.6,199.1 2178.6,198.5 2181.6,197.9 2184.6,197.3 2187.6,196.8 2190.6,196.2 2193.6,195.6 2196.6,195.1 2199.6,194.6 2202.6,194.1 2205.6,193.6 2208.6,193.2 2211.6,192.7 2214.6,192.3 2217.6,191.9 2220.6,191.5 2223.6,191.1 2226.6,190.7 2229.6,190.3 2232.6,190.0 2235.6,189.6 2238.6,189.3 2241.6,188.9 2244.6,188.6 2247.6,188.3 2250.6,188.0 2253.6,187.8 2256.6,187.5 2259.6,187.3 2262.6,187.0 2265.6,186.8 2268.6,186.5 2271.6,186.3 2274.6,186.1 2277.6,185.8 2280.6,185.6 2283.6,185.4 2286.6,185.2 2289.6,185.0 2292.6,184.8 2295.6,184.6 2298.6,184.5 2301.6,184.3 2304.6,184.2 2307.6,184.1 2310.6,184.0 2313.6,183.9 2316.6,183.8 2319.6,183.8 2322.6,183.7 2325.6,183.7 2328.6,183.6 2331.6,183.5 2334.6,183.5 2337.6,183.4 2340.6,183.4 2343.6,183.3 2346.6,183.3 2349.6,183.2 2352.6,183.2 2355.6,183.1 2358.6,183.1 2361.6,183.1 2364.6,183.0 2367.6,183.0 2370.6,183.0 2373.6,182.9 2376.6,182.9 2379.6,182.9 2382.6,182.8 2385.6,182.8 2388.6,182.8 2391.6,182.8 2394.6,182.8 2397.6,182.7 2400.6,182.7 2403.6,182.7 2406.6,182.7 2409.6,182.7 2412.6,182.7 2413.4,182.7" fill="none" stroke="#999999" stroke-width="8.5" stroke-linejoin="round"/>
<polyline points="1283.5,970.9 1286.1,970.7 1288.7,970.6 1291.3,970.5 1293.9,970.3 1296.6,970.2 1299.2,970.1 1301.8,969.9 1304.4,969.8 1307.0,969.6 1309.6,969.5 1312.2,969.3 1314.8,969.1 1317.5,969.0 1320.1,968.8 1322.7,968.6 1325.3,968.5 1327.9,968.3 1330.5,968.1 1333.1,967.9 1335.7,967.7 1338.4,967.5 1341.0,967.4 1343.6,967.2 1346.2,966.9 1348.8,966.7 1351.4,966.5 1354.0,966.3 1356.6,966.1 1359.3,965.9 1361.9,965.6 1364.5,965.4 1367.1,965.1 1369.7,964.9 1372.3,964.6 1374.9,964.4 1377.5,964.1 1380.2,963.9 1382.8,963.6 1385.4,963.3 1388.0,963.0 1390.6,962.7 1393.2,962.4 1395.8,962.1 1398.4,961.8 1401.0,961.5 1403.7,961.2 1406.3,960.8 1408.9,960.5 1411.5,960.2 1414.1,959.8 1416.7,959.4 1419.3,959.1 1421.9,958.7 1424.6,958.3 1427.2,957.9 1429.8,957.5 1432.4,957.1 1435.0,956.7 1437.6,956.3 1440.2,955.9 1442.8,955.4 1445.5,955.0 1448.1,954.5 1450.7,954.1 1453.3,953.6 1455.9,953.1 1458.5,952.6 1461.1,952.1 1463.7,951.6 1466.4,951.1 1469.0,950.5 1471.6,950.0 1474.2,949.4 1476.8,948.9 1479.4,948.3 1482.0,947.7 1484.6,947.1 1487.2,946.5 1489.9,945.8 1492.5,945.2 1495.1,944.5 1497.7,943.9 1500.3,943.2 1502.9,942.5 1505.5,941.8 1508.1,941.1 1510.8,940.3 1513.4,939.6 1516.0,938.8 1518.6,938.0 1521.2,937.2 1523.8,936.4 1526.4,935.6 1529.0,934.8 1531.7,933.9 1534.3,933.0 1536.9,932.1 1539.5,931.2 1542.1,930.3 1544.7,929.4 1547.3,928.4 1549.9,927.4 1552.6,926.4 1555.2,925.4 1557.8,924.4 1560.4,923.3 1563.0,922.2 1565.6,921.1 1568.2,920.0 1570.8,918.9 1573.5,917.7 1576.1,916.6 1578.7,915.4 1581.3,914.1 1583.9,912.9 1586.5,911.6 1589.1,910.3 1591.7,909.0 1594.3,907.7 1597.0,906.3 1599.6,904.9 1602.2,903.5 1604.8,902.1 1607.4,900.6 1610.0,899.1 1612.6,897.6 1615.2,896.1 1617.9,894.5 1620.5,892.9 1623.1,891.3 1625.7,889.7 1628.3,888.0 1630.9,886.3 1633.5,884.6 1636.1,882.8 1638.8,881.0 1641.4,879.2 1644.0,877.3 1646.6,875.5 1649.2,873.5 1651.8,871.6 1654.4,869.6 1657.0,867.6 1659.7,865.6 1662.3,863.5 1664.9,861.4 1667.5,859.3 1670.1,857.1 1672.7,854.9 1675.3,852.7 1677.9,850.4 1680.5,848.1 1683.2,845.8 1685.8,843.4 1688.4,841.0 1691.0,838.6 1693.6,836.1 1696.2,833.6 1698.8,831.1 1701.4,828.5 1704.1,825.9 1706.7,823.2 1709.3,820.6 1711.9,817.8 1714.5,815.1 1717.1,812.3 1719.7,809.5 1722.3,806.6 1725.0,803.7 1727.6,800.8 1730.2,797.8 1732.8,794.8 1735.4,791.7 1738.0,788.7 1740.6,785.5 1743.2,782.4 1745.9,779.2 1748.5,776.0 1751.1,772.7 1753.7,769.4 1756.3,766.1 1758.9,762.7 1761.5,759.3 1764.1,755.9 1766.8,752.4 1769.4,748.9 1772.0,745.4 1774.6,741.8 1777.2,738.2 1779.8,734.5 1782.4,730.9 1785.0,727.2 1787.6,723.4 1790.3,719.7 1792.9,715.9 1795.5,712.0 1798.1,708.2 1800.7,704.3 1803.3,700.4 1805.9,696.4 1808.5,692.5 1811.2,688.5 1813.8,684.4 1816.4,680.4 1819.0,676.3 1821.6,672.2 1824.2,668.1 1826.8,663.9 1829.4,659.8 1832.1,655.6 1834.7,651.4 1837.3,647.2 1839.9,642.9 1842.5,638.7 1845.1,634.4 1847.7,630.1 1850.3,625.8 1853.0,621.4 1855.6,617.1 1858.2,612.7 1860.8,608.4 1863.4,604.0 1866.0,599.6 1868.6,595.2 1871.2,590.8 1873.8,586.4 1876.5,582.0 1879.1,577.6 1881.7,573.2 1884.3,568.8 1886.9,564.3 1889.5,559.9 1892.1,555.5 1894.7,551.0 1897.4,546.6 1900.0,542.2 1902.6,537.8 1905.2,533.4 1907.8,529.0 1910.4,524.6 1913.0,520.2 1915.6,515.8 1918.3,511.4 1920.9,507.1 1923.5,502.7 1926.1,498.4 1928.7,494.1 1931.3,489.8 1933.9,485.5 1936.5,481.2 1939.2,477.0 1941.8,472.7 1944.4,468.5 1947.0,464.3 1949.6,460.1 1952.2,456.0 1954.8,451.9 1957.4,447.7 1960.1,443.7 1962.7,439.6 1965.3,435.6 1967.9,431.6 1970.5,427.6 1973.1,423.6 1975.7,419.7 1978.3,415.8 1980.9,411.9 1983.6,408.1 1986.2,404.3 1988.8,400.5 1991.4,396.7 1994.0,393.0 1996.6,389.3 1999.2,385.7 2001.8,382.0 2004.5,378.5 2007.1,374.9 2009.7,371.4 2012.3,367.9 2014.9,364.4 2017.5,361.0 2020.1,357.6 2022.7,354.3 2025.4,351.0 2028.0,347.7 2030.6,344.4 2033.2,341.2 2035.8,338.1 2038.4,334.9 2041.0,331.8 2043.6,328.8 2046.3,325.7 2048.9,322.8 2051.5,319.8 2054.1,316.9 2056.7,314.0 2059.3,311.2 2061.9,308.3 2064.5,305.6 2067.1,302.8 2069.8,300.1 2072.4,297.5 2075.0,294.8 2077.6,292.2 2080.2,289.7 2082.8,287.2 2085.4,284.7 2088.0,282.2 2090.7,279.8 2093.3,277.4 2095.9,275.1 2098.5,272.8 2101.1,270.5 2103.7,268.2 2106.3,266.0 2108.9,263.8 2111.6,261.7 2114.2,259.6 2116.8,257.5 2119.4,255.4 2122.0,253.4 2124.6,251.4 2127.2,249.5 2129.8,247.5 2132.5,245.7 2135.1,243.8 2137.7,242.0 2140.3,240.2 2142.9,238.4 2145.5,236.6 2148.1,234.9 2150.7,233.2 2153.4,231.6 2156.0,229.9 2158.6,228.3 2161.2,226.7 2163.8,225.2 2166.4,223.7 2169.0,222.2 2171.6,220.7 2174.2,219.3 2176.9,217.8 2179.5,216.4 2182.1,215.1 2184.7,213.7 2187.3,212.4 2189.9,211.1 2192.5,209.8 2195.1,208.5 2197.8,207.3 2200.4,206.1 2203.0,204.9 2205.6,203.7 2208.2,202.6 2210.8,201.5 2213.4,200.4 2216.0,199.3 2218.7,198.2 2221.3,197.2 2223.9,196.1 2226.5,195.1 2229.1,194.2 2231.7,193.2 2234.3,192.2 2236.9,191.3 2239.6,190.4 2242.2,189.5 2244.8,188.6 2247.4,187.7 2250.0,186.9 2252.6,186.0 2255.2,185.2 2257.8,184.4 2260.5,183.6 2263.1,182.9 2265.7,182.1 2268.3,181.4 2270.9,180.6 2273.5,179.9 2276.1,179.2 2278.7,178.5 2281.3,177.9 2284.0,177.2 2286.6,176.6 2289.2,175.9 2291.8,175.3 2294.4,174.7 2297.0,174.1 2299.6,173.5 2302.2,172.9 2304.9,172.4 2307.5,171.8 2310.1,171.3 2312.7,170.7 2315.3,170.2 2317.9,169.7 2320.5,169.2 2323.1,168.7 2325.8,168.2 2328.4,167.8" fill="none" stroke="#0072bd" stroke-width="8" stroke-dasharray="8 10.4"/>
<rect x="1276.0" y="973.1" width="15" height="7" fill="#333333"/>
<circle cx="1283.5" cy="976.6" r="13.1" fill="none" stroke="#333333" stroke-width="4.8"/>
<rect x="1361.0" y="972.7" width="15" height="7" fill="#333333"/>
<circle cx="1368.5" cy="976.2" r="13.1" fill="none" stroke="#333333" stroke-width="4.8"/>
<rect x="1473.4" y="972.1" width="15" height="7" fill="#333333"/>
<circle cx="1480.9" cy="975.6" r="13.1" fill="none" stroke="#333333" stroke-width="4.8"/>
<rect x="1558.5" y="968.0" width="15" height="7" fill="#333333"/>
<circle cx="1566.0" cy="971.5" r="13.1" fill="none" stroke="#333333" stroke-width="4.8"/>
<rect x="1643.5" y="963.1" width="15" height="7" fill="#333333"/>
<circle cx="1651.0" cy="966.6" r="13.1" fill="none" stroke="#333333" stroke-width="4.8"/>
<rect x="1755.9" y="951.6" width="15" height="7" fill="#333333"/>
<circle cx="1763.4" cy="955.1" r="13.1" fill="none" stroke="#333333" stroke-width="4.8"/>
<path d="M1848.5 482.7 V638 M1840.9 482.7 h15.2 M1840.9 638 h15.2" stroke="#333333" stroke-width="5.6" fill="none"/>
<circle cx="1848.5" cy="559.7" r="13.1" fill="none" stroke="#333333" stroke-width="4.8"/>
<path d="M1933.5 239.2 V537.4 M1925.9 239.2 h15.2 M1925.9 537.4 h15.2" stroke="#333333" stroke-width="5.6" fill="none"/>
<circle cx="1933.5" cy="388.1" r="13.1" fill="none" stroke="#333333" stroke-width="4.8"/>
<path d="M2130.9 127.2 V171.2 M2123.3 127.2 h15.2 M2123.3 171.2 h15.2" stroke="#333333" stroke-width="5.6" fill="none"/>
<circle cx="2130.9" cy="149.3" r="13.1" fill="none" stroke="#333333" stroke-width="4.8"/>
<path d="M2216.0 150.3 V216.1 M2208.4 150.3 h15.2 M2208.4 216.1 h15.2" stroke="#333333" stroke-width="5.6" fill="none"/>
<circle cx="2216.0" cy="182.4" r="13.1" fill="none" stroke="#333333" stroke-width="4.8"/>
<path d="M2328.4 168 V198.5 M2320.8 168 h15.2 M2320.8 198.5 h15.2" stroke="#333333" stroke-width="5.6" fill="none"/>
<circle cx="2328.4" cy="183.2" r="13.1" fill="none" stroke="#333333" stroke-width="4.8"/>
<text x="1244.84" y="992.60" font-family='"Liberation Sans", sans-serif' font-size="43.16" fill="#3a3a3a" textLength="23.08" lengthAdjust="spacingAndGlyphs">0</text>
<text x="1210.36" y="888.40" font-family='"Liberation Sans", sans-serif' font-size="43.16" fill="#3a3a3a" textLength="57.69" lengthAdjust="spacingAndGlyphs">0.5</text>
<text x="1245.26" y="784.20" font-family='"Liberation Sans", sans-serif' font-size="43.16" fill="#3a3a3a" textLength="23.08" lengthAdjust="spacingAndGlyphs">1</text>
<text x="1210.36" y="680.00" font-family='"Liberation Sans", sans-serif' font-size="43.16" fill="#3a3a3a" textLength="57.69" lengthAdjust="spacingAndGlyphs">1.5</text>
<text x="1245.30" y="575.80" font-family='"Liberation Sans", sans-serif' font-size="43.16" fill="#3a3a3a" textLength="23.08" lengthAdjust="spacingAndGlyphs">2</text>
<text x="1210.36" y="471.60" font-family='"Liberation Sans", sans-serif' font-size="43.16" fill="#3a3a3a" textLength="57.69" lengthAdjust="spacingAndGlyphs">2.5</text>
<text x="1245.05" y="367.40" font-family='"Liberation Sans", sans-serif' font-size="43.16" fill="#3a3a3a" textLength="23.08" lengthAdjust="spacingAndGlyphs">3</text>
<text x="1210.36" y="263.20" font-family='"Liberation Sans", sans-serif' font-size="43.16" fill="#3a3a3a" textLength="57.69" lengthAdjust="spacingAndGlyphs">3.5</text>
<text x="1244.43" y="159.00" font-family='"Liberation Sans", sans-serif' font-size="43.16" fill="#3a3a3a" textLength="23.08" lengthAdjust="spacingAndGlyphs">4</text>
<text x="1242.03" y="1044.40" font-family='"Liberation Sans", sans-serif' font-size="43.16" fill="#3a3a3a" textLength="46.41" lengthAdjust="spacingAndGlyphs">10</text>
<text x="1288.24" y="1022.30" font-family='"Liberation Sans", sans-serif' font-size="32.24" fill="#3a3a3a" textLength="27.56" lengthAdjust="spacingAndGlyphs">-1</text>
<text x="1533.20" y="1044.40" font-family='"Liberation Sans", sans-serif' font-size="43.16" fill="#3a3a3a" textLength="46.41" lengthAdjust="spacingAndGlyphs">10</text>
<text x="1579.57" y="1022.30" font-family='"Liberation Sans", sans-serif' font-size="32.24" fill="#3a3a3a" textLength="17.24" lengthAdjust="spacingAndGlyphs">0</text>
<text x="1815.68" y="1044.40" font-family='"Liberation Sans", sans-serif' font-size="43.16" fill="#3a3a3a" textLength="46.41" lengthAdjust="spacingAndGlyphs">10</text>
<text x="1860.89" y="1022.30" font-family='"Liberation Sans", sans-serif' font-size="32.24" fill="#3a3a3a" textLength="17.24" lengthAdjust="spacingAndGlyphs">1</text>
<text x="2098.15" y="1044.40" font-family='"Liberation Sans", sans-serif' font-size="43.16" fill="#3a3a3a" textLength="46.41" lengthAdjust="spacingAndGlyphs">10</text>
<text x="2144.18" y="1022.30" font-family='"Liberation Sans", sans-serif' font-size="32.24" fill="#3a3a3a" textLength="17.24" lengthAdjust="spacingAndGlyphs">2</text>
<text x="2380.63" y="1044.40" font-family='"Liberation Sans", sans-serif' font-size="43.16" fill="#3a3a3a" textLength="46.41" lengthAdjust="spacingAndGlyphs">10</text>
<text x="2427.02" y="1022.30" font-family='"Liberation Sans", sans-serif' font-size="32.24" fill="#3a3a3a" textLength="17.24" lengthAdjust="spacingAndGlyphs">3</text>
<text x="1285.06" y="96.00" font-family='"Liberation Serif", serif' font-size="46.00" fill="#3a3a3a" textLength="28.82" lengthAdjust="spacingAndGlyphs">×</text>
<text x="1317.61" y="91.30" font-family='"Liberation Sans", sans-serif' font-size="43.16" fill="#3a3a3a" textLength="45.30" lengthAdjust="spacingAndGlyphs">10</text>
<text x="1363.43" y="69.20" font-family='"Liberation Sans", sans-serif' font-size="32.24" fill="#3a3a3a" textLength="18.54" lengthAdjust="spacingAndGlyphs">4</text>
<text x="1498.43" y="1085.70" font-family='"Liberation Sans", sans-serif' font-size="47.32" fill="#3a3a3a" textLength="102.74" lengthAdjust="spacingAndGlyphs">Total</text>
<text x="1614.23" y="1085.70" font-family='"Liberation Serif", serif' font-size="47.00" font-style="italic" fill="#484848" textLength="27.48" lengthAdjust="spacingAndGlyphs">α</text>
<text x="1645.49" y="1085.70" font-family='"Liberation Sans", sans-serif' font-size="47.32" fill="#3a3a3a" textLength="205.37" lengthAdjust="spacingAndGlyphs">-synuclein</text>
<text x="1863.67" y="1085.70" font-family='"Liberation Sans", sans-serif' font-size="47.32" fill="#3a3a3a" textLength="276.42" lengthAdjust="spacingAndGlyphs">concentration</text>
<text x="2151.70" y="1085.70" font-family='"Liberation Sans", sans-serif' font-size="47.32" fill="#3a3a3a" textLength="90.28" lengthAdjust="spacingAndGlyphs">[nM]</text>
<text x="-1.11" y="0.00" font-family='"Liberation Sans", sans-serif' font-size="47.32" fill="#3a3a3a" textLength="134.42" lengthAdjust="spacingAndGlyphs" transform="translate(1192.50 992.00) rotate(-90)">Bound</text>
<text x="151.82" y="0.00" font-family='"Liberation Serif", serif' font-size="47.00" font-style="italic" fill="#484848" textLength="24.19" lengthAdjust="spacingAndGlyphs" transform="translate(1192.50 992.00) rotate(-90)">α</text>
<text x="181.58" y="0.00" font-family='"Liberation Sans", sans-serif' font-size="47.32" fill="#3a3a3a" textLength="207.01" lengthAdjust="spacingAndGlyphs" transform="translate(1192.50 992.00) rotate(-90)">-synuclein</text>
<text x="401.66" y="0.00" font-family='"Liberation Sans", sans-serif' font-size="47.32" fill="#3a3a3a" textLength="146.66" lengthAdjust="spacingAndGlyphs" transform="translate(1192.50 992.00) rotate(-90)">density</text>
<text x="557.67" y="0.00" font-family='"Liberation Sans", sans-serif' font-size="47.32" fill="#3a3a3a" textLength="237.42" lengthAdjust="spacingAndGlyphs" transform="translate(1192.50 992.00) rotate(-90)">[molecules/</text>
<text x="804.16" y="0.00" font-family='"Liberation Serif", serif' font-size="47.00" font-style="italic" fill="#484848" textLength="31.19" lengthAdjust="spacingAndGlyphs" transform="translate(1192.50 992.00) rotate(-90)">μ</text>
<text x="833.53" y="0.00" font-family='"Liberation Sans", sans-serif' font-size="47.32" fill="#3a3a3a" textLength="40.05" lengthAdjust="spacingAndGlyphs" transform="translate(1192.50 992.00) rotate(-90)">m</text>
<text x="871.90" y="-20.90" font-family='"Liberation Sans", sans-serif' font-size="36.40" fill="#3a3a3a" textLength="21.10" lengthAdjust="spacingAndGlyphs" transform="translate(1192.50 992.00) rotate(-90)">2</text>
<text x="892.51" y="0.00" font-family='"Liberation Sans", sans-serif' font-size="47.32" fill="#3a3a3a" textLength="13.54" lengthAdjust="spacingAndGlyphs" transform="translate(1192.50 992.00) rotate(-90)">]</text>
<path d="M1412.8 165.10 V447.7 H1760.41 M1412.8 447.70 h6 M1412.8 400.60 h6 M1412.8 353.50 h6 M1412.8 306.40 h6 M1412.8 259.30 h6 M1412.8 212.20 h6 M1412.8 165.10 h6 M1412.80 447.7 v-6 M1474.39 447.7 v-3 M1510.42 447.7 v-3 M1535.98 447.7 v-3 M1555.81 447.7 v-3 M1572.01 447.7 v-3 M1585.71 447.7 v-3 M1597.57 447.7 v-3 M1608.04 447.7 v-3 M1617.40 447.7 v-6 M1678.99 447.7 v-3 M1715.02 447.7 v-3 M1740.58 447.7 v-3 M1760.41 447.7 v-6" stroke="#3a3a3a" stroke-width="3" fill="none"/>
<rect x="1409.2" y="443.7" width="7.2" height="6" fill="#333333"/>
<circle cx="1412.8" cy="446.7" r="6.2" fill="none" stroke="#333333" stroke-width="2.2"/>
<rect x="1470.8" y="441.8" width="7.2" height="6" fill="#333333"/>
<circle cx="1474.4" cy="444.8" r="6.2" fill="none" stroke="#333333" stroke-width="2.2"/>
<path d="M1555.8 434.5 V441" stroke="#333333" stroke-width="5" fill="none"/>
<path d="M1551.8 434.5 h8 M1551.8 441 h8" stroke="#333333" stroke-width="4" fill="none"/>
<circle cx="1555.8" cy="437.8" r="6.2" fill="none" stroke="#333333" stroke-width="2.2"/>
<path d="M1617.4 355.3 V421.3" stroke="#333333" stroke-width="5" fill="none"/>
<path d="M1613.4 355.3 h8 M1613.4 421.3 h8" stroke="#333333" stroke-width="4" fill="none"/>
<circle cx="1617.4" cy="388.1" r="6.2" fill="none" stroke="#333333" stroke-width="2.2"/>
<path d="M1679.0 301.3 V357.4" stroke="#333333" stroke-width="5" fill="none"/>
<path d="M1675.0 301.3 h8 M1675.0 357.4 h8" stroke="#333333" stroke-width="4" fill="none"/>
<circle cx="1679.0" cy="329" r="6.2" fill="none" stroke="#333333" stroke-width="2.2"/>
<path d="M1760.4 180.4 V236.8" stroke="#333333" stroke-width="5" fill="none"/>
<path d="M1756.4 180.4 h8 M1756.4 236.8 h8" stroke="#333333" stroke-width="4" fill="none"/>
<circle cx="1760.4" cy="208.1" r="6.2" fill="none" stroke="#333333" stroke-width="2.2"/>
<text x="1391.45" y="456.00" font-family='"Liberation Sans", sans-serif' font-size="21.32" fill="#3a3a3a" textLength="12.43" lengthAdjust="spacingAndGlyphs">0</text>
<text x="1366.60" y="408.90" font-family='"Liberation Sans", sans-serif' font-size="21.32" fill="#3a3a3a" textLength="37.28" lengthAdjust="spacingAndGlyphs">200</text>
<text x="1366.60" y="361.80" font-family='"Liberation Sans", sans-serif' font-size="21.32" fill="#3a3a3a" textLength="37.28" lengthAdjust="spacingAndGlyphs">400</text>
<text x="1366.60" y="314.70" font-family='"Liberation Sans", sans-serif' font-size="21.32" fill="#3a3a3a" textLength="37.28" lengthAdjust="spacingAndGlyphs">600</text>
<text x="1366.60" y="267.60" font-family='"Liberation Sans", sans-serif' font-size="21.32" fill="#3a3a3a" textLength="37.28" lengthAdjust="spacingAndGlyphs">800</text>
<text x="1354.18" y="220.50" font-family='"Liberation Sans", sans-serif' font-size="21.32" fill="#3a3a3a" textLength="49.71" lengthAdjust="spacingAndGlyphs">1000</text>
<text x="1354.18" y="173.40" font-family='"Liberation Sans", sans-serif' font-size="21.32" fill="#3a3a3a" textLength="49.71" lengthAdjust="spacingAndGlyphs">1200</text>
<text x="1396.52" y="479.00" font-family='"Liberation Sans", sans-serif' font-size="21.32" fill="#3a3a3a" textLength="30.78" lengthAdjust="spacingAndGlyphs">0.1</text>
<text x="1609.95" y="479.00" font-family='"Liberation Sans", sans-serif' font-size="21.32" fill="#3a3a3a" textLength="12.31" lengthAdjust="spacingAndGlyphs">1</text>
<text x="1753.28" y="479.00" font-family='"Liberation Sans", sans-serif' font-size="21.32" fill="#3a3a3a" textLength="12.31" lengthAdjust="spacingAndGlyphs">5</text>
<text x="1562.72" y="508.00" font-family='"Liberation Sans", sans-serif' font-size="24.44" fill="#3a3a3a" textLength="70.10" lengthAdjust="spacingAndGlyphs">c [nM]</text>
<text x="-0.28" y="0.00" font-family='"Liberation Serif", serif' font-size="26.00" fill="#3a3a3a" textLength="16.33" lengthAdjust="spacingAndGlyphs" transform="translate(1341.80 404.50) rotate(-90)">Γ</text>
<text x="21.99" y="0.00" font-family='"Liberation Sans", sans-serif' font-size="25.48" fill="#3a3a3a" textLength="129.48" lengthAdjust="spacingAndGlyphs" transform="translate(1341.80 404.50) rotate(-90)">[molecules/</text>
<text x="152.59" y="0.00" font-family='"Liberation Serif", serif' font-size="26.00" font-style="italic" fill="#3a3a3a" textLength="15.02" lengthAdjust="spacingAndGlyphs" transform="translate(1341.80 404.50) rotate(-90)">μ</text>
<text x="167.06" y="0.00" font-family='"Liberation Sans", sans-serif' font-size="25.48" fill="#3a3a3a" textLength="21.86" lengthAdjust="spacingAndGlyphs" transform="translate(1341.80 404.50) rotate(-90)">m</text>
<text x="188.22" y="-11.50" font-family='"Liberation Sans", sans-serif' font-size="18.72" fill="#3a3a3a" textLength="12.54" lengthAdjust="spacingAndGlyphs" transform="translate(1341.80 404.50) rotate(-90)">2</text>
<text x="201.55" y="0.00" font-family='"Liberation Sans", sans-serif' font-size="25.48" fill="#3a3a3a" textLength="8.31" lengthAdjust="spacingAndGlyphs" transform="translate(1341.80 404.50) rotate(-90)">]</text>
</g>
</svg>
</body></html>
